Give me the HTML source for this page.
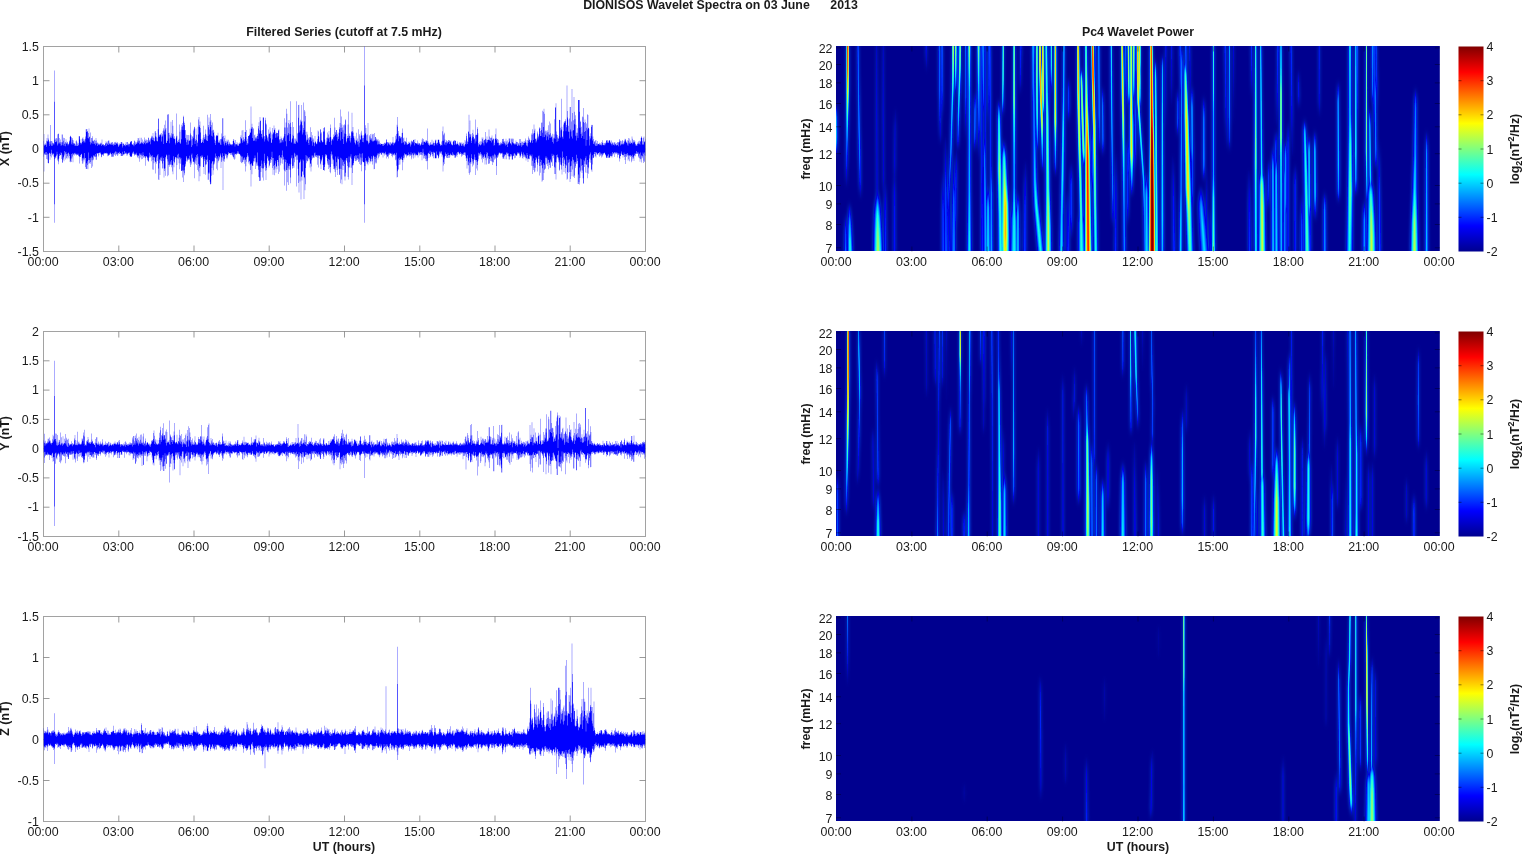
<!DOCTYPE html>
<html lang="en"><head><meta charset="utf-8"><title>DIONISOS Wavelet Spectra on 03 June 2013</title>
<style>html,body{margin:0;padding:0;background:#fff}body{width:1525px;height:854px;overflow:hidden}svg{display:block}</style></head>
<body>
<svg width="1525" height="854" viewBox="0 0 1525 854" font-family='"Liberation Sans", sans-serif' fill="#1a1a1a">
<defs>
<linearGradient id="jet" x1="0" y1="0" x2="0" y2="1"><stop offset="0" stop-color="#800000"/><stop offset="0.125" stop-color="#ff0000"/><stop offset="0.375" stop-color="#ffff00"/><stop offset="0.625" stop-color="#00ffff"/><stop offset="0.875" stop-color="#0000ff"/><stop offset="1" stop-color="#00008f"/></linearGradient>
<filter id="glow" x="-5%" y="-5%" width="110%" height="110%"><feGaussianBlur stdDeviation="1.6 3.5"/><feColorMatrix type="matrix" values="0 0 0 0 0  0 0 0 0 0.12  0 0 0 0 1  0 0 0 0.85 0"/></filter>
<filter id="b" x="-5%" y="-5%" width="110%" height="110%"><feGaussianBlur stdDeviation="0.55 1.2"/></filter>
<clipPath id="cl0"><rect x="43.5" y="46.5" width="602.0" height="205.0"/></clipPath>
<clipPath id="cr0"><rect x="836.0" y="46.0" width="603.8" height="205.0"/></clipPath>
<clipPath id="cl1"><rect x="43.5" y="331.5" width="602.0" height="205.0"/></clipPath>
<clipPath id="cr1"><rect x="836.0" y="331.0" width="603.8" height="205.0"/></clipPath>
<clipPath id="cl2"><rect x="43.5" y="616.5" width="602.0" height="205.0"/></clipPath>
<clipPath id="cr2"><rect x="836.0" y="616.0" width="603.8" height="205.0"/></clipPath>
</defs>
<rect width="1525" height="854" fill="#fff"/>
<text x="720.5" y="9.3" text-anchor="middle" font-size="12.35" font-weight="bold" xml:space="preserve">DIONISOS Wavelet Spectra on 03 June&#160;&#160;&#160;&#160;&#160;&#160;2013</text>
<text x="344.0" y="36.3" text-anchor="middle" font-size="12.35" font-weight="bold">Filtered Series (cutoff at 7.5 mHz)</text>
<text x="1138.0" y="36.3" text-anchor="middle" font-size="12.35" font-weight="bold">Pc4 Wavelet Power</text>
<rect x="43.5" y="46.5" width="602.0" height="205.0" fill="none" stroke="#a2a2a2" stroke-width="1"/>
<text x="43.1" y="265.7" text-anchor="middle" font-size="12.4">00:00</text>
<text x="118.3" y="265.7" text-anchor="middle" font-size="12.4">03:00</text>
<text x="193.6" y="265.7" text-anchor="middle" font-size="12.4">06:00</text>
<text x="268.9" y="265.7" text-anchor="middle" font-size="12.4">09:00</text>
<text x="344.1" y="265.7" text-anchor="middle" font-size="12.4">12:00</text>
<text x="419.4" y="265.7" text-anchor="middle" font-size="12.4">15:00</text>
<text x="494.6" y="265.7" text-anchor="middle" font-size="12.4">18:00</text>
<text x="569.9" y="265.7" text-anchor="middle" font-size="12.4">21:00</text>
<text x="645.1" y="265.7" text-anchor="middle" font-size="12.4">00:00</text>
<text x="38.9" y="255.7" text-anchor="end" font-size="12.4">-1.5</text>
<text x="38.9" y="221.5" text-anchor="end" font-size="12.4">-1</text>
<text x="38.9" y="187.4" text-anchor="end" font-size="12.4">-0.5</text>
<text x="38.9" y="153.2" text-anchor="end" font-size="12.4">0</text>
<text x="38.9" y="119.0" text-anchor="end" font-size="12.4">0.5</text>
<text x="38.9" y="84.9" text-anchor="end" font-size="12.4">1</text>
<text x="38.9" y="50.7" text-anchor="end" font-size="12.4">1.5</text>
<path d="M118.8 251.5v-6M118.8 46.5v6M194.0 251.5v-6M194.0 46.5v6M269.2 251.5v-6M269.2 46.5v6M344.5 251.5v-6M344.5 46.5v6M419.8 251.5v-6M419.8 46.5v6M495.0 251.5v-6M495.0 46.5v6M570.2 251.5v-6M570.2 46.5v6M43.5 217.3h6M645.5 217.3h-6M43.5 183.2h6M645.5 183.2h-6M43.5 149.0h6M645.5 149.0h-6M43.5 114.8h6M645.5 114.8h-6M43.5 80.7h6M645.5 80.7h-6" stroke="#6e6e6e" stroke-width="0.7" fill="none"/>
<g clip-path="url(#cl0)">
<path transform="translate(43.5 0) scale(0.333333 1)" d="M0 141.0h1V134h1V145.7h1V144.2h1V145.1h1V143.2h1V144.7h1V144.6h1V140.7h1V146.7h1V137.9h1V141.6h1V141.3h1V134.6h1V139.9h1V138.6h1V141.5h1V145.9h1V141.6h1V143.7h1V125.1h1V141.3h1V144.7h1V141h1V145.9h1V140.9h1V142.4h1V145.7h1V143h1V143h1V144.3h1V144.4h1V70.4h1V101.8h1V139.8h1V142.1h1V138.5h1V142.2h1V138h1V141.3h1V138.5h1V145.4h1V134.3h1V144.3h1V133.7h1V133.7h1V143h1V142.3h1V138h1V143.9h1V139.6h1V142.2h1V145.7h1V145.3h1V142.3h1V134.5h1V142.3h1V134.6h1V144.9h1V140.7h1V137.8h1V145.9h1V138.1h1V144.1h1V142.7h1V141.9h1V146.2h1V139.2h1V143.6h1V143.5h1V141.5h1V143.4h1V142h1V145.6h1V144h1V144.6h1V143.2h1V140.5h1V141.5h1V136.9h1V135.9h1V135.8h1V137h1V137.5h1V144.2h1V142.4h1V139.7h1V137.9h1V144.7h1V140.2h1V143.4h1V142.9h1V143.3h1V143.9h1V145.9h1V145.7h1V144.4h1V140.9h1V146h1V140.3h1V141.8h1V146.1h1V143.4h1V146h1V143.3h1V144.9h1V136.2h1V136.1h1V136.5h1V139.4h1V143h1V142.5h1V144.5h1V142.8h1V143.4h1V139h1V141.9h1V138.3h1V137.3h1V141h1V139.3h1V142.5h1V141.2h1V139.5h1V142.5h1V138.7h1V136.6h1V129.2h1V129.2h1V131.9h1V128.9h1V130.9h1V131.8h1V138.1h1V132.9h1V138.6h1V128.4h1V136.8h1V136.8h1V141.8h1V144.4h1V132.6h1V142.3h1V143.3h1V138h1V138h1V140.7h1V136.2h1V143.9h1V141.1h1V141.4h1V140.1h1V139.7h1V144h1V143h1V140.8h1V145.2h1V137.9h1V140.6h1V143.6h1V143.4h1V145.9h1V142.4h1V142.7h1V145.1h1V144h1V143.3h1V145.3h1V144h1V144.7h1V143.8h1V142.7h1V143.8h1V142.8h1V146.1h1V139.6h1V144.6h1V145h1V143.9h1V144.1h1V145.3h1V145.8h1V145.1h1V145h1V146.5h1V143.8h1V143.3h1V141.3h1V142.8h1V146.1h1V142.3h1V144.5h1V143.6h1V141h1V145h1V140.6h1V140.6h1V144.3h1V142.8h1V143.7h1V144.7h1V143.7h1V142.6h1V142.8h1V144.7h1V142.2h1V144.9h1V142.1h1V144.1h1V143.4h1V145.7h1V144.7h1V144.8h1V141.9h1V143h1V142.2h1V144.9h1V141.7h1V143.1h1V143.8h1V143.5h1V143.4h1V141.9h1V144.8h1V145.7h1V146.9h1V143.2h1V145.6h1V144.5h1V143.6h1V144.2h1V144h1V142h1V143.7h1V142h1V141.9h1V147.6h1V143.4h1V146.1h1V143.7h1V143.4h1V143.8h1V145.1h1V145.4h1V145.3h1V144.1h1V146.3h1V142.3h1V145.1h1V145.3h1V142h1V142.1h1V145.2h1V144.6h1V144.6h1V143.5h1V146.6h1V144.2h1V144.1h1V143.1h1V142h1V141.4h1V141.4h1V141.2h1V141h1V144.2h1V144.8h1V144.5h1V144.3h1V145.3h1V142.9h1V146.2h1V141.3h1V140.6h1V144.2h1V145.1h1V141.8h1V143.6h1V142.2h1V144.1h1V143.6h1V142.3h1V140.4h1V138h1V142.8h1V138.3h1V141h1V140.5h1V144.3h1V137.8h1V144h1V142.8h1V143.6h1V142.1h1V137.7h1V142.9h1V142.8h1V139.6h1V143.9h1V144.2h1V141.4h1V142.2h1V137.5h1V143h1V140h1V140.9h1V144.2h1V139.1h1V142.9h1V140.3h1V143.5h1V140h1V142.3h1V143h1V137.9h1V137.6h1V141.5h1V141.8h1V139.8h1V140.4h1V138.3h1V144.3h1V139.3h1V135.8h1V137.5h1V137.5h1V139.9h1V136.2h1V132.9h1V140.6h1V137.4h1V137.9h1V141.6h1V140.9h1V131.4h1V131h1V136.5h1V133.1h1V140.8h1V136.7h1V137.7h1V141.3h1V141.3h1V129.2h1V118.2h1V118.9h1V136.4h1V135h1V136.8h1V134.3h1V133.8h1V134.9h1V135.6h1V133.1h1V141.4h1V137.1h1V135.8h1V134.2h1V131.1h1V144.1h1V128.3h1V129.8h1V124.8h1V131.5h1V134.4h1V120.5h1V129.5h1V128.1h1V142.9h1V142.7h1V140.5h1V141h1V114.8h1V114.2h1V114.2h1V132.9h1V138.4h1V143.2h1V132.7h1V135.1h1V136.6h1V137.8h1V121.7h1V138h1V133.3h1V136.4h1V134.3h1V119.9h1V125.8h1V133.8h1V137.7h1V138.9h1V136.2h1V138.8h1V139.3h1V144.5h1V142.7h1V138.2h1V113.5h1V136.5h1V135.8h1V140.9h1V143h1V141.9h1V140.1h1V142h1V138.8h1V124.5h1V142.4h1V131.7h1V144.1h1V142.8h1V129.8h1V139.2h1V124.8h1V126.9h1V122.9h1V125.7h1V130.1h1V115.8h1V116.9h1V121.5h1V123h1V125.1h1V130.3h1V130.1h1V138h1V139.6h1V142.2h1V134.7h1V145.1h1V140.2h1V135.1h1V139.5h1V135.1h1V144.4h1V141.1h1V140.5h1V140.4h1V135.2h1V133.6h1V122.5h1V140.6h1V135.3h1V147h1V138.9h1V145.2h1V136.5h1V136.5h1V138.3h1V130.5h1V128.8h1V127.2h1V126.7h1V143.9h1V140.9h1V139.2h1V128.4h1V140h1V134.8h1V146.3h1V143h1V141.5h1V126.7h1V134.5h1V119.5h1V117h1V125.2h1V127h1V121.5h1V128.1h1V132.4h1V139.1h1V142.9h1V142.9h1V142h1V139.7h1V141.8h1V137.8h1V143.1h1V125.7h1V135.1h1V139.2h1V137.2h1V139.2h1V133.8h1V129.4h1V134.3h1V139.9h1V135.6h1V141.1h1V141.1h1V114.8h1V135.9h1V124.9h1V127.3h1V117.5h1V129.6h1V134.5h1V121.7h1V126.9h1V113.9h1V120.3h1V124.9h1V135.7h1V130.8h1V136.6h1V122.5h1V130h1V129.7h1V133.1h1V131.8h1V135.4h1V139.4h1V143h1V140.7h1V145h1V136.4h1V135.3h1V135.8h1V135h1V136h1V135.5h1V132.8h1V142.3h1V142.7h1V140.3h1V141.4h1V142.9h1V139.4h1V144.4h1V139h1V145h1V133.6h1V138.8h1V139.4h1V136.7h1V118.2h1V118.2h1V135.9h1V141.6h1V143.7h1V137.9h1V145.5h1V135.4h1V141.5h1V143.1h1V140.9h1V142.7h1V145.2h1V139.6h1V140.7h1V142.1h1V144h1V139.7h1V144.4h1V145.7h1V143.7h1V141.7h1V143.3h1V144.9h1V144.1h1V144.2h1V144.9h1V143.9h1V145.5h1V144.1h1V144.4h1V141h1V139h1V140.9h1V139.7h1V143.3h1V142.5h1V146.6h1V139.9h1V144.3h1V144.4h1V144.3h1V144.2h1V142h1V143.4h1V145.6h1V145.6h1V144.5h1V145.9h1V142.9h1V142.5h1V144.1h1V144.1h1V136.9h1V143.1h1V135.3h1V138.8h1V138.3h1V130.5h1V140.5h1V142.8h1V130h1V137.2h1V140.3h1V141.7h1V141.2h1V138.9h1V132.1h1V132h1V120.2h1V137h1V129.9h1V140.8h1V145.1h1V138.8h1V143.2h1V143.4h1V136.1h1V136.1h1V136h1V134.7h1V134.8h1V128.7h1V132.6h1V132.7h1V106.6h1V129h1V127.4h1V123.7h1V127.1h1V138h1V128.6h1V128.6h1V140.8h1V140.8h1V140.6h1V135.3h1V134.4h1V138.6h1V137.3h1V141.2h1V137.2h1V138.6h1V136.1h1V136.1h1V133.7h1V138.9h1V125.9h1V128.5h1V122.2h1V130.3h1V133.5h1V117h1V120.8h1V120.7h1V130.8h1V133.9h1V133.8h1V137h1V130h1V138.5h1V117.4h1V117.5h1V117.5h1V136.5h1V141.5h1V135.9h1V139.3h1V117.8h1V120.3h1V123.6h1V124.5h1V135h1V136.3h1V138.3h1V140.4h1V136.7h1V141.4h1V129.4h1V134.2h1V132.8h1V134h1V127.3h1V131.5h1V138.2h1V132.7h1V142.9h1V142.5h1V134.5h1V139.5h1V127.9h1V134.2h1V131.9h1V133h1V125.5h1V129.9h1V129.6h1V128h1V134.1h1V137.8h1V131.7h1V133.3h1V133h1V137.5h1V133h1V133h1V136.3h1V129.8h1V130.8h1V129.6h1V140.3h1V138.9h1V143.2h1V138.9h1V142.4h1V136.6h1V142.5h1V138.4h1V138.2h1V140.1h1V140.6h1V142.2h1V138.5h1V137.6h1V136.2h1V118.3h1V127.5h1V134h1V127.4h1V141.2h1V122.5h1V146.3h1V108.7h1V113.7h1V127.5h1V135.5h1V134.8h1V133h1V123.1h1V119.9h1V124.3h1V140.9h1V133.9h1V101.2h1V122.7h1V127h1V141.8h1V142.8h1V139.2h1V138.2h1V122.1h1V134.7h1V136h1V127.1h1V143.7h1V138.4h1V143.4h1V142.6h1V138.4h1V144.1h1V139.6h1V101.2h1V140.9h1V141.9h1V142.7h1V133.6h1V132.7h1V117.8h1V105h1V104.8h1V132.5h1V125.4h1V130.4h1V124.6h1V119.7h1V121.3h1V104.9h1V122.3h1V120.7h1V125.2h1V134.4h1V132.5h1V127.9h1V102.5h1V129.9h1V121.4h1V109.9h1V111.4h1V115.9h1V135.2h1V131.7h1V141.5h1V139.7h1V131.8h1V140h1V134.4h1V138.7h1V142.9h1V137.8h1V145h1V137.1h1V139.7h1V137.6h1V127.2h1V137.2h1V137.3h1V132h1V141.3h1V138.3h1V145.8h1V135.3h1V139.8h1V142.3h1V138.6h1V142.5h1V143.2h1V146.2h1V135.9h1V141.9h1V141.2h1V142.7h1V144.3h1V143.6h1V143.7h1V141.6h1V139h1V130.5h1V135.9h1V131.5h1V136.7h1V141.8h1V141.7h1V142.7h1V129.4h1V129.2h1V133.6h1V132.2h1V140.6h1V140.4h1V142.5h1V141.8h1V142.1h1V131.5h1V127.9h1V131.5h1V127.5h1V127.3h1V139.5h1V145.1h1V144.6h1V142.5h1V145.1h1V137.7h1V141.2h1V132.5h1V137.4h1V138.3h1V134.5h1V138.5h1V131.1h1V137.8h1V142.1h1V136.7h1V124.4h1V128h1V137.2h1V144.8h1V140.7h1V139.3h1V138.8h1V139.5h1V140.6h1V137.3h1V134.4h1V137.3h1V117.7h1V136h1V127.5h1V132h1V134.9h1V133.5h1V130.1h1V130.1h1V137.1h1V134.3h1V140.8h1V132.2h1V139.1h1V136.5h1V132.9h1V127.3h1V129.3h1V123h1V140.5h1V109.4h1V127.9h1V132.1h1V116.6h1V124.6h1V127.4h1V139h1V130.3h1V125.3h1V144.1h1V136.8h1V133.4h1V124.2h1V125.2h1V120.3h1V119.3h1V133.9h1V142.5h1V141.2h1V138.8h1V138.1h1V136h1V124.5h1V111.4h1V138h1V135.8h1V133.4h1V136h1V140.8h1V135.8h1V142.4h1V137.9h1V132.3h1V131.2h1V112.8h1V132.4h1V130.9h1V127h1V136.2h1V132.4h1V138h1V139.4h1V142.5h1V136.2h1V143.3h1V144.4h1V140.3h1V140.6h1V132.7h1V140.8h1V138.6h1V142.1h1V144.4h1V141.3h1V129.3h1V146.7h1V134.2h1V142.8h1V135.7h1V139h1V140h1V132.6h1V134.8h1V130.7h1V136h1V141.9h1V138.2h1V135h1V137.9h1V142.3h1V135.5h1V43.1h1V85.5h1V134.2h1V125.3h1V133.2h1V127.9h1V135.3h1V140.3h1V141.3h1V134.6h1V140.7h1V122.9h1V144.3h1V142.8h1V141.5h1V142.9h1V135.2h1V136.6h1V133.9h1V139.7h1V138.2h1V140.6h1V138.6h1V133.7h1V134.4h1V141.6h1V140.7h1V141.5h1V134.1h1V140.7h1V133h1V140.2h1V140.8h1V136.9h1V136.9h1V139.4h1V141.3h1V138.6h1V139.8h1V144.4h1V140.5h1V138.9h1V140.7h1V144.3h1V142.3h1V144.3h1V140.6h1V144.2h1V145h1V143.2h1V143.5h1V143.9h1V143.9h1V144h1V145.8h1V144h1V143.7h1V144.2h1V145.9h1V143.6h1V142.7h1V145.1h1V142.7h1V143.5h1V143.8h1V142.5h1V139.5h1V139.5h1V142.2h1V142.3h1V145.5h1V142.1h1V143.2h1V142.6h1V144.2h1V144.4h1V142.5h1V145.2h1V142.3h1V145.6h1V142.6h1V144.1h1V143.3h1V144.5h1V142.8h1V142.3h1V136.9h1V145.2h1V142.7h1V142.5h1V142.8h1V143.8h1V142.8h1V141.8h1V135.7h1V140.3h1V138.7h1V134h1V124.8h1V126.8h1V116.9h1V133.6h1V141.2h1V131.1h1V136.4h1V135.8h1V135.9h1V138.6h1V138.2h1V136.5h1V136.8h1V137.2h1V143.3h1V133.1h1V132.7h1V128.6h1V143.1h1V138.2h1V142h1V137.5h1V144.7h1V141h1V144.2h1V141h1V141.7h1V142.1h1V142.8h1V137.7h1V144.7h1V143.5h1V144.7h1V144.1h1V144.1h1V141.8h1V143.5h1V141.7h1V143.1h1V143.1h1V144.6h1V146.4h1V141.6h1V144.5h1V140.6h1V141.3h1V141.5h1V141.7h1V143.2h1V139.7h1V140.1h1V139.9h1V145.4h1V142.1h1V139.1h1V143.2h1V142.9h1V142.9h1V143.7h1V143.3h1V143.4h1V140.6h1V143.6h1V145h1V142.8h1V144.6h1V143.8h1V143h1V143.6h1V145.5h1V145.5h1V144.3h1V144.7h1V143.6h1V142.2h1V139.5h1V138.2h1V144.9h1V141.6h1V144.8h1V139h1V141.7h1V141.9h1V141.7h1V140.7h1V142.3h1V143.1h1V140.3h1V141.8h1V140.3h1V141.1h1V128.5h1V143.3h1V141.3h1V144.9h1V142.7h1V144.1h1V145.9h1V145.1h1V142.9h1V144.8h1V142h1V144.7h1V144h1V145h1V139.8h1V143.9h1V144.9h1V143.2h1V141.5h1V143.1h1V145.7h1V145.4h1V142.9h1V142.8h1V139.8h1V140.8h1V139.8h1V143.6h1V143.5h1V145.3h1V143h1V142.5h1V139.8h1V139.8h1V139.8h1V139.8h1V142.2h1V143.5h1V144.1h1V145.9h1V144.7h1V144.8h1V145h1V141.6h1V145.4h1V140.7h1V131.3h1V126.5h1V135.3h1V140.8h1V134.1h1V132.7h1V144.4h1V139.6h1V142.6h1V142.3h1V145.3h1V139.9h1V141.5h1V142.8h1V141h1V143.6h1V142.3h1V142h1V140h1V140h1V143.9h1V140.4h1V140.9h1V142.6h1V141.6h1V140.6h1V143.8h1V144.8h1V144.6h1V145.1h1V145.4h1V141.7h1V141.5h1V140.8h1V140.8h1V140.2h1V144.8h1V140.2h1V140.7h1V141.1h1V144.2h1V144.8h1V143.6h1V143.7h1V141.6h1V144h1V143.3h1V144.4h1V145h1V146.2h1V142.2h1V145.4h1V142.8h1V143.4h1V142.5h1V144.5h1V145.8h1V142.4h1V145.9h1V144.2h1V143.8h1V142.4h1V145.5h1V143.3h1V146.4h1V144.7h1V146.5h1V139.9h1V143.9h1V141.4h1V144.5h1V136.1h1V133.4h1V138.6h1V143.9h1V141.3h1V142.1h1V132h1V131.2h1V114.8h1V133.8h1V137.4h1V120.5h1V136.7h1V134.5h1V134h1V142.9h1V140.7h1V138.3h1V133h1V136.4h1V129.8h1V136.9h1V134.5h1V139.5h1V139h1V137.9h1V143.6h1V119.6h1V135.3h1V141.5h1V134.8h1V134.8h1V135.1h1V127.2h1V129.1h1V133.3h1V146.4h1V142.9h1V144.7h1V141.7h1V144h1V144.9h1V141.2h1V145.4h1V144.8h1V141.4h1V144.2h1V137.4h1V142.4h1V139h1V137.6h1V140.4h1V143.2h1V145.4h1V140.3h1V140h1V139.3h1V132h1V138.7h1V142.3h1V139.4h1V143.3h1V136.6h1V142.2h1V139.9h1V140h1V139.8h1V139.6h1V129.6h1V136.6h1V139.9h1V140.8h1V137.7h1V141h1V137.9h1V142.5h1V137.6h1V135.6h1V139.7h1V140.5h1V138.4h1V138.6h1V139.3h1V145.8h1V142.8h1V145.1h1V138.7h1V138.7h1V134.3h1V128.5h1V138.2h1V140.3h1V138.9h1V138.9h1V142.8h1V142.7h1V142.7h1V139.8h1V145.5h1V143.2h1V145.1h1V145.6h1V142.3h1V143.8h1V144.7h1V143.5h1V143.3h1V141.6h1V144.1h1V138.9h1V138.9h1V138.8h1V141.8h1V144.3h1V143.1h1V141.5h1V141.2h1V143.7h1V145.6h1V138.7h1V141.4h1V145h1V143.8h1V147.1h1V140.4h1V144h1V142.4h1V142.4h1V138.6h1V138.6h1V141.4h1V138.5h1V142.9h1V143.4h1V144.1h1V145.2h1V138.4h1V139.3h1V138.4h1V142.1h1V142.9h1V138.8h1V143.8h1V143.1h1V144.6h1V143.6h1V144.2h1V144.4h1V143.3h1V140.5h1V142h1V144.5h1V141.9h1V146h1V142.2h1V145.7h1V143.2h1V144.5h1V142.8h1V145.5h1V139h1V145.4h1V139.1h1V143h1V143.1h1V146.8h1V141.5h1V145.1h1V142.1h1V145.5h1V141.2h1V142.9h1V145h1V142.5h1V142.7h1V140.9h1V143h1V142h1V138.4h1V140.3h1V142.8h1V145.5h1V145.4h1V146.6h1V140h1V143h1V136.6h1V140.8h1V138.1h1V139.3h1V140h1V141.9h1V142.3h1V142.9h1V140.2h1V133.5h1V140.4h1V135.1h1V142.9h1V129.3h1V133.6h1V140.1h1V133.5h1V124.6h1V133h1V130.4h1V128.8h1V138.8h1V138.7h1V142.4h1V139.5h1V141.2h1V137.8h1V133.4h1V131.4h1V139.4h1V137.3h1V135.8h1V134.3h1V128.7h1V127.3h1V128h1V135.9h1V131h1V136h1V122.7h1V130.1h1V122.4h1V110.7h1V132.8h1V137.2h1V127.1h1V111.8h1V108.8h1V113.7h1V136.9h1V131.5h1V130.4h1V134.6h1V135.5h1V140.3h1V130.7h1V132.8h1V130.2h1V136.6h1V132h1V139.7h1V125.2h1V134.3h1V134.8h1V121.6h1V138.1h1V133.3h1V123.5h1V137.7h1V135.4h1V136.9h1V136.6h1V133.7h1V141.9h1V139.2h1V143.4h1V137.7h1V134.3h1V137.7h1V119.2h1V139.1h1V107.5h1V107.5h1V103.3h1V131.4h1V134.6h1V142.1h1V135.1h1V137.4h1V141.1h1V138.2h1V138.7h1V136.2h1V119.7h1V119.9h1V119.9h1V137.4h1V127.7h1V130.6h1V129.6h1V98.8h1V126.7h1V137.2h1V136.5h1V138.7h1V124.4h1V131.3h1V122.3h1V123h1V120.9h1V122.3h1V121.1h1V119.3h1V131.3h1V125h1V127.3h1V85.4h1V110.9h1V117.4h1V119.4h1V125.7h1V131.6h1V132.1h1V138.6h1V118.4h1V107.1h1V107.1h1V129.6h1V131.5h1V121.4h1V136.6h1V88.9h1V112.9h1V138.6h1V130.8h1V120.3h1V129.9h1V96.9h1V111.8h1V124.3h1V119h1V135.7h1V115.2h1V124.8h1V140.4h1V132.8h1V135.8h1V128.2h1V132.8h1V138.1h1V100h1V100h1V100h1V100h1V111.8h1V127.8h1V122.1h1V120.7h1V133.9h1V126.7h1V138.1h1V132.5h1V136h1V116.5h1V117.2h1V108h1V122.1h1V138.9h1V132h1V123h1V119.5h1V122h1V131.1h1V145.7h1V123.4h1V127.8h1V139.9h1V114.2h1V129.4h1V115.1h1V128h1V127.8h1V128.7h1V136.3h1V145.4h1V139.4h1V133.2h1V138.3h1V136.2h1V126.9h1V125.3h1V124.8h1V124.9h1V140.6h1V136.5h1V144h1V138.9h1V143.6h1V142.1h1V141.1h1V144.8h1V140.4h1V146h1V139.9h1V143.3h1V146.1h1V143.4h1V145.4h1V141h1V144.1h1V144.2h1V144h1V143.6h1V142.7h1V144.5h1V145.3h1V143.3h1V145.1h1V144.1h1V142.1h1V145.6h1V145h1V140.3h1V142.8h1V142.8h1V144.9h1V145.2h1V143.6h1V142.9h1V145.2h1V145.2h1V142.6h1V143.7h1V143h1V140.2h1V140.8h1V140.3h1V140.3h1V142.5h1V142.8h1V141.4h1V143h1V140.3h1V140.3h1V140.4h1V140.4h1V142.7h1V142.3h1V143.7h1V144.2h1V140.4h1V145.6h1V142.6h1V143.4h1V142.3h1V144.8h1V144.8h1V143.3h1V145.5h1V142.3h1V142.2h1V144.3h1V143.7h1V145.2h1V145.4h1V143.1h1V145.2h1V145.1h1V142h1V142.5h1V141.9h1V146.3h1V142.7h1V141.7h1V138.9h1V140.2h1V141.1h1V145.5h1V144.4h1V143.7h1V141.3h1V144.8h1V140h1V143.9h1V141h1V144.5h1V143.2h1V143.8h1V141.8h1V140.6h1V138.7h1V139h1V140.3h1V141.4h1V142.8h1V141.8h1V142.9h1V144.4h1V140.3h1V145.7h1V138.1h1V140.8h1V143.5h1V138.5h1V142.4h1V143.7h1V140.6h1V143.7h1V142.1h1V143.1h1V143.1h1V136.6h1V144.3h1V138.8h1V142.8h1V141.8h1V140.1h1V143.3h1V140.2h1V141.9h1V141.2h1V145.4h1V143.7h1V144.1h1V145.6h1V145.2h1V146h1V142.5h1V143.9h1V144.3h1V142.8h1V141.2h1V144.1h1V140.8h1V143.4h1V144.7h1V140.9h1V141.8h1V137.9h1V137.2h1V136.2h1V138.1h1V144.7h1V141.2h1V144.1h1V144.7h1V137.8h1V136.4h1V142.2h1V141.6h1V141.2h1V138.8h1V156h-1V155.2h-1V152.5h-1V162.1h-1V160.8h-1V163h-1V153.7h-1V152.6h-1V156.6h-1V158.2h-1V156h-1V162.5h-1V155.2h-1V158.8h-1V159.2h-1V152.6h-1V161.7h-1V158.3h-1V154.3h-1V153.3h-1V156.3h-1V157.4h-1V152.1h-1V153.9h-1V152.8h-1V154h-1V150.9h-1V153.8h-1V153.6h-1V154h-1V156.2h-1V153.3h-1V155.9h-1V155.1h-1V160.9h-1V156.6h-1V158.2h-1V158.9h-1V157.3h-1V154.7h-1V160.7h-1V162.3h-1V155.9h-1V155.5h-1V157.1h-1V155.1h-1V156h-1V161.3h-1V154.9h-1V156h-1V159.2h-1V154.8h-1V160.5h-1V153h-1V155.6h-1V154.4h-1V153.7h-1V157h-1V156.3h-1V164h-1V154h-1V160h-1V156.9h-1V154.1h-1V152.5h-1V155h-1V155.6h-1V157.6h-1V155.1h-1V154.8h-1V154.8h-1V151.4h-1V153.8h-1V153.4h-1V155.9h-1V156.3h-1V159h-1V157.9h-1V161.6h-1V153.6h-1V153.5h-1V155.1h-1V154.9h-1V157.6h-1V153.3h-1V152.6h-1V154.1h-1V152.4h-1V152.7h-1V152.6h-1V154.3h-1V152.8h-1V157h-1V152h-1V152.8h-1V153.1h-1V154.3h-1V154.3h-1V155.8h-1V152.1h-1V157.5h-1V156h-1V156.4h-1V153.6h-1V156h-1V155.8h-1V157.6h-1V157.6h-1V157.7h-1V157.7h-1V157.7h-1V154.3h-1V154.8h-1V157.7h-1V156.1h-1V157.7h-1V157.8h-1V157.8h-1V156.3h-1V155h-1V154.6h-1V154.1h-1V152.6h-1V153.1h-1V153.1h-1V154.5h-1V153.2h-1V154.3h-1V156.5h-1V155.2h-1V152.9h-1V154.1h-1V157.5h-1V155.6h-1V155.6h-1V153.6h-1V152.3h-1V156.7h-1V152.3h-1V155.5h-1V153h-1V153.2h-1V153.2h-1V154.4h-1V154.4h-1V154.5h-1V153h-1V152.3h-1V157.4h-1V151.9h-1V155.7h-1V156.8h-1V152.1h-1V154h-1V154h-1V157.4h-1V158.1h-1V158.3h-1V155.2h-1V164.4h-1V171.7h-1V170.2h-1V169.3h-1V159.8h-1V152.4h-1V162.8h-1V154.1h-1V155.3h-1V158.6h-1V162.3h-1V168.3h-1V173.7h-1V167.1h-1V178.3h-1V159.9h-1V173.1h-1V164.5h-1V164.8h-1V156.2h-1V158.1h-1V172.4h-1V164.1h-1V167h-1V161.3h-1V159.8h-1V183.2h-1V183.8h-1V178.2h-1V170.5h-1V165h-1V173h-1V165.7h-1V159.2h-1V170.3h-1V171.5h-1V158.5h-1V178.1h-1V167.4h-1V184.4h-1V181.9h-1V174.4h-1V184.1h-1V184h-1V160.9h-1V158.2h-1V163.8h-1V154.8h-1V163.7h-1V161.7h-1V167.9h-1V166.3h-1V162.1h-1V175.6h-1V178h-1V163.5h-1V176.7h-1V160.2h-1V159.4h-1V157h-1V169.5h-1V176.3h-1V161.3h-1V165.8h-1V172.1h-1V166.2h-1V179.1h-1V182h-1V172h-1V159.3h-1V161.9h-1V162.9h-1V172.8h-1V159.8h-1V178.8h-1V172.1h-1V179.8h-1V165.4h-1V156.1h-1V165.2h-1V167.9h-1V173.5h-1V164h-1V160.3h-1V158.4h-1V172.1h-1V166.1h-1V157.1h-1V162.9h-1V151.4h-1V158.1h-1V174.5h-1V165.4h-1V169.5h-1V164.6h-1V157.5h-1V164.7h-1V162.2h-1V170.8h-1V169.8h-1V160.2h-1V158.3h-1V162.2h-1V157.1h-1V157.3h-1V154.5h-1V158.6h-1V154.9h-1V162.4h-1V179.5h-1V173.9h-1V162.3h-1V167.8h-1V166.7h-1V173.9h-1V155.2h-1V158.2h-1V154.4h-1V155.8h-1V155.9h-1V166.1h-1V153.8h-1V162h-1V162.8h-1V161.3h-1V159.4h-1V167.7h-1V167.7h-1V164.9h-1V162.4h-1V162.8h-1V160h-1V169.3h-1V159.5h-1V165.9h-1V163.4h-1V157.6h-1V164.3h-1V158.3h-1V156.2h-1V168.4h-1V157.7h-1V169h-1V164.8h-1V169.9h-1V173.1h-1V180h-1V162.9h-1V164.5h-1V168.3h-1V180.5h-1V181.7h-1V164.9h-1V159.9h-1V165.9h-1V162h-1V172.7h-1V159.3h-1V175.5h-1V165.9h-1V155.6h-1V159h-1V156.2h-1V163.1h-1V171.4h-1V164.7h-1V162h-1V159.2h-1V158.1h-1V157.1h-1V159.9h-1V167.7h-1V171.5h-1V172.3h-1V163.1h-1V167.7h-1V170.1h-1V158.6h-1V165.9h-1V160.7h-1V174.1h-1V154.6h-1V165.8h-1V155.9h-1V157.2h-1V156.1h-1V155.1h-1V154.3h-1V159.2h-1V155.7h-1V159.1h-1V158.2h-1V159.1h-1V162h-1V159.3h-1V155.1h-1V153.1h-1V158h-1V158.8h-1V160.4h-1V157.6h-1V155.5h-1V157.5h-1V154.4h-1V156.5h-1V154.7h-1V156.7h-1V152.4h-1V158.8h-1V155.5h-1V158h-1V154.1h-1V151.7h-1V153.5h-1V155.8h-1V155.5h-1V157h-1V158.1h-1V155.6h-1V153.8h-1V152.5h-1V152.8h-1V153.5h-1V154h-1V152.3h-1V153.5h-1V155.4h-1V155.9h-1V155.3h-1V155.5h-1V157.7h-1V154.8h-1V153.8h-1V153.2h-1V158.2h-1V153.5h-1V156.1h-1V155.4h-1V156.3h-1V159.5h-1V159.6h-1V159.6h-1V156.3h-1V154.6h-1V154.6h-1V154.1h-1V156.2h-1V157h-1V159.5h-1V156.2h-1V159.4h-1V156.5h-1V153.3h-1V156.1h-1V153.8h-1V153.5h-1V152.2h-1V152.8h-1V159.3h-1V154.7h-1V154.8h-1V154.6h-1V159.2h-1V155.5h-1V156.5h-1V154.1h-1V158.8h-1V157.4h-1V159.1h-1V157.2h-1V152.7h-1V154h-1V153.1h-1V153.7h-1V152.8h-1V153.4h-1V154.4h-1V153h-1V152.6h-1V153.6h-1V152.8h-1V155.4h-1V154.2h-1V157h-1V155.3h-1V157.9h-1V157.4h-1V166.1h-1V175h-1V156.5h-1V154.7h-1V158.5h-1V158.6h-1V159.8h-1V153.7h-1V154.9h-1V156.6h-1V162.5h-1V162h-1V164.9h-1V155.6h-1V161.5h-1V158.3h-1V161.2h-1V156.2h-1V157.3h-1V161h-1V156.3h-1V163.2h-1V159h-1V163.9h-1V163.8h-1V155.9h-1V157.7h-1V153h-1V158.5h-1V152h-1V164.4h-1V154.2h-1V160.2h-1V157.3h-1V158h-1V164.4h-1V155.8h-1V154.2h-1V157.8h-1V157h-1V159.1h-1V155.6h-1V162.5h-1V157.8h-1V154.8h-1V159.2h-1V153.8h-1V156.2h-1V152h-1V154.4h-1V153.6h-1V155.6h-1V153.4h-1V155.8h-1V152.7h-1V159.3h-1V161.1h-1V164.9h-1V170.4h-1V162h-1V168.6h-1V160.1h-1V160.3h-1V160.2h-1V175h-1V157.3h-1V154.6h-1V159.9h-1V159h-1V165.3h-1V163.6h-1V160.7h-1V166.6h-1V159h-1V162.3h-1V158.1h-1V154.3h-1V164h-1V161.9h-1V172.2h-1V163.1h-1V174.8h-1V157.7h-1V172.9h-1V165.2h-1V161.4h-1V165.3h-1V155.3h-1V158.4h-1V168.6h-1V157.8h-1V161h-1V158.6h-1V152.5h-1V155.9h-1V155.1h-1V153h-1V152h-1V155.1h-1V152.7h-1V155.1h-1V154h-1V155.4h-1V153.8h-1V155.6h-1V153.2h-1V156.7h-1V153.9h-1V153.9h-1V152h-1V153.3h-1V154.8h-1V153.4h-1V154h-1V151.7h-1V152.8h-1V152h-1V155.1h-1V152.3h-1V157h-1V153.5h-1V155.4h-1V155.8h-1V157.6h-1V157.8h-1V154.7h-1V157.8h-1V155h-1V155.5h-1V153.8h-1V155.2h-1V155.2h-1V156.1h-1V152.2h-1V155h-1V154.9h-1V155.4h-1V154.4h-1V153.6h-1V154.8h-1V156.5h-1V158h-1V154.9h-1V154.9h-1V158.1h-1V155h-1V152.7h-1V158.1h-1V156h-1V158.1h-1V157.5h-1V154.3h-1V153.9h-1V152.6h-1V156.1h-1V156.2h-1V159.3h-1V164.1h-1V157.6h-1V165.5h-1V162.3h-1V171.6h-1V155.2h-1V154.6h-1V156.7h-1V151.5h-1V153.7h-1V151.2h-1V152.6h-1V153.8h-1V152.6h-1V154.6h-1V151.4h-1V156.7h-1V158.2h-1V158.2h-1V156.1h-1V155.3h-1V154.7h-1V154.6h-1V151.5h-1V158.2h-1V158.2h-1V158.2h-1V158.2h-1V158.2h-1V152.9h-1V152.3h-1V152.8h-1V158.2h-1V151.8h-1V155.8h-1V154.1h-1V156.6h-1V152.1h-1V153.4h-1V151.7h-1V155h-1V157h-1V155.7h-1V150.8h-1V154h-1V154h-1V157.9h-1V152.7h-1V153.2h-1V153.8h-1V160.8h-1V169.5h-1V158.5h-1V155.4h-1V161.3h-1V160.9h-1V158.9h-1V154.8h-1V155.7h-1V155.7h-1V158.2h-1V154h-1V152.6h-1V158.5h-1V148.8h-1V155.2h-1V152.8h-1V160.2h-1V152.1h-1V155.1h-1V154.3h-1V154.9h-1V152.1h-1V152.5h-1V155.5h-1V152.8h-1V154.3h-1V152.7h-1V151.8h-1V157.4h-1V155.1h-1V155.1h-1V155.9h-1V154.3h-1V154.9h-1V154.9h-1V155.4h-1V153.5h-1V157.6h-1V153.6h-1V154.5h-1V152.5h-1V158.6h-1V155.2h-1V155.3h-1V154.3h-1V153h-1V157.6h-1V154.8h-1V159.2h-1V152.3h-1V154.4h-1V155.7h-1V155.4h-1V154.1h-1V156.5h-1V155h-1V155h-1V152.6h-1V156.2h-1V154.9h-1V155.5h-1V155.9h-1V154.4h-1V157.6h-1V154.2h-1V155.2h-1V154.2h-1V154.3h-1V153.3h-1V157.6h-1V159.6h-1V157.9h-1V155.4h-1V162.3h-1V160.1h-1V170.2h-1V160.1h-1V159.3h-1V156.7h-1V158.5h-1V159.7h-1V158.7h-1V164.4h-1V159.9h-1V157.5h-1V165h-1V158.6h-1V169.5h-1V169.5h-1V171.2h-1V177h-1V177.4h-1V165.7h-1V152.7h-1V159.6h-1V160.2h-1V155.1h-1V154.2h-1V153.1h-1V155.6h-1V153.7h-1V154.2h-1V154.9h-1V155.7h-1V157.3h-1V154.6h-1V152.8h-1V156h-1V153.9h-1V153.7h-1V154h-1V153h-1V152.8h-1V153.7h-1V155.1h-1V152.8h-1V158.5h-1V154.6h-1V156.1h-1V156.6h-1V157h-1V153.9h-1V158.5h-1V155.2h-1V154.6h-1V151.7h-1V154.6h-1V153.1h-1V155.4h-1V153.5h-1V153.5h-1V153.4h-1V152.6h-1V157.5h-1V152.7h-1V153h-1V152.2h-1V154.2h-1V155.1h-1V154.5h-1V153.2h-1V152.9h-1V152.2h-1V153.9h-1V156.4h-1V153h-1V153.8h-1V157.7h-1V159.4h-1V153.4h-1V155.3h-1V155.5h-1V162.7h-1V157.8h-1V163.8h-1V162.4h-1V156.7h-1V159h-1V156.7h-1V169.1h-1V169.2h-1V155.4h-1V155.9h-1V157.4h-1V164.4h-1V161.2h-1V159h-1V161.4h-1V156.3h-1V158.8h-1V161.5h-1V161.3h-1V163.5h-1V157.8h-1V158.2h-1V159.7h-1V156.5h-1V162.1h-1V165.2h-1V163.6h-1V161.4h-1V163.8h-1V160.5h-1V161.9h-1V161.1h-1V170.2h-1V157.9h-1V166.1h-1V204.3h-1V222.8h-1V162.4h-1V162.2h-1V162h-1V162h-1V153.2h-1V161.2h-1V157.8h-1V164.4h-1V171.2h-1V153.7h-1V164.9h-1V157.6h-1V159.5h-1V164.1h-1V153.6h-1V161.6h-1V158.8h-1V161.9h-1V154.9h-1V158.1h-1V159.8h-1V159.6h-1V155.5h-1V160.5h-1V161.3h-1V161.1h-1V155.3h-1V159h-1V157.7h-1V156h-1V160.8h-1V163.1h-1V165.3h-1V164.7h-1V172.9h-1V165.4h-1V185h-1V167.7h-1V158.8h-1V154.3h-1V157.7h-1V156.4h-1V167.7h-1V162.2h-1V167.3h-1V156.5h-1V167.5h-1V179.4h-1V177.1h-1V166h-1V162.4h-1V157.9h-1V158.1h-1V160.7h-1V159.7h-1V176.4h-1V172.7h-1V180.5h-1V176.6h-1V163.9h-1V160.5h-1V166.1h-1V162.1h-1V169.9h-1V165.5h-1V159.8h-1V184.2h-1V158.4h-1V179.5h-1V168.9h-1V183.2h-1V157.7h-1V168.8h-1V174.7h-1V174.7h-1V168.7h-1V159.3h-1V159.3h-1V156.4h-1V174.9h-1V158.6h-1V169.9h-1V162.3h-1V165.9h-1V167.8h-1V156.6h-1V176.9h-1V172h-1V168.6h-1V169.6h-1V166.2h-1V168.9h-1V159.6h-1V160.2h-1V154.5h-1V158.4h-1V163.9h-1V151.4h-1V155.5h-1V154.1h-1V173.2h-1V167h-1V172.1h-1V159.8h-1V167.5h-1V164.7h-1V168.9h-1V159h-1V165.1h-1V161.3h-1V163.5h-1V157.9h-1V155.1h-1V155.4h-1V154.1h-1V156.6h-1V154.4h-1V164.5h-1V170.8h-1V166.9h-1V170.2h-1V170h-1V170h-1V165.1h-1V155.3h-1V157.2h-1V158.8h-1V160.2h-1V161.6h-1V168.9h-1V163.5h-1V164.6h-1V159.1h-1V155.4h-1V155.8h-1V156h-1V155.2h-1V167.6h-1V158.1h-1V164.7h-1V155.5h-1V155.6h-1V155.1h-1V157.2h-1V156.9h-1V155.4h-1V156.4h-1V152.5h-1V157.8h-1V153.2h-1V155.6h-1V157.8h-1V157.2h-1V157.8h-1V158.4h-1V155.5h-1V155.6h-1V166.6h-1V160.3h-1V171.4h-1V164.1h-1V163.3h-1V167.4h-1V159.2h-1V157h-1V160.4h-1V157.9h-1V158.7h-1V157.3h-1V160.9h-1V161.4h-1V155.9h-1V163.2h-1V160.4h-1V155.1h-1V168h-1V184.2h-1V190.2h-1V177.1h-1V178.2h-1V198.9h-1V174.8h-1V160.8h-1V159.6h-1V171.9h-1V170.9h-1V180.5h-1V176.8h-1V176.4h-1V199.5h-1V159.5h-1V161.4h-1V181.4h-1V162.6h-1V162.6h-1V192.5h-1V183h-1V175.6h-1V168.7h-1V159.7h-1V155.6h-1V154.8h-1V186.6h-1V155.5h-1V159.7h-1V156.2h-1V157.1h-1V153.8h-1V162.3h-1V152.7h-1V167.7h-1V158.2h-1V165.8h-1V168h-1V168.7h-1V165.9h-1V155.2h-1V157.7h-1V158.5h-1V164.2h-1V183.2h-1V177.6h-1V169.7h-1V163.8h-1V165.9h-1V169.6h-1V165.8h-1V184.9h-1V167.7h-1V163.2h-1V182.2h-1V170h-1V190.8h-1V170h-1V160.1h-1V171.6h-1V161.9h-1V159h-1V185.5h-1V170.8h-1V169.6h-1V156.7h-1V159.5h-1V159.8h-1V150.5h-1V163.7h-1V155.1h-1V157.6h-1V158.6h-1V163.2h-1V157h-1V165.2h-1V158.1h-1V155h-1V171.8h-1V155.7h-1V174h-1V165.8h-1V162h-1V160h-1V160h-1V169.3h-1V166.6h-1V166.6h-1V172.8h-1V163.6h-1V160.8h-1V168.4h-1V175.2h-1V165.1h-1V170h-1V158.1h-1V166h-1V174.8h-1V157.9h-1V167.9h-1V151.7h-1V156.9h-1V159.9h-1V162.6h-1V159h-1V163.1h-1V160.5h-1V165.9h-1V164.7h-1V167.4h-1V160.7h-1V160.5h-1V157.3h-1V156.1h-1V158.5h-1V163.6h-1V168.1h-1V170.2h-1V180.1h-1V170.8h-1V165.3h-1V166.8h-1V153.7h-1V163h-1V161.3h-1V168.5h-1V180.5h-1V168.1h-1V177.5h-1V168.4h-1V163.7h-1V168h-1V160.4h-1V172h-1V166h-1V180.4h-1V181h-1V181.1h-1V177.4h-1V166.5h-1V177.1h-1V169.8h-1V165.6h-1V152.6h-1V165.7h-1V162.3h-1V165.8h-1V163.6h-1V161.8h-1V157.7h-1V169h-1V155.6h-1V161.4h-1V158.2h-1V158.2h-1V162.5h-1V160.9h-1V166.1h-1V165.5h-1V165.8h-1V174.2h-1V164.2h-1V162.9h-1V186.6h-1V163.9h-1V170.1h-1V165.3h-1V160.8h-1V161.5h-1V163.8h-1V156.7h-1V162.2h-1V155.2h-1V153h-1V156.6h-1V158.6h-1V157h-1V161.8h-1V166.3h-1V159.6h-1V171.6h-1V160.1h-1V163.8h-1V157.3h-1V158h-1V160.3h-1V159.5h-1V162h-1V156.6h-1V161.9h-1V163.3h-1V162.7h-1V156.7h-1V155.8h-1V161.7h-1V155.5h-1V154.5h-1V154.2h-1V154.1h-1V153.4h-1V153.9h-1V151.6h-1V152.9h-1V151.3h-1V153.9h-1V153.3h-1V154.3h-1V154.8h-1V153.4h-1V154h-1V154.3h-1V158.8h-1V154.6h-1V159.7h-1V152.4h-1V158.5h-1V156.9h-1V156.7h-1V154.8h-1V155.7h-1V152.2h-1V154.9h-1V153.3h-1V153.2h-1V153.1h-1V155.1h-1V153.4h-1V153h-1V153.6h-1V153.1h-1V154h-1V151.9h-1V155.5h-1V157.4h-1V155h-1V159.3h-1V157.7h-1V154.3h-1V154.3h-1V154.3h-1V155.7h-1V153.2h-1V161.7h-1V158.8h-1V159.6h-1V156h-1V161.3h-1V190h-1V153.3h-1V157.5h-1V160.5h-1V161.9h-1V157.2h-1V168.1h-1V153.5h-1V155.3h-1V156.2h-1V158.6h-1V157h-1V160.2h-1V156h-1V161h-1V162.5h-1V157.6h-1V170.3h-1V159.1h-1V168.8h-1V155.9h-1V158.2h-1V157.7h-1V153.6h-1V157.4h-1V164.2h-1V162.4h-1V160.9h-1V164.4h-1V170.3h-1V174.8h-1V161.3h-1V161.5h-1V168h-1V163.4h-1V175.7h-1V183.8h-1V184.3h-1V184.3h-1V181.8h-1V160.1h-1V173.4h-1V172.2h-1V179.7h-1V173.4h-1V179.8h-1V161.8h-1V155.4h-1V159.3h-1V164.4h-1V159.9h-1V164.1h-1V174.8h-1V165.2h-1V159h-1V160.8h-1V156.9h-1V174.1h-1V166.9h-1V166.9h-1V158.7h-1V156.7h-1V156.7h-1V155.1h-1V158.1h-1V157.5h-1V156.1h-1V166.4h-1V156.5h-1V176.2h-1V165.8h-1V167.7h-1V181.2h-1V171.5h-1V163.9h-1V156.6h-1V170h-1V154h-1V158.1h-1V155h-1V164.9h-1V161.3h-1V163.7h-1V157.2h-1V159.4h-1V162.4h-1V178.3h-1V164.5h-1V161.6h-1V161.9h-1V161.7h-1V158.4h-1V157.8h-1V153.4h-1V163.4h-1V154.7h-1V165.1h-1V161.6h-1V167h-1V163.2h-1V159.2h-1V155.8h-1V160.1h-1V158.5h-1V159.8h-1V158.3h-1V159.5h-1V160.8h-1V161.9h-1V156h-1V157.6h-1V161.1h-1V163.8h-1V165.8h-1V166.9h-1V175.2h-1V173.2h-1V169.9h-1V171.2h-1V182.1h-1V164.8h-1V177.6h-1V170.3h-1V170.9h-1V171h-1V170.7h-1V157.9h-1V163.7h-1V159.3h-1V157.2h-1V169.3h-1V157.4h-1V163.2h-1V153.7h-1V159.2h-1V157.9h-1V154.8h-1V158.4h-1V165.1h-1V157.8h-1V179.8h-1V157.2h-1V157h-1V157.4h-1V159.2h-1V161.9h-1V163.2h-1V167.3h-1V156.2h-1V161.3h-1V174.3h-1V165.2h-1V171.4h-1V164.8h-1V160.1h-1V167.2h-1V164.7h-1V164.7h-1V161.4h-1V163.7h-1V165h-1V166.7h-1V154.7h-1V165h-1V175.2h-1V161.5h-1V176.3h-1V159.2h-1V155.5h-1V154.5h-1V155.5h-1V158.6h-1V175.8h-1V157h-1V168.2h-1V171.1h-1V168.8h-1V177.4h-1V158h-1V161h-1V168.2h-1V163.4h-1V168.4h-1V156.4h-1V157.8h-1V161.2h-1V161h-1V157.5h-1V159.7h-1V175h-1V159.6h-1V163.2h-1V180.1h-1V168.5h-1V179.5h-1V154h-1V160.9h-1V155.1h-1V156h-1V157.4h-1V163.8h-1V162.2h-1V173.6h-1V161.9h-1V161h-1V157.7h-1V157h-1V163.2h-1V156.9h-1V169.8h-1V160h-1V169.6h-1V155.2h-1V157.3h-1V161.2h-1V155.9h-1V155.5h-1V154.5h-1V157.1h-1V158.1h-1V152.7h-1V156.5h-1V157.6h-1V161.1h-1V162.1h-1V160.6h-1V160.3h-1V157.7h-1V157.2h-1V155.9h-1V156.8h-1V156.2h-1V165.8h-1V158h-1V156.3h-1V156.1h-1V157.5h-1V156.7h-1V155.1h-1V157.7h-1V152.2h-1V158.9h-1V155.9h-1V154.7h-1V155.4h-1V159.3h-1V153.2h-1V157.6h-1V154.7h-1V154.5h-1V161.8h-1V153.3h-1V158.4h-1V156h-1V155.2h-1V157.7h-1V157.2h-1V155.2h-1V155.8h-1V152.8h-1V154.4h-1V154.8h-1V154.5h-1V154.6h-1V153.2h-1V154.7h-1V155.8h-1V153.9h-1V151.5h-1V153.4h-1V151.9h-1V154.1h-1V152.9h-1V155.4h-1V157.1h-1V156.7h-1V156.6h-1V156.6h-1V156.6h-1V156.6h-1V155h-1V152.4h-1V152.8h-1V152.8h-1V153.8h-1V153h-1V154.2h-1V154.4h-1V156h-1V154.2h-1V153.2h-1V152.2h-1V153.3h-1V153.4h-1V154h-1V151.1h-1V154.1h-1V155.2h-1V154.5h-1V154.1h-1V155.2h-1V151.7h-1V155.9h-1V156.1h-1V153.7h-1V156h-1V156h-1V153h-1V153.3h-1V154.1h-1V151.7h-1V154.1h-1V152.4h-1V153.4h-1V152.9h-1V155.2h-1V153.7h-1V156.1h-1V152.2h-1V154.2h-1V154.4h-1V151.6h-1V156.1h-1V151.6h-1V154.7h-1V152.6h-1V154.4h-1V153.1h-1V154.3h-1V156.7h-1V156.5h-1V152.9h-1V156.9h-1V156.3h-1V154.3h-1V157h-1V153.9h-1V153.3h-1V152.6h-1V154.5h-1V154.9h-1V153.5h-1V155.3h-1V155.8h-1V155.6h-1V154.2h-1V156.2h-1V153.2h-1V153.4h-1V152.8h-1V153.7h-1V153.1h-1V153.6h-1V153.2h-1V153.2h-1V154.1h-1V152.7h-1V153.1h-1V154.3h-1V155.9h-1V155.2h-1V154.6h-1V154.4h-1V154.4h-1V156.8h-1V157.2h-1V154.5h-1V153.7h-1V152.6h-1V152.8h-1V152.8h-1V152.7h-1V155.2h-1V152.9h-1V156.6h-1V153.1h-1V154h-1V153.2h-1V153.1h-1V156.4h-1V159.8h-1V159.8h-1V156.7h-1V154.1h-1V157.3h-1V156.8h-1V155.5h-1V156h-1V155.3h-1V159.5h-1V160.2h-1V157.6h-1V166.5h-1V160.3h-1V168h-1V156.6h-1V157.8h-1V162h-1V163.8h-1V158.3h-1V160h-1V163.1h-1V164h-1V159.9h-1V152.4h-1V169.3h-1V161.2h-1V165h-1V169h-1V163.2h-1V168.9h-1V168.7h-1V157.9h-1V167h-1V158h-1V153h-1V159.5h-1V161.6h-1V159.6h-1V157.7h-1V163.4h-1V158.3h-1V163.8h-1V160.8h-1V154.2h-1V153.8h-1V154.7h-1V157h-1V154.9h-1V156.8h-1V156.4h-1V163.5h-1V156.4h-1V155.9h-1V154.8h-1V153.6h-1V154.4h-1V155.1h-1V154.7h-1V155.5h-1V154.2h-1V153.5h-1V154.7h-1V154h-1V152.8h-1V155.4h-1V153.3h-1V153.7h-1V153.7h-1V154.9h-1V162.3h-1V153.3h-1V156.6h-1V158.6h-1V154.1h-1V162h-1V158.4h-1V162.2h-1V160.8h-1V162h-1V155.9h-1V154.3h-1V158.6h-1V152.6h-1V153.2h-1V157.4h-1V153.4h-1V156h-1V159.2h-1V154h-1V158h-1V151.7h-1V159.5h-1V152.4h-1V154.2h-1V155.4h-1V151h-1V161.3h-1V156.8h-1V158.5h-1V159.9h-1V162.7h-1V162.4h-1V154.8h-1V159.1h-1V152.9h-1V152.2h-1V154.9h-1V154.9h-1V155.7h-1V156.1h-1V153.8h-1V158.6h-1V164.3h-1V161.4h-1V159.2h-1V154.3h-1V160.4h-1V151.8h-1V156.1h-1V154.7h-1V157.8h-1V156.4h-1V157.7h-1V159h-1V204.3h-1V222.8h-1V156.9h-1V153.8h-1V153.6h-1V155.7h-1V153.9h-1V154.9h-1V153h-1V157.5h-1V149.8h-1V152.8h-1V154h-1V156.2h-1V159.7h-1V152.7h-1V152.9h-1V154h-1V163.3h-1V163.3h-1V163h-1V153.4h-1V159.5h-1V154.7h-1V159.1h-1V152.1h-1V155.1h-1V152.3h-1V154.6h-1V155h-1V154.3h-1V153.2h-1V171.6h-1V156.7h-1z" fill="#0000ff"/>
</g>
<text x="9.2" y="148.5" text-anchor="middle" font-size="12.35" font-weight="bold" transform="rotate(-90 9.2 148.5)">X (nT)</text>
<rect x="836.0" y="46.0" width="603.8" height="205.0" fill="#00008f"/>
<g clip-path="url(#cr0)">
<use href="#sg0" filter="url(#glow)"/>
<g id="sg0" filter="url(#b)">
<path d="M836.6 104.5l-.1 1-.5 5.2-.3 6.2-.2 21.8 .4 10.4 .6 6.2 .1 1 0-1 .7-6.2 .3-10.4-.1-21.8-.3-6.2-.5-5.2zM846.2 45.1l-.4 118.3 .1 11.1 .3 11.2 .1 1 0-1 1.3-27.3 1.4-53.7 .3-18.2-.1-41.4zM849.3 202.9l0 1-1 8.3-.7 11.3-.4 16.6 0 13.4 6 0-.6-16.5-.9-14.5-1.1-10.3-1.3-8.3zM845.7 215.1l-.1 1-1 14.6-.5 22.8 3.1 0-.4-22.8-1-14.6zM857.4 45.1l.2 36.4 .8 69.8 .8 29.3 1 16.2 .1 1 .1-1 .6-16.2-.2-21.2-1.6-78.9-.4-35.4zM877.5 191.8l-.2 1-1.4 5.1-.6 3.1-.9 6.2-.3 4.1-.6 14.4-.6 27.8 10.3 0-1.1-23.7-1.5-22.6-1.2-8.3-1.6-6.1zM876.5 45.1l-.2 71.8 .2 85 1.1 0-.5-156.8zM882.8 45.1l-.1 73.8 .4 60.7 .4 14.2 .1 1 .1-1 .4-15.2-.5-62.7-.2-70.8zM885.1 182.8l0 1-.9 21.5-.2 48.2 2.7 0-.6-48.2-.9-21.5zM894.5 169.5l0 1-.8 22.3-.3 60.7 2.1 0-.3-60.7-.7-22.3zM925.6 45.1l.5 27.5 0 1 0-1 .5-27.5zM938.5 45.1l.3 48.5 .9 38.5 .5 10.1 .1 1 .1-1 .2-5.1 .1-6.1-.7-85.9zM941.3 45.1l0 52.2 .5 22.5 0 1 .1-1 .9-27.6 0-47.1zM951.9 45.1l-.3 43.3-1.9 65.4-2.9 63.4-.7 36.3 2.1 0 .4-38.3 3.6-65.4 .9-33.2 1-32.3 .3-19.1 0-20.1zM954.5 45.1l.2 35.1 .3 8.2 .6 6.2 .1 1 .1-1 .6-6.2 .3-8.2 .2-35.1zM959.1 45.1l-.4 21.2-1.5 53.6 0 20.3 .7 9.1 .1 1 0-1 .8-9.1 .7-19.3 1.7-53.6 .2-22.2zM953.9 178.6l0 1-1 10.3-.4 8.2-.6 55.4 4 0-.6-55.4-.4-8.2-.9-10.3zM968 45.1l.1 47.3-.2 52.3-.3 46.4-.8 62.4 5.1 0-.8-62.4-.3-46.4-.2-52.3 .2-47.3zM977.5 45.1l0 28.3 .4 26.3 .5 27.3 .7 11.1 .1 1 .1-1 .5-7.1 .2-6-.1-79.9zM982.1 45.1l.4 43.1 .3 14.3 .6 10.3 .1 1 .1-1 .5-7.2 .1-6.1-.3-54.4zM984.3 138.1l-.1 1-.7 9.1-.2 8.1 .1 97.2 4.2 0-.9-60.7-.9-35.4-.4-9.2-.9-9.1zM988.1 187.7l-.2 1-1.1 7.2-.8 10.3-.7 47.3 5.5 0-.6-47.3-.9-10.3-1.1-7.2zM981.2 45.1l-.3 208.4 1.8 0-.3-208.4zM984.5 45.1l.1 208.4 1.9 0-.9-208.4zM989.5 45.1l.3 117.8 .2 29.2-.4 61.4 3.6 0-.5-60.4-1.2-30.2-.8-117.8zM998.7 100.7l-.1 1-.7 5.1-.6 9.1-.3 37.4 0 20.3 .6 44.5 .1 35.4 6 0-3-134.6-.4-7.1-.6-5-.8-5.1zM1002.3 45.1l-.5 56.4 .3 8.2 .5 5.1 .2 1 .1-1 .5-5.1 .4-9.2 .4-55.4zM1003.8 141.2l-.2 1-1 5-.7 5.1-.4 6.1-.3 46.5-.5 31.4-.1 17.2 9.4 0-.1-18.2-.7-32.4-1.4-21.3-1.3-25.3-1-7-1.5-7.1zM1013 45.1l-.3 58.4 0 82.5-.4 20.2-.4 47.3 4.5 0-.4-47.3-.5-20.2 .1-82.5-.3-58.4zM1014.1 197.9l-.2 1-1.4 6.2-1.8 11.3-.2 5.1-.7 32 8.7 0-.7-32-.2-5.1-1.8-11.3-1.4-6.2zM1017.9 192.8l-.1 1-.8 7.2-.7 11.3-.3 41.2 3.9 0-.4-41.2-.7-11.3-.8-7.2zM1031.9 45.1l.8 94.6 0 44.3 .9 22.2 3.9 47.3 6.6 0-2.1-21.1-3.1-28.2-1.7-23.2-1.3-45.3-.9-45.3-.6-45.3zM1035.7 45.1l-.1 33.3 .2 39.5 .6 22.3 .2 4 .7 6.1 .1 1 .1-1 .8-7.1 .2-10.1-.4-88zM1038.8 45.1l.1 21.2 .8 37.4 1.7 55.7 .3 5 .7 6.1 .1 1 .1-1 .7-6.1 .2-5 0-33.4-1.9-58.7-.5-22.2zM1041.6 45.1l.4 56.4 .3 8.2 .8 6.2 .3 0 .7-6.2 .3-8.2-.6-56.4zM1044.9 45.1l.4 88.6-.1 69.5-.5 50.3 7.2 0-.4-26.2-1.2-38.2-1.1-70.5-.8-29.2-.7-44.3zM1050.4 45.1l.1 32 .2 6.2 .5 6.2 .1 1 .1-1 .5-6.2 .2-6.2 .1-32zM1054.2 45.1l-.3 81.9 .6 36.4 .2 5.1 .5 6 .2 1 .1-1 .6-6 .2-5.1 .5-36.4-.3-81.9zM1062.9 45.1l-.4 47.3-3.5 161.1 4.9 0-.2-36.3 .6-38.2 .5-48.3 .2-85.6zM1076.8 45.1l0 47.3 .8 49.3 1 38.3 .4 34.2-.1 39.3 4.5 0-.2-37.3-3.1-120.8-.6-50.3zM1080.9 70.3l-.6 4.1-.1 7.1 .7 34.4 .9 32.3 .6 10.2 1.3 8.1 .4 0 1-7.1 .2-4.1 0-5-2.5-69.8-.5-6.1-.8-4.1zM1080.7 204.4l-.1 1-1.3 6.2-1.2 9.2-.2 6.1 0 26.6 7.5 0-.8-26.6-.4-5.1-.3-3.1-1.2-6.1-1.9-7.2zM1084.6 45.1l0 60.4 .2 36.2-.6 111.8 8.1 0-2.1-99.7-1.9-55.4-1-53.3zM1091.1 45.1l.3 32.2 1.1 51.3 1 124.9 4.6 0-1.1-51.4-.9-75.5-.5-23.1-.9-27.2-.7-31.2zM1098.1 45.1l.2 71.8 .4 23.3 .6 9.1 .1 1 0-1 .5-7.1 .1-6.1-.4-91zM1102.7 86.6l-.1 1-.6 9.2-.2 12.3 .2 31.8 .2 6.2 .6 7.2 .1 1 .1-1 .6-8.2 .2-9.3-.3-33.8-.2-7.2-.6-8.2zM1110.4 45.1l.2 50.3 .9 82.5 .7 35.2 .7 11 .1 1 .1-1 .7-10 0-22.2-.8-52.3-.9-94.5zM1120.9 45.1l.3 45.3 1 64.4 .4 37.3 .3 61.4 3 0-.7-59.4-.1-37.3-.4-38.2-1.3-73.5zM1127.4 45.1l.2 30.8 .2 14.4 .3 8.3 .7 7.2 .3 0 .6-6.2 .2-6.2-.4-48.3zM1129.8 45.1l-.6 107.2 1.1 29.3 .4 6.1 .9 7.1 .1 1 .2-1 .9-7.1 .5-7.1 .5-22.2-.9-68.8-.2-44.5zM1132.7 45.1l.1 43.2 .3 7.2 .6 5.2 .2 0 .5-5.2 .3-7.2 .1-43.2zM1136.4 45.1l.1 31.4 .2 6.3 .5 5.3 .2 0 .5-5.3 .3-6.3 .1-31.4zM1139.2 45.1l0 22.9 .3 7.3 .5 5.2 .1 0 .5-5.2 .4-7.3 0-22.9zM1136.5 45.1l.1 32.2 .4 24.1 5.4 78.6 1 37.2 .4 36.3 2.7 0-.7-38.3-.9-35.2-5.2-77.5-.6-25.2-.4-32.2zM1138.3 45.1l.1 31.8 .3 17.5 .3 8.2 .8 8.2 .1 0 .8-8.2 .2-6.2-.4-51.3zM1146.4 175.1l-.1 1-1.1 7.1-.8 10.2-.5 60.1 5.6 0-1-60.1-.8-10.2-1.1-7.1zM1149.6 45.1l-.2 94.6-1.3 113.8 8.3 0-3.5-208.4zM1155.2 60.2l-.5 8.1-.1 7 .3 178.2 3.8 0-2.1-177.2-.4-8-.8-8.1zM1162.3 55.2l-.5 6-.3 8.1-.7 184.2 3.2 0-.8-184.2-.2-8.1-.6-6zM1181.8 47.6l-.5 6-.2 7.1-1.1 128.2-.7 28.3-.5 36.3 3.5 0-.1-64.6 .4-127.2-.2-8.1-.5-6zM1185 60.2l-1.1 8.1-.2 5 .2 44.3 .8 72.5 1 24.1 .9 39.3 7.1 0-4.7-135.9-1.6-39.2-.6-9.1-1.5-9.1zM1192 86.6l-.1 1-.6 7.1-.4 9.2 0 45.1 .4 12.3 .8 8.2 .1 1 .1-1 .8-8.2 .3-11.3-.4-46.1-.4-9.2-.5-7.1zM1203.8 96.7l0 1-.7 9.2-.3 9.2-.2 45.1 .3 10.2 .8 8.2 .1 1 .2-1 .8-8.2 .3-10.2-.2-45.1-.3-9.2-.7-9.2zM1200.9 187.7l-.2 1-1.7 8.3-.7 5.1-.2 4.1 .7 20.6 1.4 26.7 8.6 0-2-23.6-2.5-23.7-1.6-10.3-1.7-7.2zM1212.6 45.1l-.3 129.9-1 78.5 4.3 0-1-78.5-.2-129.9zM1228.6 45.1l-.1 73.8 .2 21.3 .6 9.1 .1 1 .1-1 .5-9.1 .3-21.3-.1-73.8zM1254.8 45.1l-.6 119.8-.1 88.6 3.7 0-.6-69.5-.6-138.9zM1261.4 166.5l-1 4-.9 5.1-.6 7-.7 70.9 8.1 0-.9-47.6-.7-22.2-.9-8.1-2.1-9.1zM1260 45.1l.3 132.5 .3 7.1 1 7 .3 0 1.1-7 .1-5.1-.4-19.2-1.1-115.3zM1272.9 147.2l-.1 1-.8 8.1-.7 12.2-.4 85 4.5 0-.9-85-.7-12.2-.8-8.1zM1276.2 154.8l-.2 1-.8 7.2-.7 10.1-.4 80.4 4.6 0-.9-80.4-.6-10.1-.9-7.2zM1280.2 45.1l-.6 93.6 .2 75.5-.2 39.3 3.2 0-.5-96.7 .1-18.1-.2-43.3-.4-50.3zM1284.8 159.9l-.1 1-.8 8.1-.4 10.2-.4 74.3 3.3 0-.3-74.3-.5-10.2-.7-8.1zM1288.1 120.9l-.1 1-.7 22.3-.3 109.3 2.1 0-.2-109.3-.8-22.3zM1285.5 141.2l-.1 1-.9 6.1-.4 7.2-.2 44.1 .1 6.1 .4 6.1 1 8.2 .1 1 .1-1 1-8.2 .4-6.1 .1-6.1-.2-44.1-.4-7.2-.9-6.1zM1295.1 165.5l-.1 1-.8 17.2-.1 69.8 2.1 0-.2-69.8-.8-17.2zM1304.4 120.9l-.8 5.1-.5 7.1 .7 63.7 .2 56.7 6.5 0-1-36.4-1.5-47.6-1.4-33.4-.5-7.1-1.5-8.1zM1309 136.1l-.8 7.2-.4 7.1 0 50.2 .4 10.2 1 10.3 .1 1 0-1 .8-6.2 .4-5.1 .2-9.2-.5-51.2-.5-8.2-.6-5.1zM1314.8 131.1l0 1-.7 6-.6 9.1 0 46.6 .1 6 .5 10.2 .9 9.1 .1 1 .1-1 .9-9.1 .5-10.2 .1-6-.6-47.6-.5-8.1-.7-6zM1318.7 45.1l0 55.3 .4 15.4 0 1 .1-1 .4-15.4 0-55.3zM1324.7 192.8l-.1 1-.9 7.2-.4 7.2-.3 45.3 3.4 0-.3-45.3-.4-7.2-.9-7.2zM1338.1 81.5l-.1 1-.5 7.1-.3 10.1-.1 72.8 .2 18.2 .3 5.1 .6 5 .2 1 .1-1 .6-5 .3-5.1 .2-23.2-.6-68.8-.3-9.1-.5-7.1zM1348.5 45.1l-.5 94.6-1.8 113.8 6.6 0 .4-62.4-.7-48.4-.7-28.2-.3-69.4zM1355 45.1l-.4 131.5 .4 11.1 .8 8.1 0 1 0-1 .9-8.1 .3-11.1-.4-131.5zM1365.8 45.1l-.3 108.9 .6 37.3 .8 12.1 0 1 .1-1 .6-7.1 .2-7-.4-38.4-.3-105.8zM1369.7 108.3l-.1 1-.5 5.1-.4 8.1 .4 54 .2 7.1 1.1 8.1 .2 0 1-8.1 .2-6.1-1.1-56-.3-7.1-.6-5.1zM1370.5 176.6l-.2 1-1.1 4.1-.9 5.1-.7 6.2-1.1 60.5 9.9 0-.3-16.4-.6-16.4-1.5-26.7-.7-6.1-1.1-5.2-1.4-5.1zM1371.5 45.1l.2 44.2 .2 7.2 .5 7.2 .1 1 .1-1 .5-7.2 .2-7.2-.3-44.2zM1375.1 73.9l-.1 1-.5 9.2-.1 8.1 .2 58 .4 10.1 1 9.2 0 1 .1-1 .6-9.2 .2-12.2-.7-55.9-.3-8.1-.8-9.2zM1364.4 200.4l-.1 1-1 8.2-.5 8.1-.4 35.8 4 0-.4-35.8-.5-8.1-1-8.2zM1415.5 89.1l-.1 1-.9 8-.4 7.1-.9 49.4-1.2 36.4-1.3 31.2-.7 31.3 9 0-1.5-62.5-.6-85.8-.4-7.1-.9-8zM1426.6 132.1l-.1 1-.6 8.1-.3 10.1-.6 102.2 3.3 0-.6-102.2-.4-10.1-.6-8.1zM988.3 45.1l-.1 49.6 .7 30.3 0 1 0-1 .8-30.3 .2-49.6zM945.4 137l0 1-1 50.7-.2 64.8 3.7 0-.9-64.8-1.5-50.7zM1165.5 45.1l-.5 50.8 0 32.6 0 1 .1-1 .7-32.6 .7-50.8zM983.2 151.1l0 1-.9 43.6-.5 57.8 1.9 0 0-57.8-.5-43.6zM1128.2 139l0 1-1 10.2-.2 14.4 .1 6.1 .8 9.2 .1 1 0-1 1-9.2 .1-7.2 0-13.3-.8-10.2zM1086.3 76.8l0 1-.9 23.3-.4 39.5 0 10.2 .6 18.2 0 1 .1-1 .8-18.2 .2-10.2 .2-39.5-.5-23.3zM959.6 45.1l.5 27.6 .9 20.5 .1 1 0-1 .3-19.5-.3-28.6zM1149 165.4l0 1-1.3 37.5-.9 49.6 2.7 0 0-49.6-.5-37.5zM957.7 45.1l.4 56.9 .9 40.7 0 1 0-1 .4-40.7-.2-56.9zM1184.9 45.1l.5 43.8 1.1 28.6 0 1 .1-1 .5-27.5-.4-44.9zM1154 104.2l-.1 1-.6 23.3 .1 38.6 .2 10.1 .9 17.3 .1 1 .1-1 .6-17.3 .1-10.1-.4-38.6-1-23.3zM1037.7 207.3l0 1-.3 17.5 0 27.7 1.9 0-.7-27.7-.8-17.5zM1134.7 45.1l.6 40.6 .8 27.5 0 1 .1-1 .2-27.5-.3-40.6zM1133.8 102.2l0 1-1.1 19.3-.5 30.5 .1 11.2 .6 13.2 .1 1 0-1 1-13.2 .3-11.2 .2-30.5-.6-19.3zM1025.3 160l0 1-1.3 39.6-.8 52.9 3.2 0-.2-52.9-.9-39.6zM1020.3 45.1l-.5 30 .1 20.7 0 1 0-1 1-21.8 .7-28.9zM1127.4 152.9l0 1-.8 19.5 0 27.7 .3 9.2 .8 13.3 .1 1 .1-1 .7-13.3 .1-9.2-.3-27.7-1-19.5zM1179.3 45.1l.7 36.8 1.2 28.7 0 1 .1-1 .2-28.7-.6-36.8zM1071.1 163.7l-.1 1-1 18.3-.1 30.6 .2 9.1 1.1 14.3 0 1 .1-1 1-14.3 .2-9.1-.2-30.6-1.1-18.3zM975.2 91.5l-.1 1-.7 9.1-.3 6.1-.3 22.5 .2 11.2 .6 9.1 .1 1 .1-1 .8-9.1 .3-11.2 .1-22.5-.2-6.1-.5-9.1zM1192.8 122.1l0 1-1.1 24.5-.5 36.6 .1 11.2 .7 17.4 .1 1 .1-1 1-17.4 .2-11.2 .2-36.6-.7-24.5zM976.9 45.1l.7 67.9 .6 25.4 .8 22.3 0 1 0-1 .3-21.3 0-25.3-.8-69zM953.9 153.7l-.1 1-1.5 41.8-1.2 57 3.1 0 .3-57-.6-41.8zM956.3 149l0 1-1.2 24.4-.6 37.5 .1 10.1 .5 17.3 .1 1 .1-1 .9-17.3 .3-10.1 .4-37.5-.5-24.4zM1067.1 188.6l-.1 1-.4 24.3-.3 39.6 2.1 0-.6-39.6-.7-24.3zM1189.3 45.1l.6 34.7 .6 23.6 .1 1 0-1 0-22.5-.4-35.8zM1190.7 139.5l0 1-1.6 49.4-1 63.6 3.6 0 0-63.6-.9-49.4zM1018.1 197.5l0 1-.7 23.4-.1 31.6 2.6 0-.7-31.6-1-23.4zM1171.3 45.1l0 37.8 .3 23.6 0 1 0-1 .4-24.6 .2-36.8zM1092.2 122.1l-.1 1-.9 18.3-.1 27.4 .3 10.2 1 13.2 .1 1 0-1 1-13.2 .1-10.2-.2-27.4-1.1-18.3zM1033.1 45.1l-.4 38.8 .5 23.6 0 1 .1-1 1.1-24.6 .5-37.8zM1177.9 89l0 1-.8 11.4-.2 16.6 0 8.3 .6 9.3 .1 1 0-1 .8-9.3 .2-8.3-.1-17.7-.5-10.3zM1068.1 196.2l0 1-.5 23.5 0 32.8 2 0-.6-32.8-.8-23.5zM1049.9 45.1l-.2 43.9 .3 26.5 0 1 0-1 .7-27.5 .5-42.9zM1172.9 153.9l0 1-.4 42.7 .2 55.9 2.7 0-1.1-55.9-1.4-42.7zM1094.9 45.1l.3 35.9 .7 25.7 0 1 0-1 .4-25.7-.2-35.9zM1031.8 45.1l.2 43 .6 26.7 0 1 .1-1 .5-26.7-.1-43zM1135.8 86.9l-.1 1-.8 20.5-.4 34.7 .1 9.2 .6 16.3 .1 1 0-1 .8-16.3 .2-9.2 .1-34.7-.6-20.5zM1068.5 78.1l-.1 1-.6 11.4-.1 14.6 .2 7.3 .6 8.3 .1 1 .1-1 .6-8.3 .2-7.3-.1-14.6-.8-11.4zM1087.6 86.1l0 1-.4 15.3 .4 22.3 .3 8.2 .7 11.2 .1 1 0-1 .4-11.2-.1-8.2-.4-22.3-.9-15.3zM1116.2 151.8l0 1-1.1 42.7-.8 58 2.3 0 0-58-.4-42.7zM1089 80l0 1-.3 9.3 0 11.4 .2 7.3 .5 8.3 0 1 .1-1 .3-8.3 0-7.3-.2-11.4-.5-9.3zM949.4 190.6l0 1-.6 25.4-.1 36.5 2.3 0-.7-36.5-.9-25.4zM965 45.1l-.1 57.9 .8 37.6 0 1 0-1 .8-37.6 .1-57.9zM1124.7 45.1l.8 40.6 1.1 26.4 0 1 0-1 .1-25.4-.7-41.6zM942.9 173.7l-.1 1-1 33.8-.2 45 3.3 0-.7-45-1.3-33.8zM1269 158.5l0 1-1.1 13.3-.6 18.5-.1 8.2 .4 10.3 .1 1 .1-1 1-11.3 .3-8.2 .3-18.5-.4-12.3zM1375.2 45.1l.7 36.7 1.3 28.6 0 1 0-1 .2-28.6-.6-36.7zM1249 170.6l-.1 1-.6 34.4 0 47.5 2.7 0-.8-47.5-1.2-34.4zM1250.7 45.1l.4 30 .6 21.7 .1 1 0-1 .3-21.7-.1-30zM1356.5 45.1l-.2 55.9 .4 41.8 .1 1 0-1 .9-41.8 .2-55.9zM1378.9 138.3l0 1-.6 48.5 .1 65.7 2.8 0-1-65.7-1.3-48.5zM1301.9 193.9l-.1 1-1.2 24.7-.5 33.9 3.1 0-.3-33.9-1-24.7zM1298.4 70.2l-.1 1-.3 9.4 .2 11.5 .2 7.3 .5 8.3 .1 1 0-1 .3-7.3 0-7.3-.3-12.5-.6-9.4zM1277.3 45.1l-.6 46.9 0 33.7 .1 1 0-1 1.1-33.7 .7-46.9zM1354.8 45.1l0 36.5 .7 28.4 0 1 .1-1 .6-28.4 .1-36.5zM1310 165.3l-.1 1-1.1 37.5-.5 49.7 3.1 0-.4-49.7-1-37.5zM1276.2 130.8l0 1-1.3 10.3-.5 12.3-.1 9.3 .5 8.2 .2 1 .2-1 1.1-9.2 .5-12.4 .1-9.2-.6-9.3zM1373.2 45.1l.2 56.9 .8 37.7 .1 1 0-1 .6-36.6-.2-58zM1290.4 45.1l.7 64.5 1.1 45.4 .1 1 0-1 .2-45.4-.6-64.5zM1224.4 45.1l.8 58.6 1.1 43.5 0 1 .1-1 .1-42.5-.7-59.6zM1207.1 165.4l0 1-1.1 36.5-1 50.6 1.8 0 .4-51.7-.1-35.4zM1233.1 45.1l0 83.2 0 1 0-1 .7-83.2zM879.6 199.7l0 1 .3 52.8 1.4 0-.9-33.5-.7-19.3zM1209.6 209.6l0 1-.4 17.4 0 25.5 2.4 0-.8-25.5-1.1-17.4zM895.2 107.3l0 1-.6 21.2-.3 35.5 .2 24.3 .1 1 0-1 .7-24.3 .2-35.5-.3-21.2z" fill="#0000c8"/>
<path d="M836.6 106.6l-.1 1-.4 3.1-.3 6.2-.1 20.8 .1 7.2 .6 7.3 .2 1 .1-1 .6-7.3 .2-7.2-.2-20.8-.3-6.2-.3-3.1zM846.3 45.1l-.3 85.9 0 32.4 .3 14.2 .1 1 0-1 .8-14.2 .5-15.2 1.3-48.5 .2-16.2-.1-38.4zM849.4 207.1l-.1 1-.6 5.1-.7 11.4-.4 16.5 0 12.4 5.2 0-1.4-30-1-10.3-.9-5.1zM845.7 220.3l-.1 1-.7 10.4-.4 21.8 2.4 0-.4-21.8-.7-10.4zM857.5 45.1l.2 35.4 .9 67.7 .9 32.4 .6 10.1 .1 1 .1-1 .4-10.1-.2-24.3-1.5-75.8-.4-35.4zM877.5 194.9l-.4 1-.6 2-1 5.2-.5 4.1-.6 6.2-.5 16.4-.6 23.7 9.4 0-1-22.6-1.2-19.6-1.1-9.3-.8-4.1-.6-2zM876.7 45.1l-.1 71.8 .3 85 .3 0-.3-156.8zM883 45.1l-.1 71.8 .7 67.8 0 1 0-1 .2-7.1-.5-62.7-.1-69.8zM885.1 193l0 1-.5 13.3-.1 46.2 1.8 0-.6-46.2-.5-13.3zM894.5 182.7l-.1 1-.3 11.1-.2 58.7 1.2 0-.2-58.7-.3-11.1zM925.7 45.1l.4 20.1 0 1 .1-1 .3-20.1zM938.7 45.1l.2 47.5 1.3 44.5 .1 1 0-1 .1-16.2-.5-75.8zM941.4 45.1l0 48.1 .4 18.4 .1 1 .1-1 .6-21.5 .1-45zM952 45.1l-.3 43.3-1.8 65.4-2.8 63.4-.7 36.3 1.4 0 .4-38.3 3.8-64.4 .9-34.2 1.1-32.3 .3-19.1 0-20.1zM954.6 45.1l.2 34 .4 8.3 .4 4.1 .1 1 .1-1 .4-4.1 .4-8.3 .2-34zM959.2 45.1l-.4 21.2-1.4 51.6 0 21.2 .5 7.1 .1 1 0-1 .7-9.1 1.4-39.4 1-31.4 .2-21.2zM953.9 182.8l0 1-.7 6.1-.3 8.2-.6 55.4 3.2 0-.5-55.4-.4-8.2-.6-6.1zM968.1 45.1l.2 47.3-.1 51.3-.3 47.4-.7 62.4 4.3 0-.7-62.4-.3-47.4-.1-51.3 .2-47.3zM977.6 45.1l.1 26.3 .3 25.3 .6 30.3 .5 7.1 .1 1 .1-1 .4-6.1 .1-5 0-77.9zM982.3 45.1l.3 36.9 .4 19.5 .5 8.2 0 1 .1-1 .4-6.1 0-6.2-.2-52.3zM984.4 141.2l-.1 1-.5 6-.2 8.1 .2 97.2 3.5 0-.9-60.7-.8-34.4-.5-10.2-.7-6zM988.1 190.8l-.2 1-.9 6.2-.7 8.2-.6 47.3 4.7 0-.6-47.3-.6-8.2-.9-6.2zM981.3 45.1l0 208.4 1 0-.1-208.4zM984.7 45.1l.3 208.4 1.1 0-.7-208.4zM989.7 45.1l.3 117.8 .3 29.2-.4 61.4 3 0-.4-60.4-1.3-30.2-.6-117.8zM998.8 102.7l-.1 1-.6 4.1-.6 9.1-.3 40.5 0 16.2 .7 44.5 .2 35.4 5.3 0-1.3-58.7-.3-23.3-1.3-52.6-.5-7.1-.5-5-.6-3.1zM1002.4 45.1l-.4 55.4 .2 7.2 .5 5.1 .1 1 .1-1 .4-5.1 .3-8.2 .5-54.4zM1003.8 143.2l-.1 1-.7 3-.8 5.1-.4 7.1-.3 45.5-.5 32.4-.1 16.2 8.7 0 0-18.2-.7-32.4-1.4-21.3-1.3-25.3-1.1-7-1.1-5.1zM1013.1 45.1l-.3 58.4 .2 82.5-.5 21.2-.4 46.3 4 0-.4-46.3-.4-21.2 .2-82.5-.3-58.4zM1014.1 201l-.1 1-.9 3.1-.6 3-1 6.2-.3 3.1-.8 36.1 7.5 0-.8-36.1-.3-3.1-1-6.2-.6-3-.9-3.1zM1017.9 195.9l0 1-.6 5.1-.7 11.4-.3 40.1 3.3 0-.3-40.1-.7-11.4-.6-5.1zM1032.1 45.1l.9 94.6 .1 44.3 .8 22.2 4 47.3 5.8 0-2-21.1-3.1-28.2-1.8-23.2-1.2-44.3-.8-46.3-.6-45.3zM1035.9 45.1l-.2 33.3 .2 37.5 .6 22.2 .3 6.1 .4 3 .2 1 .2-1 .4-3 .2-4 .2-13.2-.4-81.9zM1038.9 45.1l0 21.2 .8 36.4 1.9 55.7 .3 6 .4 3.1 .2 1 .1-1 .4-3.1 .3-6 .1-33.4-1.9-57.7-.4-22.2zM1041.7 45.1l.4 56.4 .4 8.2 .6 5.1 .1 1 .1-1 .8-6.1 .2-7.2-.5-56.4zM1045 45.1l.5 69.4 0 25.2 0 55.4-.5 58.4 6.6 0-.4-26.2-1.2-38.2-1-70.5-.8-29.2-.7-44.3zM1050.5 45.1l.1 31 .3 7.2 .4 4.2 0 1 .1-1 .4-4.2 .2-7.2 .1-31zM1054.3 45.1l-.3 80.9 .6 36.4 .3 6.1 .4 4 .1 1 0-1 .4-4 .3-6.1 .6-36.4-.3-80.9zM1063.1 45.1l-.4 47.3-3.3 161.1 4.1 0-.1-36.3 .7-38.2 .5-48.3 .2-85.6zM1076.9 45.1l0 47.3 .9 49.3 .9 38.3 .6 34.2-.1 39.3 4 0-.2-37.3-3-120.8-.6-50.3zM1081.1 70.3l-.6 4.1-.2 5.1 .8 38.4 1 35.4 .6 6.1 .9 5 .3 1 .3-1 .5-3 .4-4.1 0-8-2.4-68.8-.6-6.1-.8-4.1zM1080.8 207.5l-.3 1-.5 2-.7 4.1-.8 7.2-.1 31.7 6.5 0-1-30.7-.9-6.1-1.1-5.1-.9-3.1zM1084.8 45.1l-.1 61.4 .2 34.2-.5 112.8 7.7 0-2-98.7-1.9-53.4-1-56.3zM1091.2 45.1l.3 32.2 1.1 51.3 1.2 124.9 4 0-1-50.3-.9-76.6-.5-23.1-.8-27.2-.7-31.2zM1098.2 45.1l.2 70.8 .5 23.2 .4 7.1 .1 1 0-1 .4-6 .1-9.2-.4-85.9zM1102.7 89.7l-.1 1-.5 8.2-.1 9.2 .2 31.8 .3 7.2 .3 4.1 .1 1 .1-1 .5-6.2 .1-8.2-.2-32.8-.3-8.2-.4-5.1zM1110.5 45.1l.2 46.2 .5 51.3 .8 52.4 .5 18.1 .4 7 .1 1 .1-1 .4-7 .1-21.2-.7-52.3-.9-94.5zM1121 45.1l.3 46.3 1.5 100.7 .4 61.4 2.4 0-.6-59.4-.1-37.3-.3-38.2-1.3-73.5zM1127.5 45.1l.3 39.1 .4 13.3 .6 6.2 .2 1 .1-1 .6-5.1 .1-6.2-.4-47.3zM1129.9 45.1l-.5 107.2 1.1 28.3 .5 7.1 .6 4 .1 1 .2-1 .6-4 .6-9.1 .5-21.3-.8-67.7-.2-44.5zM1132.8 45.1l.1 42.2 .2 6.2 .6 5.1 .1 1 .1-1 .5-5.1 .2-6.2 .1-42.2zM1136.5 45.1l.1 30.4 .3 7.3 .3 3.2 .1 1 .1-1 .3-3.2 .4-7.3 .1-30.4zM1139.3 45.1l0 21.8 .4 8.4 .3 3.1 .1 1 0-1 .4-3.1 .4-8.4 0-21.8zM1136.5 45.1l.2 32.2 .4 24.1 5.5 78.6 1.1 37.2 .4 36.3 2.1 0-.6-37.3-.8-35.2-5.2-77.5-.5-25.2-.4-33.2zM1138.3 45.1l.2 31.8 .3 14.4 .3 10.3 .7 7.2 .1 1 .1-1 .6-6.2 .2-7.2-.4-50.3zM1146.4 178.1l-.2 1-.9 7.2-.6 8.1-.4 59.1 4.8 0-.9-59.1-.6-8.1-1-7.2zM1149.7 45.1l-.2 94.6-1.2 113.8 7.9 0-3.4-208.4zM1155.3 61.2l-.1 1-.4 6.1-.1 8 .4 177.2 3.4 0-2-176.2-.3-8-.7-7.1zM1162.4 56.2l-.1 1-.5 6-.1 7.1-.7 183.2 2.7 0-.6-183.2-.2-7.1-.5-6zM1181.8 49.6l-.1 1-.3 3-.2 7.1-1 128.2-.7 29.3-.4 35.3 3 0-.1-64.6 .4-127.2-.1-7-.3-4.1zM1185.2 61.2l-.2 1-.8 6.1-.3 6 .2 44.3 .9 71.5 1 24.1 1 39.3 6.3 0-4.6-139.9-1.7-39.3-.6-6-1.1-6.1zM1192 89.6l-.2 1-.4 5.2-.3 9.2 .1 43 .2 10.2 .7 8.2 .1 1 .1-1 .7-7.2 .2-9.2-.3-45-.4-9.2-.4-5.2zM1203.8 100.8l-.1 1-.4 6.1-.3 9.2-.2 44.1 .2 8.1 .7 7.2 .1 1 .2-1 .7-7.2 .2-8.1-.2-44.1-.3-9.2-.4-6.1zM1200.9 191.9l-.3 1-.7 3-.8 5.2-.4 6.1 .8 20.6 1.4 25.7 7.2 0-1.9-23.6-2.3-22.7-1.3-8.2-1.4-6.1zM1212.7 45.1l-.2 129.9-.4 23.1-.6 55.4 3.9 0-.6-55.4-.4-23.1-.1-129.9zM1228.7 45.1l0 72.8 .2 21.2 .5 7.1 0 1 0-1 .5-7.1 .2-21.2-.1-72.8zM1254.9 45.1l-.6 119.8 .1 88.6 3.1 0-.5-68.5 .1-22.1-.6-117.8zM1261.6 167.5l-.1 1-.7 2-.9 5.1-.7 8.1-.6 69.8 7.4 0-.9-47.6-.7-21.2-.4-5.1-.6-4-1.1-5.1-.7-2zM1260.1 45.1l.4 132.5 .2 6.1 .8 6 .3 1 .2-1 .8-5 .2-5.1-.4-18.2-1.1-116.3zM1272.9 151.3l-.2 1-.7 8.1-.4 9.1-.3 84 3.7 0-.8-84-.4-10.1-.7-7.1zM1276.2 157.9l-.2 1-.8 7.1-.4 8.2-.3 79.3 3.9 0-.8-79.3-.4-8.2-.8-7.1zM1280.3 45.1l-.6 93.6 .3 75.5-.1 39.3 2.7 0-.4-96.7 .1-21.1-.6-90.6zM1284.8 163l0 1-.6 5-.5 10.2-.2 74.3 2.6 0-.3-74.3-.4-10.2-.6-5zM1288.1 128l-.1 1-.5 16.2-.1 108.3 1.3 0-.1-108.3-.5-16.2zM1285.5 144.3l-.2 1-.7 5.1-.3 6.1-.1 42 .3 9.3 .3 4 .6 4.1 .1 1 .2-1 .5-4.1 .4-4 .2-9.3-.1-42-.3-6.1-.7-5.1zM1295.1 171.5l-.1 1-.5 12.2-.1 68.8 1.4 0-.1-68.8-.5-12.2zM1304.5 122l-.1 1-.8 5-.3 6.1 .8 61.7 .3 57.7 5.7 0-.9-36.4-1.5-47.6-1.3-32.4-.4-7.1-.6-4-.8-3zM1309 137.2l0 1-.6 5.1-.4 7.1 0 49.2 .2 8.2 .5 7.1 .5 3.1 .1 1 .1-1 .4-3.1 .5-6.1 .2-8.2-.4-50.2-.4-7.1-.7-5.1zM1314.8 134.1l-.1 1-.6 5.1-.4 8 0 45.6 .6 14.1 .8 8.1 0 1 0-1 .6-5 .3-4.1 .4-8.1 0-5-.5-46.6-.4-8.1-.5-4zM1318.8 45.1l.1 54.3 .2 10.3 0 1 .1-1 .2-10.3 .1-54.3zM1324.7 195.9l-.1 1-.6 5.1-.4 7.2-.3 44.3 2.8 0-.3-44.3-.3-7.2-.6-5.1zM1338.1 83.5l0 1-.4 5.1-.3 10.1-.1 67.8 .2 22.2 .3 6.1 .5 3 .1 1 0-1 .5-3 .4-6.1 .1-23.2-.5-66.8-.4-10.1-.4-5.1zM1348.7 45.1l-.3 87.6-1.8 120.8 5.8 0 .5-62.4-.7-48.4-.7-28.2-.2-69.4zM1355.1 45.1l-.3 128.4 .1 10.2 .4 5 .5 4.1 0 1 .1-1 .5-4.1 .3-5 .2-10.2-.4-128.4zM1365.8 45.1l-.2 108.9 .6 36.3 .4 8 .3 3.1 0 1 .1-1 .4-5.1 .2-7-.3-38.4-.3-105.8zM1369.7 110.3l-.1 1-.5 6.1-.2 6.2 .4 52.9 .2 7.1 .8 6.1 .2 1 .1-1 .8-6.1 .2-6.1-1-55-.4-8.1-.4-3.1zM1370.5 178.6l-.1 1-.9 3.1-1 5.2-.5 6.1-1 59.5 9 0-.3-16.4-.6-16.4-1.4-25.7-.7-6.1-1.4-6.2-1-3.1zM1371.7 45.1l.2 44.2 .2 7.2 .3 4.1 .1 1 .1-1 .3-4.1 .2-8.2-.2-43.2zM1375.1 77l0 1-.4 6.1-.2 8.1 .4 56.9 .3 9.2 .6 7.1 .2 1 .1-1 .4-5.1 .2-8.1-.6-53.9-.2-11.2-.8-9.1zM1364.4 204.5l-.1 1-.6 4.1-.6 9.2-.3 34.7 3.2 0-.3-34.7-.6-9.2-.5-4.1zM1415.5 93.1l-.2 1-.5 4-.4 7.1-.8 49.4-1.2 36.4-1.3 31.2-.7 31.3 8.2 0-1.5-63.6-.5-83.7-.3-7.1-.6-5zM1426.6 135.1l-.1 1-.4 5.1-.3 10.1-.6 102.2 2.8 0-.5-102.2-.4-10.1-.4-5.1zM988.5 45.1l-.1 45.5 .5 23.3 0 1 .1-1 .6-23.3 .2-45.5zM945.5 152.2l0 1-.7 36.5-.1 63.8 2.7 0-.8-63.8-1.1-36.5zM1165.7 45.1l-.4 60 0 1 0-1 1-60zM983.1 171.4l0 1-.5 24.3-.5 56.8 1.3 0 0-56.8-.3-24.3zM1128.2 143.1l-.1 1-.6 7.1-.2 12.3 .1 7.2 .5 5.1 .1 1 .1-1 .6-5.1 .2-7.2 0-12.3-.6-7.1zM1086.3 84.9l-.1 1-.6 17.2-.4 37.5 .1 8.1 .3 12.2 .1 1 .1-1 .5-12.2 .2-8.1 .2-37.5-.4-17.2zM959.8 45.1l.5 26.6 .6 12.2 0 1 .1-1 .1-12.2-.2-26.6zM1148.8 183.7l0 1-.7 20.2-.9 48.6 1.8 0 .2-48.6-.3-20.2zM957.9 45.1l.4 54.9 .5 22.4 .1 1 0-1 .3-22.4-.2-54.9zM1185.1 45.1l.5 41.8 .8 21.4 0 1 .1-1 .3-21.4-.3-41.8zM1154 112.3l0 1-.5 16.2 .2 36.6 .1 8.1 .7 12.2 0 1 .1-1 .5-12.2 0-8.1-.3-36.6-.7-16.2zM1038 223.8l-.1 1 0 28.7 .9 0-.8-28.7zM1134.9 45.1l.6 37.6 .4 14.2 .1 1 0-1 .1-14.2-.2-37.6zM1133.8 107.2l-.1 1-.8 15.3-.4 28.5 0 11.2 .4 8.1 .2 1 .1-1 .6-8.1 .3-11.2 .2-28.5-.5-15.3zM1025.2 176.3l-.1 1-.8 24.4-.6 51.8 2.2 0-.1-51.8-.5-24.4zM1020.5 45.1l-.5 27.9 0 12.4 .1 1 .1-1 .5-13.4 .7-26.9zM1127.4 160.1l0 1-.5 13.3 .1 24.6 .1 8.2 .6 9.2 .1 1 0-1 .5-9.2 .1-8.2-.2-24.6-.7-13.3zM1179.5 45.1l.7 35.8 .8 19.5 .1 1 0-1 .2-19.5-.6-35.8zM1071.1 169.8l0 1-.8 13.3 0 27.4 .1 9.2 .7 9.2 .1 1 .1-1 .7-9.2 .1-9.2-.2-27.4-.8-13.3zM975.2 94.5l-.1 1-.5 6.1-.3 6.1-.3 20.4 .1 10.2 .5 8.2 .1 1 .2-1 .6-8.2 .2-10.2 .1-20.4-.2-6.1-.4-6.1zM1192.8 129.3l-.1 1-.8 18.3-.4 35.6 .1 10.2 .5 11.2 0 1 .1-1 .7-11.2 .2-10.2 .2-35.6-.5-18.3zM977 45.1l.7 64.9 1.1 37.5 0 1 .1-1 .2-37.5-.7-64.9zM953.7 169l0 1-1.1 27.5-1.1 56 2.3 0 .3-56-.4-27.5zM956.2 158.1l0 1-.8 16.3-.5 35.5 0 8.1 .4 11.2 0 1 0-1 .7-11.2 .2-8.1 .4-35.5-.3-16.3zM1067.2 209.9l-.1 1-.3 42.6 1.1 0-.7-42.6zM1189.4 45.1l.9 42.9 0 1 .1-1-.3-42.9zM1190.6 155.6l0 1-1.2 34.3-.9 62.6 2.8 0 0-62.6-.6-34.3zM1018.3 210.7l-.1 1-.3 11.2-.2 30.6 1.7 0-.5-29.6-.6-12.2zM1171.5 45.1l.1 44 0 1 .1-1 .4-44zM1092.2 127.2l0 1-.6 8.1-.2 6.1 0 25.4 .3 10.2 .6 8.1 .1 1 .1-1 .7-8.1 .1-10.2-.2-25.4-.2-6.1-.6-8.1zM1033.3 45.1l-.4 35.8 .4 18.4 0 1 .1-1 .8-18.4 .5-35.8zM1177.9 93.1l-.1 1-.5 8.3-.2 15.6 0 8.3 .4 5.1 .1 1 .1-1 .5-5.1 .2-8.3 0-15.6-.4-8.3zM1068.2 207.4l0 1-.3 14.4 0 30.7 1.3 0-.4-30.7-.5-14.4zM1050.1 45.1l0 50 0 1 .1-1 .7-50zM1173.1 173.2l0 1-.2 24.4 .3 54.9 1.8 0-1-53.9-.8-25.4zM1095.1 45.1l.3 33.8 .4 16.5 0 1 .1-1 .2-16.5-.1-33.8zM1032 45.1l.1 39.9 .5 21.6 0 1 0-1 .4-21.6 0-39.9zM1135.7 93.1l0 1-.6 15.3-.3 31.6 0 10.3 .4 10.2 .1 1 .1-1 .5-10.2 .2-10.3 .1-31.6-.4-15.3zM1068.5 82.2l-.1 1-.4 7.3-.1 13.6 .1 6.2 .5 6.3 .1 1 .1-1 .5-6.3 0-6.2-.1-13.6-.4-7.3zM1087.7 91.2l-.1 1-.2 10.2 .3 21.3 .3 7.1 .5 8.2 .1 1 0-1 .3-8.2-.1-7.1-.4-21.3-.6-10.2zM1116 173.2l0 1-.6 22.3-.7 57 1.5 0 .1-57-.2-22.3zM1089.1 84.1l-.1 1-.2 6.3 .1 10.3 .4 11.5 .1 1 0-1 .2-11.5-.1-10.3-.4-6.3zM949.5 205.8l0 1-.3 12.2-.1 34.5 1.5 0-.6-34.5-.4-12.2zM965.2 45.1l-.1 54.8 .6 28.5 0 1 0-1 .6-28.5 .1-54.8zM1124.8 45.1l.7 37.5 .9 21.3 0 1 .1-1 .1-20.3-.7-38.5zM942.9 186l0 1-.7 22.5-.2 44 2.5 0-.6-44-.9-22.5zM1268.9 163.6l-.1 1-.7 9.3-.5 17.4-.1 7.2 .3 7.2 0 1 .1-1 .6-7.2 .3-7.2 .4-17.4-.3-9.3zM1375.4 45.1l.7 35.7 .8 18.4 .1 1 0-1 .2-18.4-.6-35.7zM1249.1 187.8l-.1 1-.3 19.2 0 45.5 1.9 0-.8-45.5-.6-19.2zM1250.9 45.1l.4 27.9 .3 12.4 .1 1 0-1 .2-12.4-.1-27.9zM1356.7 45.1l-.2 55.9 .3 27.5 0 1 .1-1 .6-27.5 .3-55.9zM1379 155.5l0 1-.4 32.3 .2 64.7 2 0-.8-64.7-.9-32.3zM1301.8 202.1l0 1-.8 17.5-.5 32.9 2.3 0-.2-32.9-.7-17.5zM1298.4 74.4l0 1-.1 11.5 .1 9.4 .4 6.2 .1 1 .1-1 .1-6.2-.1-9.4-.5-11.5zM1277.4 45.1l-.5 44.9 .1 19.4 0 1 .1-1 .6-19.4 .8-44.9zM1355 45.1l0 35.4 .5 19.3 0 1 .1-1 .4-19.3 .1-35.4zM1309.9 181.5l0 1-.7 22.3-.4 48.7 2.1 0-.3-48.7-.6-22.3zM1276.1 134.9l-.1 1-.8 7.2-.6 13.4 0 6.2 .4 6.1 .1 1 .1-1 .8-6.1 .3-6.2 .3-13.4-.4-7.2zM1373.3 45.1l.3 54.9 .6 28.5 0 1 .1-1 .4-28.5-.1-54.9zM1290.6 45.1l.7 62.5 .7 25.2 0 1 0-1 .2-25.2-.5-62.5zM1224.6 45.1l.8 56.6 .7 26.3 0 1 .1-1 0-25.3-.6-57.6zM1206.8 186.7l0 1-.5 17.2-1 48.6 1.2 0 .4-49.6-.1-16.2zM1233.2 45.1l0 55.8 0 1 0-1 .5-55.8zM880 221l0 1 .3 31.5 .6 0-.9-31.5zM1209.8 220.8l0 1-.2 8.2 .1 23.5 1.5 0-.8-22.5-.5-9.2zM895.1 121.4l-.1 1-.4 39.6 .1 13.1 0 1 0-1 .3-13.1 .1-39.6z" fill="#0008ff"/>
<path d="M836.6 108.7l-.1 1-.5 8.3-.1 19.7 .1 6.2 .5 6.2 .1 1 .1-1 .4-6.2 .2-6.2-.1-19.7-.5-8.3zM846.4 45.1l-.2 75.8 .2 46.6 .1 1 .1-1 1.1-28.4 1.2-44.5 .1-49.5zM849.5 211.2l-.1 1-.7 7.2-.4 9.3-.3 12.4 0 12.4 4.4 0-1.3-27.9-.5-6.2-1-7.2zM845.7 226.5l-.1 1-.4 7.3-.3 18.7 1.5 0-.3-18.7-.3-7.3zM857.7 45.1l.2 33.3 .6 52.6 .6 26.3 .9 26.4 .1 1 .1-1 .1-6.1-.1-23.3-1.4-73.8-.4-35.4zM877.5 196.9l-.2 1-1.3 6.2-1.1 10.3-.6 16.5-.4 22.6 8.3 0-.9-21.6-1.2-18.5-1-9.3-1.3-6.2zM885.2 209.4l-.1 1 0 43.1 .6 0-.5-43.1zM926 45.1l.1 7.4 0 1 0-1 .1-7.4zM938.9 45.1l.2 45.5 .9 32.4 0 1 .1-1-.4-77.9zM941.6 45.1l.1 45 .2 13.4 0 1 .1-1 .4-14.4 .1-44zM952.1 45.1l-.2 43.3-1.8 65.4-2.3 59.4 0 1 0-1 3.9-61.4 1-35.2 1.1-32.3 .4-19.1 0-20.1zM947.5 226.3l-.1 1-.4 26.2 .3 0 .2-26.2zM954.7 45.1l.2 32 .3 7.2 .4 5.1 .1 1 .1-1 .4-5.1 .2-7.2 .3-32zM959.3 45.1l-.3 21.2-1.3 49.6 0 20.2 .2 6.1 .1 1 .1-1 .9-19.2 1.3-36.5 .6-21.2 .3-20.2zM953.9 187.9l-.1 1-.4 5.1-.2 6.2-.4 53.3 2.3 0-.5-53.3-.2-6.2-.4-5.1zM968.2 45.1l.3 47.3 0 51.3-.2 47.4-.7 62.4 3.5 0-.7-62.4-.2-47.4 0-51.3 .3-47.3zM977.8 45.1l.2 38.4 .6 33.4 .5 13.1 .1 1 .1-1 .3-16.2 .1-68.7zM982.4 45.1l.3 34.9 .5 20.5 .3 5.1 0 1 .1-1 .2-5.1 .1-17.5-.3-37.9zM984.4 145.2l0 1-.4 5.1-.1 6.1 .4 96.1 2.5 0-.9-64.8-.7-32.4-.3-6-.4-4.1zM988.1 193.9l-.2 1-.9 7.2-.3 5.1-.5 46.3 3.8 0-.6-46.3-.3-5.1-.8-7.2zM981.5 45.1l.2 172.1 .1 1 0-1 .2-172.1zM984.9 45.1l.5 154 0 1 .1-1-.3-154zM989.9 45.1l.7 147-.3 61.4 2.2 0-.4-60.4-1.2-30.2-.5-117.8zM998.8 104.8l-.1 1-.6 6-.3 6.1-.4 50.6 .9 49.6 .2 35.4 4.4 0-1.1-58.7-.3-23.3-1.2-51.6-.4-7.1-1-7zM1002.5 45.1l-.4 54.4 .2 6.1 .4 5.1 .1 1 .1-1 .4-6.1 .2-8.2 .5-51.3zM1003.9 145.2l-.1 1-1.3 7.1-.3 6.1-.4 46.5-.4 30.4 0 17.2 7.8 0 0-18.2-.6-32.4-1.4-21.3-1.3-24.2-.7-5.1-1.3-6.1zM1013.2 45.1l-.2 58.4 .3 82.5-.5 21.2-.3 46.3 3.3 0-.3-46.3-.5-21.2 .3-82.5-.3-58.4zM1014.1 204.1l-.1 1-1.5 7.2-.7 6.2-.7 35 6.1 0-.7-35-.7-6.2-1.6-7.2zM1017.9 200l-.1 1-.7 7.2-.2 6.2-.3 39.1 2.6 0-.2-39.1-.3-6.2-.6-7.2zM1032.3 45.1l1.1 94.6 .1 45.3 .8 21.2 4.2 47.3 4.7 0-2.1-22.2-3-27.1-1.7-23.2-1.1-43.3-.9-47.3-.5-45.3zM1036 45.1l-.1 33.3 .2 36.5 .6 21.2 .6 9.1 .1 1 .1-1 .5-7.1 .2-18.2-.4-74.8zM1039 45.1l0 21.2 .8 36.4 2 54.6 .6 8.1 .1 1 .1-1 .4-8.1 .3-33.3-1.9-56.7-.4-22.2zM1041.8 45.1l.4 55.4 .3 7.2 .5 5.1 .2 1 .2-1 .6-6.2 .2-6.1-.5-55.4zM1045.2 45.1l.6 69.4 0 36.3 0 42.3-.5 60.4 5.9 0-.3-26.2-1.2-38.2-.9-70.5-.8-29.2-.7-44.3zM1050.6 45.1l.1 27.9 .2 7.2 .4 5.2 0 1 .1-1 .3-5.2 .2-7.2 .1-27.9zM1054.4 45.1l-.2 79.9 .5 31.3 .3 9.1 .3 4.1 .1 1 0-1 .3-4.1 .3-9.1 .6-31.3-.3-79.9zM1063.3 45.1l-.4 46.3-3.1 162.1 3.3 0-.1-36.3 .8-38.2 .5-47.3 .4-86.6zM1077 45.1l0 47.3 1 49.3 1 38.3 .5 34.2 0 39.3 3.3 0-.1-38.3-2.5-102.7-.5-24.1-.4-43.3zM1081.2 70.4l-.1 1-.5 4-.2 5.1 .8 38.4 1.2 34.4 .4 5.1 1 5 .1 1 .1-1 .8-6.1 .1-8-2.3-67.8-.4-5.1-.9-5zM1080.9 210.6l-.4 1-1.2 7.1-.4 4.1 0 30.7 5.5 0-.9-29.7-.6-5.1-1.7-7.1zM1084.9 45.1l.2 94.6-.4 113.8 7.1 0-1.9-98.7-1.9-54.4-1-55.3zM1091.3 45.1l.3 32.2 1.2 51.3 1.3 124.9 3.4 0-.9-50.3-.8-76.6-.5-23.1-.8-27.2-.7-31.2zM1098.4 45.1l.2 69.8 .7 27.3 .1 1 0-1 .2-5.1 .1-19.2-.3-72.8zM1102.7 92.7l-.1 1-.4 7.2 0 7.2 .2 30.8 .4 9.2 .1 1 .1-1 .4-6.1 0-7.2-.2-29.8-.5-11.3zM1110.6 45.1l.2 46.2 .6 48.3 .8 52.3 .8 23.2 0 1 0-1 .3-24.2-.7-51.3-.7-94.5zM1121.1 45.1l.4 46.3 1.6 100.7 .5 61.4 1.6 0-.5-59.4 0-37.3-.3-38.2-1.2-73.5zM1127.6 45.1l.3 37 .4 14.4 .6 6.2 .1 1 0-1 .5-5.2 .2-5.1-.4-47.3zM1130 45.1l-.1 42.4-.2 19.3-.1 45.5 1.1 26.3 .9 10.1 .1 1 .2-1 .5-5 .4-6.1 .6-22.3-.8-65.7-.2-44.5zM1132.9 45.1l.1 40.1 .2 6.2 .4 5.2 .2 1 .1-1 .4-5.2 .2-6.2 .1-40.1zM1136.6 45.1l0 27.2 .2 6.3 .4 5.3 .1 1 .1-1 .4-5.3 .2-6.3 .1-27.2zM1139.4 45.1l0 20.8 .6 10.4 .1 1 .1-1 .6-10.4 0-20.8zM1136.6 45.1l.2 32.2 .4 24.1 5.6 78.6 1.2 37.2 .4 36.3 1.5 0-.6-38.3-.8-34.2-5-77.5-.5-25.2-.4-33.2zM1138.4 45.1l.3 38 .4 15.4 .6 8.2 .2 1 .1-1 .5-5.1 .2-7.2-.4-49.3zM1146.4 181.2l-.2 1-.8 7.1-.3 5.1-.3 59.1 3.8 0-.8-59.1-.3-5.1-.9-7.1zM1149.8 45.1l-.2 94.6-1.1 113.8 7.5 0-1.6-110.8-.7-30.2-1-67.4zM1155.4 63.3l-.2 1-.3 5-.1 7 .6 177.2 2.8 0-1.9-176.2-.2-7-.5-6zM1162.4 58.2l-.1 1-.4 6-.1 7.1-.5 141.9 .1 39.3 2 0 0-39.3-.5-141.9 0-7.1-.4-6zM1181.8 51.6l-.1 1-.4 10.1-.9 127.2-.6 28.3-.4 35.3 2.4 0 0-64.6 .5-126.2-.3-10.1zM1185.2 63.3l-.2 1-.7 5-.2 6 .2 44.3 1 70.5 1 24.1 1.2 39.3 5.3 0-1.7-60.4-2.6-77.5-1.7-41.3-.5-5-.8-5zM1192 92.7l-.2 1-.5 12.3 .1 42 .2 8.2 .5 7.1 .1 1 .1-1 .5-7.1 .2-7.2-.3-43-.6-12.3zM1203.8 103.9l0 1-.5 9.2-.1 9.2-.1 39.9 .2 5.1 .4 5.1 .1 1 .2-1 .4-5.1 .2-5.1-.1-39.9-.1-9.2-.5-9.2zM1200.9 194.9l-.1 1-1.1 6.2-.3 6.2 .8 20.5 1.5 24.7 5.6 0-1.8-22.6-2.2-22.6-.9-6.2-1.3-6.2zM1212.8 45.1l0 129.9-.5 23.1-.5 55.4 3.4 0-.6-55.4-.4-23.1-.1-129.9zM1228.9 45.1l0 70.8 .2 21.2 .2 5.1 .1 1 .1-1 .2-5.1 .2-21.2 0-70.8zM1255 45.1l-.5 119.8 .2 88.6 2.5 0-.4-68.5 .1-22.1-.5-117.8zM1261.6 169.5l-.2 1-1.2 6.1-.5 4-.2 4.1-.5 68.8 6.6 0-.8-47.6-.7-21.2-.7-7.1-1.7-7.1zM1260.2 45.1l.5 131.5 .2 7.1 .8 5 .1 1 .1-1 .6-4 .2-5.1-.3-18.2-1.1-116.3zM1272.9 154.3l-.1 1-.7 8.1-.2 6.1-.2 84 2.8 0-.6-84-.2-6.1-.7-8.1zM1276.2 159.9l0 1-.7 6.1-.4 7.2-.2 79.3 3 0-.6-79.3-.4-7.2-.7-6.1zM1280.4 45.1l-.6 93.6 .5 75.5-.1 39.3 2.1 0-.3-96.7 .1-21.1-.5-90.6zM1284.8 167l-.1 1-.5 6.1-.2 6.1-.1 73.3 1.8 0-.2-73.3-.1-6.1-.5-6.1zM1288.1 136.1l-.1 1-.2 10.1 .1 106.3 .3 0 .1-106.3-.2-10.1zM1285.5 146.3l-.1 1-.6 5.1-.2 5.2 0 40.9 .1 7.2 .8 7.2 0 1 0-1 .8-7.2 .1-7.2 0-40.9-.2-5.2-.5-5.1zM1295.1 178.6l-.1 1-.1 8.1 .1 65.8 .3 0 0-65.8-.1-8.1zM1304.6 124l-.2 1-.6 5-.1 4.1 .8 63.7 .3 55.7 4.9 0-.9-36.4-1.6-52.7-1.3-31.3-.4-4.1-.8-4zM1309 139.2l0 1-.6 6.1-.2 5.2 0 45 .2 10.2 .7 8.2 .2 1 .2-1 .7-8.2 .1-7.1-.4-48.1-.2-5.2-.6-6.1zM1314.8 136.1l0 1-.5 5.1-.3 6 0 44.6 .3 9.1 .8 10.1 0 1 0-1 .8-10.1 .3-8.1-.5-45.6-.3-6-.5-5.1zM1319 45.1l.1 48.1 0 1 .1-1 .1-48.1zM1324.7 199l-.1 1-.5 5.1-.2 5.2-.2 43.2 2 0-.2-43.2-.2-5.2-.4-5.1zM1338.1 86.5l0 1-.6 13.2 0 65.8 .2 23.2 .2 4.1 .4 3 .1 1 0-1 .4-3 .2-4.1 .2-23.2-.5-65.8-.5-13.2zM1348.9 45.1l-.1 73.5-1.7 134.9 4.8 0 .7-62.4-.7-48.4-.7-28.2-.2-69.4zM1355.3 45.1l-.4 111.2 .2 23.3 .6 10.1 .1 1 .1-1 .7-10.1 .1-23.3-.3-111.2zM1365.9 45.1l-.2 107.9 .6 36.3 .5 9 .1 1 .2-1 .4-10-.3-37.4-.2-105.8zM1369.7 112.4l-.1 1-.4 5.1-.1 5.1 .4 51.9 .2 7.1 .6 5.1 .2 1 .2-1 .6-5.1 .1-6.1-1-52.9-.6-10.2zM1370.6 181.7l-.4 1-1.3 6.2-.5 6.1-.9 58.5 8 0-.3-16.4-.5-15.4-1.4-24.6-.8-8.2-1.5-6.2zM1371.8 45.1l.2 42.1 .4 10.3 .1 1 .1-1 .3-10.3-.2-42.1zM1375.2 81l-.2 1-.2 11.2 .3 55.9 .2 7.2 .6 6.1 0 1 0-1 .4-6.1 .1-8.2-.5-54.9-.6-11.2zM1364.4 207.5l0 1-.6 5.1-.3 5.2-.2 34.7 2.3 0-.3-34.7-.3-5.2-.5-5.1zM1415.5 96.1l-.1 1-.6 8.1-.8 49.4-1.1 36.4-1.4 31.2-.7 31.3 7.3 0-1.5-63.6-.4-83.7-.2-5-.4-4.1zM1426.6 138.1l0 1-.4 6.1-.2 7.1-.5 101.2 2.2 0-.4-101.2-.2-7.1-.4-6.1zM988.7 45.1l0 43.5 .2 14.2 .1 1 0-1 .4-14.2 .2-43.5zM945.6 170.5l0 1-.4 20.2 0 61.8 1.7 0-.7-61.8-.6-20.2zM1165.9 45.1l-.1 17.3 0 1 0-1 .3-17.3zM983 203.8l-.1 1-.4 48.7 .5 0 0-48.7zM1128.2 147.2l-.2 1-.2 5.1-.1 9.2 0 6.2 .2 3 .1 1 .1-1 .3-3 .1-6.2 0-9.2-.2-5.1zM1086.2 93l0 1-.4 15.2-.3 33.4 .2 9.2 .1 1 0-1 .3-9.2 .3-33.4-.2-15.2zM960 45.1l.7 26.6 0 1 .1-1-.2-26.6zM1148.5 214l0 1-.6 38.5 .5 0 .1-38.5zM958.2 45.1l.5 54.9 .1 1 0-1 0-54.9zM1185.3 45.1l.5 38.7 .5 14.3 0 1 .1-1 .2-14.3-.3-38.7zM1154.1 121.4l0 1-.2 13.2 .2 32.5 .3 8.1 .1 1 .1-1 .1-8.1-.2-32.5-.4-13.2zM1135.2 45.1l.4 25.4 .1 1 0-1-.1-25.4zM1133.7 112.3l0 1-.6 11.2-.3 25.5 0 9.1 .3 7.1 0 1 0-1 .5-7.1 .2-9.1 .3-25.5-.4-11.2zM1025.1 194.6l0 1-.3 9.1-.5 48.8 1 0 0-48.8-.2-9.1zM1020.7 45.1l-.4 30 0 1 .1-1 .8-30zM1127.5 168.3l-.1 1-.1 10.3 .1 22.5 .3 6.1 0 1 .1-1 .1-6.1-.1-22.5-.3-10.3zM1179.7 45.1l.7 33.8 .4 10.2 .1 1 0-1 .1-10.2-.5-33.8zM1071.1 178l-.1 1-.2 5.1-.1 7.1 .1 23.4 .3 7.1 .1 1 .1-1 .3-7.1 0-23.4-.1-7.1-.3-5.1zM975.1 98.6l0 1-.6 10.2-.2 19.3 0 8.2 .4 6.1 0 1 .1-1 .5-6.1 .2-8.2 .1-19.3-.4-10.2zM1192.7 137.4l-.1 1-.4 11.2-.3 33.6 0 8.2 .3 6.1 0 1 0-1 .4-6.1 .2-8.2 .2-33.6-.2-11.2zM977.2 45.1l.7 61.9 .7 25.3 .1 1 0-1 .1-24.3-.6-62.9zM953.5 187.3l-.1 1-.4 12.3-.9 52.9 1.2 0 .3-52.9-.1-12.3zM956.1 168.3l0 1-.4 10.1-.4 33.5 .1 6.1 0 1 .1-1 .2-6.1 .5-33.5-.1-10.1zM1189.6 45.1l.3 15.3 0 1 .1-1-.1-15.3zM1190.5 173.8l-.1 1-.5 18.1-.8 60.6 1.6 0 .1-60.6-.3-18.1zM1018.5 238.2l0 1-.1 14.3 .4 0-.3-14.3zM1171.7 45.1l0 13.3 0 1 .1-1 .1-13.3zM1092.2 133.3l0 1-.4 7.1 0 9.1 .1 21.4 .4 8.1 .1 1 .1-1 .4-8.1-.1-21.4-.1-9.1-.4-7.1zM1033.5 45.1l-.3 33.7 .2 11.3 .1 1 0-1 .5-12.3 .5-32.7zM1177.9 96.2l-.1 1-.3 6.3-.2 13.4 0 7.3 .3 4.1 0 1 .1-1 .3-4.1 .1-7.3 .1-13.4-.3-6.3zM1068.4 225.9l-.1 1 0 26.6 .5 0-.4-26.6zM1050.4 45.1l.1 8.1 0 1 0-1 .1-8.1zM1173.4 195.6l0 1 .3 56.9 .7 0-1-56.9zM1095.2 45.1l.5 37.9 .1 1 0-1 0-37.9zM1032.1 45.1l.1 37.9 .3 14.3 .1 1 0-1 .3-14.3 0-37.9zM1135.7 100.2l-.1 1-.3 10.2-.2 28.6 .2 14.3 0 1 .1-1 .4-14.3 .2-28.6-.2-10.2zM1068.6 86.4l-.1 1-.2 4.2 0 11.4 .2 9.4 .1 1 .1-1 .2-9.4 0-11.4-.2-4.2zM1087.8 96.3l0 1-.1 11.2 .4 18.3 .3 6.1 .1 1 0-1 .1-6.1-.3-18.3-.5-11.2zM1115.7 214.9l0 1-.5 37.6 .5 0 0-37.6zM1089.1 89.3l0 1 .2 17.7 0 1 .1-1-.2-17.7zM949.8 242.4l-.1 1 0 10.1 .3 0-.2-10.1zM965.3 45.1l.1 51.8 .3 18.3 0 1 0-1 .4-18.3 .1-51.8zM1125 45.1l.7 35.5 .5 15.2 .1 1 0-1 .1-14.2-.6-36.5zM943 199.3l-.1 1-.3 11.3 0 41.9 1.3 0-.4-40.9-.4-12.3zM1268.7 168.8l0 1-.4 6.1-.4 15.4 0 9.3 0 1 .1-1 .5-9.3 .4-15.4-.1-6.1zM1375.6 45.1l.7 30.6 .4 11.2 0 1 .1-1 0-10.2-.4-31.6zM1249.3 215.1l0 1 0 37.4 .7 0-.6-37.4zM1251.1 45.1l.4 25.8 0 1 .1-1 0-25.8zM1356.9 45.1l-.2 53.9 .2 13.2 0 1 .1-1 .3-13.2 .3-53.9zM1379.2 176.7l-.1 1-.1 14.2 .2 61.6 1.1 0-.7-61.6-.4-14.2zM1301.8 212.4l-.1 1-.4 10.3-.3 29.8 1.3 0-.1-29.8-.3-10.3zM1298.6 81.7l-.1 1 .2 13.6 .1 1 0-1-.2-13.6zM1277.6 45.1l-.4 46.9 .1 1 0-1 .9-46.9zM1355.2 45.1l.1 33.4 .2 10.2 0 1 .1-1 .2-10.2 .1-33.4zM1309.9 201.8l0 1-.5 50.7 .9 0-.3-50.7zM1276 139l-.1 1-.5 5.2-.3 10.3-.1 6.1 .1 3.1 .1 1 .1-1 .3-3.1 .3-6.1 .3-10.3-.1-5.2zM1373.5 45.1l.3 51.9 .3 17.2 .1 1 0-1 .3-17.2-.1-51.9zM1290.8 45.1l.9 60.5 0 1 .1-1-.4-60.5zM1224.8 45.1l1 62.6 .1 1 0-1-.5-62.6zM1206 241.4l0 1-.2 11.1 .2 0 .1-11.1zM1233.4 45.1l0 3 .1 1 0-1 0-3zM1210.4 248.4l-.1 1 0 4.1 .2 0-.1-4.1z" fill="#004cff"/>
<path d="M836.6 110.8l-.1 1-.3 7.2-.1 17.6 .1 5.2 .3 5.2 .1 1 .1-1 .3-5.2 .1-5.2-.1-17.6-.4-7.2zM846.5 45.1l-.1 72.8 .3 36.4 .1 1 0-1 .8-18.2 1.2-43.5 .1-47.5zM849.6 216.4l-.1 1-.5 6.1-.4 12.4-.1 17.6 3.4 0-1.1-24.8-.4-6.2-.7-5.1zM845.7 240l0 1-.3 12.5 .6 0-.3-12.5zM857.9 45.1l.2 33.3 .6 49.6 .6 25.3 .5 16.2 .1 1 0-1 0-16.2-1.3-72.8-.4-35.4zM877.5 200l-.1 1-1.2 6.2-.7 8.2-.6 16.5-.5 21.6 7.2 0-.8-20.6-1-16.5-.9-9.2-1.2-6.2zM939.1 45.1l.3 42.4 .2 11.2 0 1 .1-1-.2-53.6zM941.8 45.1l.2 48.1 0 1 .1-1 .2-48.1zM952.3 45.1l-.2 41.2-1.6 65.5-.9 25.2 .1 1 0-1 1.6-24.2 1.1-36.2 1.2-29.2 .4-21.2 .1-21.1zM954.8 45.1l.2 26.8 .2 8.3 .4 6.1 .1 1 .1-1 .4-6.1 .2-8.3 .2-26.8zM959.4 45.1l-.2 20.2-1.3 49.6 .1 21.2 .1 1 0-1 .9-18.2 1.6-44.5 .4-28.3zM953.9 195.1l-.1 1-.5 57.4 1.2 0-.5-57.4zM968.4 45.1l.3 47.3 .1 51.3-.1 47.4-.7 62.4 2.7 0-.6-62.4-.2-47.4 .1-51.3 .3-47.3zM977.9 45.1l.2 33.3 1 43.5 .1 1 0-1 .3-76.8zM982.6 45.1l.3 32.8 .5 20.5 .1 1 0-1 .1-20.5-.2-32.8zM984.5 151.3l-.1 1-.1 7.1 .5 94.1 1.5 0-.7-61.7-.7-33.4-.3-6.1zM988.1 198l-.2 1-.5 4.1-.3 5.2-.4 45.2 2.8 0-.5-45.2-.3-5.2-.4-4.1zM990.9 175l0 1-.2 77.5 1.4 0-.3-59.4-.9-18.1zM998.9 107.8l-.2 1-.5 5.1-.2 5-.3 50.6 1 48.6 .3 35.4 3.4 0-1-58.7-.2-24.3-1.3-51.6-.3-5-.6-5.1zM1002.6 45.1l-.3 52.3 .1 6.2 .3 5.1 .1 1 0-1 .4-7.2 .3-15.4 .4-41zM1003.9 148.3l-.2 1-.8 5-.4 7.1-.8 74.9 .1 17.2 7 0 0-18.2-.5-31.4-1.5-22.3-1.3-23.2-.6-5.1-.8-4zM1013.4 45.1l-.2 58.4 .4 83.5-.5 20.2-.3 46.3 2.7 0-.3-46.3-.5-20.2 .4-83.5-.2-58.4zM1014.1 208.2l-.1 1-1.1 5.1-.5 5.2-.6 34 4.7 0-.6-34-.5-5.2-1.1-5.1zM1017.9 204.1l-.1 1-.6 9.3-.2 39.1 1.8 0-.2-39.1-.5-9.3zM1032.6 45.1l1.2 94.6 .2 46.3 .8 20.2 4.2 47.3 3.6 0-2-22.2-2.9-27.1-1.8-24.2-1.1-42.3-.7-47.3-.5-45.3zM1036.1 45.1l-.1 33.3 .3 35.4 .5 19.3 .5 9.1 .1 1 .1-1 .3-8.1 .2-17.2-.3-71.8zM1039.1 45.1l.1 21.2 .7 35.4 2 52.6 .5 8.1 .1 1 0-1 .3-8.1 .3-30.3-1.8-56.7-.5-22.2zM1041.9 45.1l.4 54.4 .3 7.1 .5 5.2 .1 1 .1-1 .6-5.2 .2-6.1-.5-55.4zM1045.4 45.1l.6 70.4 .1 54.4 0 23.2-.4 60.4 5.2 0-.3-26.2-1.2-38.2-.8-70.5-.9-29.2-.6-44.3zM1050.8 45.1l0 23.8 .4 13.4 .1 1 .1-1 .4-13.4 .1-23.8zM1054.5 45.1l-.2 78.9 .6 29.3 .4 12.1 .1 1 0-1 .5-12.1 .5-29.3-.2-78.9zM1063.5 45.1l-.3 46.3-.9 40.3-2.1 121.8 2.5 0-.1-35.2 .8-39.3 .6-47.3 .5-86.6zM1077.1 45.1l.1 46.3 .9 50.3 1.1 38.3 .6 32.2 0 41.3 2.7 0-.1-38.3-2.3-101.7-.5-25.1-.4-43.3zM1081.2 71.4l0 1-.5 4-.1 4.1 .8 36.4 1.1 35.4 .5 5 .7 4.1 .1 1 .2-1 .6-5.1 .1-7-2.3-67.8-.4-5.1-.7-4zM1080.9 213.6l-.3 1-.7 4.1-.4 5.1 0 29.7 4.3 0-.9-29.7-.6-5.1-1-4.1zM1085.1 45.1l.2 93.6-.3 114.8 6.5 0-1.8-98.7-1.9-54.4-.5-23.1-.5-32.2zM1091.4 45.1l.3 32.2 1.2 51.3 1.6 124.9 2.6 0-.8-50.3-.7-76.6-1.9-81.5zM1098.5 45.1l.3 68.7 .5 20.3 0 1 0-1 .1-20.3-.2-68.7zM1102.7 96.8l-.1 1-.2 10.3 .2 28.7 .2 7.2 .1 1 .1-1 .2-6.1-.1-22.6-.4-17.5zM1110.8 45.1l.2 45.2 .5 42.3 .9 55.3 .4 13.1 .1 1 0-1 .1-12.1-.6-48.3-.6-95.5zM1121.2 45.1l.4 46.3 1.8 100.7 .6 61.4 .8 0-.4-59.4 .1-37.3-.2-38.2-1.2-73.5zM1127.7 45.1l.3 34.9 .4 14.4 .5 6.2 .1 1 .1-1 .3-4.1 .1-6.2-.3-45.2zM1130.2 45.1l-.4 106.2 1.2 26.3 .6 7.1 .1 1 .2-1 .7-10.2 .6-20.2-.8-64.7-.1-44.5zM1133 45.1l.2 39.1 .2 7.2 .3 4.1 .1 1 0-1 .4-4.1 .2-7.2 .1-39.1zM1136.7 45.1l0 24.1 .5 12.6 .1 1 .1-1 .5-12.6 0-24.1zM1139.5 45.1l0 19.7 .5 9.4 .1 1 .1-1 .5-9.4 0-19.7zM1136.7 45.1l.2 32.2 .4 24.1 5.7 78.6 1.3 37.2 .5 36.3 .7 0-.5-39.3-.7-33.2-4.9-77.5-.5-25.2-.4-33.2zM1138.5 45.1l.3 35.9 .4 16.5 .5 7.1 .2 1 .1-1 .4-5.1 .1-7.2-.3-47.2zM1146.4 185.3l-.1 1-.5 4-.2 5.1-.3 58.1 2.8 0-.8-58.1-.2-5.1-.5-4zM1149.9 45.1l-.1 93.6-1.1 114.8 7.1 0-1.6-110.8-.6-30.2-1-67.4zM1155.4 64.3l-.1 1-.3 5-.1 7 .7 176.2 2.4 0-1.8-175.1-.2-7.1-.5-6zM1162.4 60.2l-.1 1-.3 8.1-.2 47.3-.2 99.7 .1 37.2 1.3 0 .2-37.2-.2-99.7-.2-47.3-.3-8.1zM1181.8 53.7l0 1-.3 9-.8 126.2-.6 28.3-.4 35.3 1.8 0 0-64.6 .6-126.2-.2-8zM1185.3 65.3l-.3 1-.5 4-.2 5 .2 40.3 1 71.5 1.2 27.1 1.3 39.3 4.3 0-1.5-61.4-2.4-75.5-1.8-41.3-.5-5-.6-4zM1192 95.8l-.1 1-.3 6.1-.1 8.2 .2 38.9 .4 9.2 .1 1 .1-1 .3-5.1 .1-6.1-.3-41-.4-10.2zM1203.8 107.9l0 1-.3 10.3-.1 38.9 .1 7.1 .3 5.2 0 1 .1-1 .3-5.2 .1-7.1-.1-38.9-.3-10.3zM1201 200.1l-.2 1-.5 4.1 0 5.1 .8 18.5 1.5 24.7 3.8 0-2.4-29.8-1.6-16.5-1.1-6.1zM1212.9 45.1l.1 130.9-.5 22.1-.5 55.4 2.9 0-.5-55.4-.5-22.1 .1-130.9zM1229 45.1l.1 68.7 .3 20.3 0 1 0-1 .3-20.3 .1-68.7zM1255.1 45.1l-.4 118.8 .3 89.6 1.9 0-.6-208.4zM1261.6 171.5l-.1 1-1.1 5.1-.5 7.1-.5 68.8 5.7 0-.7-47.6-.6-20.2-.7-7.1-.5-3-.9-3.1zM1260.3 45.1l.6 131.5 .2 6 .5 4.1 .2 1 .1-1 .5-4.1 .1-4-.3-17.2-1-116.3zM1272.9 158.4l-.1 1-.4 5-.2 6.1 0 83 1.8 0-.4-83-.2-6.1-.5-5zM1276.2 164l-.1 1-.5 5.1-.2 5.1 0 78.3 2.1 0-.6-78.3-.1-5.1-.5-5.1zM1280.5 45.1l-.4 48.3-.1 45.3 .5 76.5 .1 38.3 1.3 0-.1-96.7 .2-20.1-.6-91.6zM1284.8 171.1l-.1 1-.3 9.2-.1 72.2 .9 0 0-72.2-.4-9.2zM1285.5 149.4l-.1 1-.3 4.1-.1 7.2 0 38.9 .4 7.2 .1 1 .1-1 .4-7.2 .1-38.9-.1-7.2-.4-4.1zM1304.6 126l-.1 1-.4 4.1-.1 4 .9 62.7 .3 55.7 4 0-.8-36.4-1.5-51.6-1.3-31.4-.3-4.1-.6-3zM1309 141.2l0 1-.5 6.2-.1 8.2 .1 45 .2 5.1 .5 5.2 .1 1 .1-1 .5-6.2 .1-7.2-.3-47-.2-5.2-.5-4.1zM1314.8 139.2l0 1-.6 9.1 .1 42.4 .1 7.1 .7 8.1 0 1 0-1 .6-8.1 .1-6-.3-43.5-.6-9.1zM1324.7 203.1l-.1 1-.3 7.2-.1 42.2 1.1 0-.2-42.2-.3-7.2zM1338.1 89.6l0 1-.4 11.1 .1 62.7 .2 23.3 .3 6.1 .1 1 0-1 .4-6.1 .1-22.3-.4-63.7-.4-11.1zM1349.2 45.1l0 71.5-1.5 136.9 3.6 0 .9-62.4-.6-48.4-.8-28.2 0-69.4zM1355.4 45.1l-.3 109.2 .2 24.3 .5 8.1 0 1 .1-1 .4-8.1 .2-24.3-.3-109.2zM1366 45.1l-.2 107.9 .7 35.3 .4 8 0 1 .1-1 .3-9.1-.4-142.1zM1369.7 114.4l0 1-.3 4.1-.1 5.1 .4 49.8 .2 7.2 .4 4 .2 1 .2-1 .4-4 0-5.1-.8-51.9-.5-9.2zM1370.6 183.8l-.1 1-1.1 5.1-.5 5.1-.9 58.5 7 0-.3-16.4-.5-14.4-1.3-23.6-.7-8.2-.6-3-.9-3.1zM1372 45.1l.2 41.1 .2 8.2 .1 1 .1-1 .2-8.2-.2-41.1zM1375.2 84.1l0 1-.2 9.1 .4 51.9 .4 11.2 0 1 .1-1 .2-8.2-.4-52.8-.5-11.2zM1364.4 212.6l-.1 1-.4 7.2-.1 32.7 1.2 0-.1-32.7-.4-7.2zM1415.5 101.2l0 1-.3 6-.7 47.4-1.1 35.4-1.5 31.2-.6 31.3 6.4 0-.6-31.3-1-32.3-.3-81.7-.3-6zM1426.6 142.2l0 1-.4 10.1-.3 100.2 1.5 0-.4-100.2-.3-10.1zM988.9 45.1l.1 43.5 0 1 0-1 .3-43.5zM945.9 231.2l0 1 0 21.3 .3 0-.2-21.3zM1185.6 45.1l.6 40.8 0 1 0-1-.1-40.8zM1133.6 120.5l0 1-.4 36.6 0 1 0-1 .5-36.6zM1020.9 45.1l0 2 0 1 0-1 .1-2zM1180 45.1l.4 16.3 0 1 0-1-.2-16.3zM975.1 103.7l-.1 1-.3 7.1-.1 16.3 .2 10.2 0 1 0-1 .4-10.2 .1-16.3-.1-7.1zM977.4 45.1l1.1 71 0 1 0-1-.5-71zM1189.9 246.4l0 1-.1 6.1 .2 0 0-6.1zM1092.3 143.4l0 1 0 16.3 0 1 .1-1-.1-16.3zM1033.7 45.1l-.1 34.7 0 1 0-1 .6-34.7zM1177.8 101.4l0 1-.2 20.7 .1 1 0-1 .2-20.7zM1095.5 45.1l0 5.1 .1 1 0-1 0-5.1zM1032.3 45.1l.2 42 .1 1 0-1 .1-42zM1135.6 109.4l0 1-.2 30.6 0 1 .1-1 .2-30.6zM965.5 45.1l.2 53.8 0 1 .1-1 .2-53.8zM1125.1 45.1l1 41.6 0 1 0-1-.5-41.6zM1375.9 45.1l.2 10.2 .1 1 0-1-.1-10.2zM1357.1 45.1l-.1 37.6 .1 1 0-1 .3-37.6zM1301.7 246.3l-.1 1 0 6.2 .1 0 0-6.2zM1355.4 45.1l.1 19.2 0 1 .1-1 .1-19.2zM1373.7 45.1l.4 53.9 0 1 .1-1 0-53.9zM1225 45.1l.2 9.1 0 1 0-1 0-9.1z" fill="#0090ff"/>
<path d="M836.6 114.9l-.1 1-.2 19.7 .2 7.3 .1 1 .1-1 .1-7.3-.2-19.7zM846.6 45.1l0 69.8 .4 26.3 0 1 0-1 1.2-30.4 .5-19.2 .1-46.5zM849.8 223.6l-.2 1-.6 15.5 0 13.4 2.4 0-.5-13.4-1-15.5zM877.5 204.1l-.1 1-.9 6.2-.5 6.2-.6 14.4-.4 21.6 6.1 0-.9-20.6-.8-13.4-.8-8.2-.9-6.2zM952.4 45.1l-.1 40.2-1.5 68.5 .1 1 0-1 1.3-37.2 1.3-32.3 .4-19.1 0-20.1zM955 45.1l.1 22.7 .6 15.5 0 1 0-1 .6-15.5 .1-22.7zM959.6 45.1l-.3 20.2-1.1 46.5 0 13.2 .1 1 .1-1 2.1-55.7 .4-24.2zM968.5 45.1l.5 48.3 .2 50.3-.1 47.4-.6 62.4 1.7 0-.6-62.4-.1-47.4 .2-50.3 .5-48.3zM978 45.1l.2 29.3 .8 32.4 0 1 0-1 .4-61.7zM982.8 45.1l.5 36.9 0 1 0-1-.1-36.9zM985 186.7l-.1 1 .5 65.8 .3 0-.7-65.8zM988.1 202.1l-.1 1-.3 6.2-.5 44.2 1.7 0-.4-44.2-.4-6.2zM991.4 217.3l0 1-.2 35.2 .3 0-.1-35.2zM998.9 110.8l-.1 1-.5 8.1-.3 50.6 1.1 47.6 .4 35.4 2.4 0-.8-58.7-.2-23.3-1.3-52.6-.6-7.1zM1002.8 45.1l-.3 44.1 0 11.3 .2 5.1 .1 1 0-1 .3-6.1 .4-18.5 .3-35.9zM1004 151.3l-.3 1-.6 5.1-.2 7-.8 70.9 .2 18.2 6 0 .1-17.2-.4-31.4-1.7-24.3-1.1-21.2-.4-4.1-.6-3zM1013.5 45.1l-.2 59.4 .7 62.4 0 20.1-.5 19.2-.3 47.3 1.9 0-.3-47.3-.5-19.2 0-20.1 .7-62.4-.2-59.4zM1014.1 212.3l0 1-.7 3.1-.3 4.1-.5 33 3.1 0-.5-33-.4-4.1-.6-3.1zM1017.9 209.3l-.1 1-.2 6.1-.1 37.1 .9 0-.1-37.1-.3-6.1zM1032.9 45.1l.7 43.3 0 1 0-1-.3-43.3zM1034.5 147.8l-.1 1 0 32.2 .6 21.1 .5 7.1 4.1 44.3 2.4 0-1.9-22.2-2.9-27.1-1.5-19.2-.4-7-.8-29.2zM1036.3 45.1l-.1 33.3 .3 34.4 .3 13.2 .5 11.1 .1 1 0-1 .4-21.2-.2-70.8zM1039.2 45.1l.1 21.2 .8 35.4 2.3 54.6 0 1 0-1 .5-33.3-1.7-55.7-.5-22.2zM1042 45.1l.4 53.3 .2 6.2 .5 5.1 .1 1 .2-1 .4-5.1 .1-5.1-.4-54.4zM1045.6 45.1l.7 70.4 .2 70.5-.4 67.5 4.4 0-.3-27.2-.5-20.1-.7-17.1-.7-70.5-.8-29.2-.6-44.3zM1050.9 45.1l0 21.7 .4 12.4 0 1 .1-1 .3-12.4 .1-21.7zM1054.6 45.1l-.2 77.9 .9 34.3 .1 1 0-1 .9-34.3-.1-77.9zM1063.7 45.1l-.2 45.3-.9 42.3-1.9 120.8 1.5 0-.1-35.2 1-39.3 .6-47.3 .5-86.6zM1077.2 45.1l.1 46.3 1 50.3 1.2 38.3 .6 32.2 .1 41.3 1.9 0 0-38.3-2.2-101.7-.4-25.1-.4-43.3zM1081.3 73.4l-.2 1-.3 3 0 4.1 .8 36.4 1.1 33.4 .3 4 .6 4.1 .2 1 .2-1 .5-5.1 0-6.1-2.2-65.7-.3-5.1-.5-3zM1081 216.7l-.2 1-.5 3.1-.3 4.1 .2 28.6 2.9 0-.7-28.6-.4-4.1-.7-3.1zM1085.3 45.1l.2 93.6-.3 114.8 6 0-1.6-98.7-2-54.4-.5-23.1-.4-32.2zM1091.5 45.1l.4 33.2 1.2 50.3 1.8 124.9 1.9 0-.8-49.3-.5-77.6-1.9-81.5zM1098.7 45.1l.4 72.8 0 1 .1-1-.2-72.8zM1102.7 103l-.1 1 .2 19.5 0 1 0-1-.1-19.5zM1110.9 45.1l.3 49.3 1.2 70.4 0 1 0-1-.8-119.7zM1121.3 45.1l.4 47.3 2.3 115.8 0 1 .1-1 .2-52.4-.2-37.2-1.1-73.5zM1127.8 45.1l.3 33.9 .4 13.4 .4 6.2 .1 1 0-1 .3-4.2 .1-7.2-.3-42.1zM1130.3 45.1l-.1 43.5-.2 18.2 0 44.5 .2 6 1.4 22.3 .1 1 .2-1 .8-14.2 .3-12.1-.8-63.7 0-44.5zM1133.1 45.1l.1 29.8 .2 12.4 .3 5.2 .1 1 .1-1 .2-5.2 .2-12.4 .1-29.8zM1136.8 45.1l0 20.9 .4 12.6 .1 1 .1-1 .4-12.6 0-20.9zM1139.6 45.1l0 18.7 .4 7.3 .1 1 .1-1 .3-7.3 .1-18.7zM1136.8 45.1l.2 33.2 .5 24.2 5.6 74.5 1.3 32.2 .1 1 0-1-.6-31.2-3.6-55.4-1.1-20.1-.5-25.2-.3-32.2zM1138.6 45.1l.3 34.9 .4 15.4 .5 7.2 .1 1 .1-1 .3-5.1 .1-9.3-.3-43.1zM1146.4 189.3l0 1-.3 6.2-.2 57 1.6 0-.6-57-.4-6.2zM1150 45.1l-.1 93.6-1 114.8 6.7 0-1.5-110.8-.7-30.2-.9-67.4zM1155.4 66.3l0 1-.3 5 0 6.1 .8 175.1 1.8 0-1.6-175.1-.2-6.1-.4-5zM1162.4 63.2l-.1 1-.2 6.1-.2 51.3 0 94.7 .2 37.2 .5 0 .3-37.2-.1-94.7-.2-51.3-.2-6.1zM1181.8 57.7l0 1-.6 101.9 .1 1 0-1 .6-101.9zM1181.1 192.9l-.1 1-.6 23.3-.4 36.3 1.1 0 .2-36.3-.2-23.3zM1185.3 67.3l-.2 1-.4 4-.1 4 .1 40.3 1.2 71.5 1.2 26.1 1.4 39.3 3.3 0-1.4-61.4-2.2-74.5-1.8-41.3-.3-4-.6-4zM1192 100.9l-.1 1-.1 7.2 .3 44 .1 1 .1-1-.1-43-.2-8.2zM1203.8 116.1l0 1 0 43 0 1 .1-1 0-43zM1201.3 207.3l-.1 1 .8 20.5 1.6 24.7 1.8 0-1.7-23.6-2.3-21.6zM1213 45.1l0 44.3 .3 29.2 0 56.4-.5 23.1-.3 41.3-.2 14.1 2.4 0-.3-14.1-.3-41.3-.5-23.1 0-56.4 .3-29.2 0-44.3zM1229.2 45.1l.2 72.8 0 1 0-1 .2-72.8zM1255.3 45.1l-.4 118.8 .4 89.6 1.3 0-.2-68.5 .1-24.1-.4-115.8zM1261.7 174.6l-.4 1-.8 5-.3 5.1-.4 67.8 4.9 0-.6-47.6-.6-17.2-.4-7.1-.4-3-.7-3zM1260.5 45.1l.6 130.5 .1 5 .4 4.1 .2 1 .1-1 .3-3.1 .1-3-.4-17.2-.9-116.3zM1272.9 164.5l-.1 1-.1 7 .1 81 .7 0-.3-81-.2-7zM1276.2 169.1l-.1 1-.3 7.1 .2 76.3 .9 0-.3-76.3-.3-7.1zM1280.7 45.1l-.4 48.3-.1 45.3 .3 20.1 .5 94.7 .5 0 .1-96.7 .2-20.1-.1-43.3-.4-48.3zM1285.5 154.5l0 1 0 23.6 0 1 0-1 0-23.6zM1304.7 129l-.1 1-.2 6.1 .9 63.8 .4 53.6 3.1 0-.8-36.4-1.4-49.6-1.2-31.4-.5-6.1zM1309 144.3l0 1-.4 7.2 .2 45 .1 7.2 .3 4.1 .1 1 0-1 .4-4.1 0-6.2-.2-46-.4-7.2zM1314.8 143.2l0 1-.3 7.1 .2 39.4 .3 10.1 .1 1 .1-1 .3-9.1-.3-40.4-.3-7.1zM1338.1 94.6l0 1-.2 7.1 .1 60.7 .3 24.3 .1 1 0-1 .3-23.3-.4-61.7-.1-7.1zM1349.4 45.1l.2 70.4-.9 76.6-.4 61.4 2.4 0 1.1-62.4-.6-48.4-.8-28.2 .1-69.4zM1355.6 45.1l-.3 107.2 .4 29.3 .1 1 .1-1 .4-29.3-.2-107.2zM1366 45.1l-.1 106.9 1 40.3 0 1 .1-1 .1-7.1-.3-140.1zM1369.7 118.5l-.1 1-.1 6.1 .4 49.9 .2 5 .3 3.1 .1 1 .1-1 .2-3.1 .1-4-.8-50.9-.3-6.1zM1370.7 186.9l-.2 1-.8 4.1-.3 5.1-.4 20.5-.4 35.9 5.8 0-.2-17.4-.8-20.6-1.3-20.5-.5-4.1-.7-3zM1372.1 45.1l.4 42.1 0 1 0-1-.1-42.1zM1415.2 152.6l0 1-1.3 37.4-1.5 30.2-.6 32.3 5.4 0-.6-32.3-1-30.2-.3-37.4zM1426.6 148.3l0 1-.3 104.2 .7 0-.3-104.2zM977.6 45.1l.2 9.1 0 1 0-1 0-9.1z" fill="#00d4ff"/>
<path d="M846.7 45.1l.1 64.7 .3 20.2 0 1 .1-1 .8-20.2 .6-19.2 .1-45.5zM849.9 234.9l-.1 1-.3 7.3 .1 10.3 1.2 0-.3-10.3-.5-7.3zM877.5 209.3l0 1-.6 4.1-.4 7.2-.5 11.3-.4 20.6 4.9 0-1.2-25.7-1-12.4-.7-5.1zM952.5 45.1l0 39.2-.4 25.2 0 1 0-1 1.3-28.2 .3-16.1 .1-20.1zM955.1 45.1l.1 18.5 .4 14.5 .1 1 .1-1 .4-14.5 .1-18.5zM959.7 45.1l-.2 20.2-1 48.5 0 1 .1-1 1.8-45.5 .4-23.2zM968.7 45.1l.1 22.1 .5 23.2 .1 1 0-1 .5-23.2 .1-22.1zM969.4 218.3l-.1 1-.2 34.2 .6 0-.3-34.2zM978.2 45.1l.1 23.2 .5 22.3 0 1 .1-1 .3-45.5zM988.1 246.3l-.1 1 0 6.2 .2 0-.1-6.2zM999 114.9l-.2 1-.2 7.1-.2 48.5 1.2 46.6 .5 35.4 1.3 0-.5-37.4-.3-44.6-1.3-50.6-.2-5zM1002.9 45.1l-.2 33.8 0 21.6 .1 1 0-1 .6-22.6 .2-32.8zM1004 154.3l-.1 1-.5 6.1-.3 23.3-.5 50.6 .2 18.2 5 0 .2-17.2-.4-31.4-1.7-24.3-1.1-20.2-.6-5.1zM1013.7 45.1l-.2 58.4 .6 45.3 0 1 .1-1 .6-45.3-.2-58.4zM1014.1 199.1l0 1-.3 8.1-.2 45.3 1.1 0-.2-45.3-.3-8.1zM1014.1 220.5l0 1-.5 32 1.1 0-.5-32zM1035.2 187l0 1 .6 18.2 4.5 47.3 1.1 0-1.8-21.1-2.8-27.2-1.5-17.2zM1036.4 45.1l.1 51.6 .3 19.2 .4 12.1 .1 1 0-1 .3-14.2-.2-68.7zM1039.3 45.1l.1 21.2 .8 35.4 1.2 28.3 .8 16.2 .1 1 0-1 .4-15.2 .1-9.1-1.7-54.6-.5-22.2zM1042.1 45.1l.3 47.2 .3 10.2 .4 5.2 .1 1 .2-1 .3-4.1 .1-5.2-.4-53.3zM1045.8 45.1l.7 68.4 .4 73.5-.4 66.5 3.6 0-.3-27.2-.5-20.1-.6-17.1-.7-70.5-.8-29.2-.5-44.3zM1051 45.1l.1 19.6 .2 9.3 0 1 .1-1 .2-9.3 0-19.6zM1054.7 45.1l-.1 76.8 .7 27.4 .1 1 0-1 .8-27.4-.1-76.8zM1063.4 109.5l0 1-.5 22.2-.8 62.4 0 1 .1-1 .6-24.2 .6-41.3 .1-19.1zM1061.5 246.5l-.1 1-.1 6 .3 0-.1-6zM1077.3 45.1l.1 47.3 1.1 48.3 1.2 39.3 .7 32.2 .2 41.3 1.1 0 .1-38.3-2.1-101.7-.7-68.4zM1081.3 74.4l-.1 1-.2 3-.1 4.1 .8 33.4 1.1 34.4 .3 4 .4 3 .3 1 .2-1 .3-4-.1-6.1-2.1-64.7-.2-4.1-.5-3zM1081.1 220.8l-.2 1-.2 5.1 .2 26.6 1.5 0-.6-26.6-.4-5.1zM1085.5 45.1l.1 92.6-.1 115.8 5.5 0-1.6-98.7-2-54.4-.6-23.1-.3-32.2zM1091.6 45.1l.3 32.2 1.3 50.3 2.1 125.9 1 0-.6-47.3-.4-79.6-1.8-81.5zM1111.1 45.1l.3 44.2 .3 22.2 0 1 0-1-.2-66.4zM1121.4 45.1l.5 48.3 .9 44.3 1 36.2 0 1 0-1 .2-20.1 0-36.2-1.1-72.5zM1127.9 45.1l.3 32.9 .4 13.4 .3 5.1 .1 1 0-1 .2-4.1 .1-10.3-.3-37zM1130.5 45.1l-.1 43.5-.2 18.2 0 43.5 .2 7 1.3 16.2 0 1 .1-1 .8-12.1 .2-9.1-.8-62.7 0-44.5zM1133.2 45.1l.1 26.7 .4 17.6 .1 1 0-1 .4-17.6 .1-26.7zM1136.9 45.1l.1 19.9 .3 10.5 0 1 .1-1 .2-10.5 .1-19.9zM1139.7 45.1l.1 17.7 .2 6.2 .1 1 0-1 .3-6.2 .1-17.7zM1136.9 45.1l.2 33.2 .5 24.2 5.8 73.5 0 1 0-1-3.3-53.4-1-19.1-.5-25.2-.3-33.2zM1138.7 45.1l.3 33.9 .4 15.4 .4 6.1 .1 1 0-1 .3-5.1 .1-12.3-.3-38zM1146.7 244.4l-.1 1 0 8.1 .2 0-.1-8.1zM1150.1 45.1l0 92.6-.9 115.8 6.2 0-1.4-109.8-.7-31.2-.9-67.4zM1155.5 69.3l-.1 1-.1 9.1 1 174.1 1 0-.8-115.8-.6-60.4-.3-7zM1162.4 74.3l-.1 1-.1 46.3 .1 106.7 .1 1 0-1 .2-106.7-.2-46.3zM1180.8 217.2l0 1-.3 35.3 .2 0 .2-35.3zM1185.3 69.3l-.1 1-.3 6 0 40.3 1.3 71.5 1.4 26.1 1.5 39.3 2.1 0-1.1-61.4-2.1-72.5-1.9-42.3-.6-7zM1213.2 45.1l0 44.3 .2 18.1 .1 1 0-1 .3-18.1 0-44.3zM1213.5 186l-.1 1-.3 11.1-.3 41.3-.3 14.1 1.9 0-.3-14.1-.2-41.3-.4-11.1zM1255.4 45.1l-.3 118.8 .6 89.6 .5 0-.1-69.5 .2-22.1-.3-116.8zM1261.7 176.6l-.3 1-.6 4-.2 6.1-.2 18.2-.1 47.6 3.9 0-.6-51.6-.7-18.2-.3-3.1-.6-3zM1260.6 45.1l.7 130.5 .4 7 .1 1 0-1 .2-4-.3-16.2-.8-117.3zM1280.9 45.1l-.2 30.2-.3 18.1-.1 45.3 .4 18.1 .5 49.4 0 1 0-1 .1-49.4 .4-20.1-.1-43.3-.3-18.1-.2-30.2zM1304.8 134.1l0 1 1 76.9 .4 41.5 2.1 0-.7-36.4-1.3-47.6-1.4-34.4zM1309 148.4l-.1 1 .3 54.3 .1 1 0-1-.2-54.3zM1349.7 45.1l.3 43.3 0 1 0-1 .3-43.3zM1350.1 121.6l-.1 1-.9 68.5-.1 62.4 1.1 0 1.3-62.4-.6-48.4-.7-20.1zM1355.7 45.1l-.2 103.1 .3 21.3 0 1 0-1 .3-21.3-.2-103.1zM1366.1 45.1l-.1 105.8 .8 34.3 .1 1 0-1-.1-140.1zM1369.9 131.7l0 1 .5 47.8 .1 1 0-1 .1-5-.7-42.8zM1370.7 189.9l-.1 1-.5 5.2-.5 15.3-.5 42.1 4.8 0-.2-16.4-.7-19.5-1.3-20.5-.5-4.1-.4-2.1zM1414.8 185.9l0 1-1.9 34.3-.6 32.3 4.3 0-.5-32.3-1.3-34.3z" fill="#19ffe6"/>
<path d="M846.8 45.1l0 28.3 .4 47.5 0 1 .1-1 .6-13.1 .6-18.2 .1-44.5zM877.6 217.5l-.1 1-.8 13.4-.5 21.6 3.6 0-.9-20.6-1.1-14.4zM952.7 45.1l0 45.3 .1 1 0-1 .7-23.2 .2-22.1zM955.2 45.1l.2 17.5 .3 9.3 0 1 0-1 .3-9.3 .1-17.5zM959.8 45.1l-.7 49.5 0 1 .1-1 1.1-28.3 .3-21.2zM968.8 45.1l.5 32.2 .1 1 0-1 .5-32.2zM978.3 45.1l.4 30.3 0 1 .1-1 .3-30.3zM999.1 129l-.1 1-.3 42.5 1.4 42.5 .1 1 0-1 .1-42.5-1.2-42.5zM1003 45.1l-.1 43.1 0 1 .1-1 .2-12.4 .3-30.7zM1004.1 159.4l0 1-.6 24.3-.5 48.6 .3 20.2 4 0 .3-17.2-.4-31.4-3.1-44.5zM1013.8 45.1l-.1 57.4 .4 24.1 0 1 .1-1 .4-24.1-.1-57.4zM1036.6 45.1l0 35.4 .5 38.4 .1 1 0-1 .1-73.8zM1039.4 45.1l.1 21.2 .8 35.4 1.2 27.3 .6 10.1 .1 1 0-1 .4-10.1 0-8.1-2.1-75.8zM1042.2 45.1l.3 41 .2 14.4 .5 6.1 0 1 .1-1 .3-4.1 .1-5.1-.4-52.3zM1046.1 45.1l.6 46.3 .6 96.6-.3 65.5 2.6 0-.2-27.2-.5-20.1-.7-17.1-.5-70.5-.9-29.2-.3-44.3zM1051.2 45.1l.1 21.7 0 1 .1-1 .1-21.7zM1054.8 45.1l-.1 75.8 .6 21.3 .1 1 0-1 .6-21.3 0-75.8zM1077.4 45.1l.2 47.3 1.1 49.3 1.4 42.3 .7 32.2 .3 31.3 .1 1 0-1 .2-32.3-1.8-101.7-.7-68.4zM1081.4 76.4l-.2 1-.1 6.1 .8 33.4 1.1 32.4 .5 6 .2 1 .2-1 .2-3-.1-5.1-2-63.7-.4-6.1zM1085.7 45.1l.1 208.4 4.9 0-1.5-98.7-2-54.4-.6-23.1-.4-32.2zM1091.7 45.1l.4 33.2 1.3 48.3 1.3 74.5 .7 26.2 .1 1 0-1-.1-73.5-.2-26.2-.4-23.1-.8-27.2-.6-32.2zM1121.5 45.1l.5 48.3 .9 43.3 .7 18.1 0 1 .1-1 .1-38.2-1.1-71.5zM1128 45.1l.3 31.9 .6 15.4 0 1 .1-1 .1-14.4-.2-32.9zM1130.6 45.1l0 43.5-.2 18.2 0 43.5 .3 7 .9 10.2 .1 1 .1-1 .6-8.1 .1-8.1-.7-61.7 .1-44.5zM1133.3 45.1l.1 24.7 .3 14.4 .1 1 0-1 .3-14.4 .1-24.7zM1137.1 45.1l.2 25.1 0 1 0-1 .3-25.1zM1139.9 45.1l.2 20.8 0 1 0-1 .2-20.8zM1137 45.1l.2 32.2 .5 24.1 3.2 38.3 0 1 0-1-2-38.3-.7-56.3zM1138.8 45.1l.3 32.8 .7 19.6 0 1 .1-1 .3-17.5-.3-34.9zM1150.3 45.1l-.1 91.6-.8 116.8 5.7 0-1.3-109.8-.7-31.2-.9-67.4zM1155.5 72.3l0 1 .3 69.5 .9 110.7 .2 0-.6-110.7-.7-69.5zM1185.4 72.3l-.1 1-.1 5.1 0 39.2 1.3 71.5 1.5 25.1 1.8 39.3 .7 0-.9-66.4-2-70.5-1.7-38.2-.4-5.1zM1213.3 45.1l.1 48.3 .1 1 0-1 .1-48.3zM1213.5 196.1l-.1 1-.3 42.3-.3 14.1 1.3 0-.3-14.1-.3-42.3zM1255.5 45.1l-.2 117.8 .4 34.2 0 1 .1-1 .3-35.2-.3-116.8zM1261.7 178.6l-.1 1-.6 5.1-.2 16.2 0 52.6 2.9 0-.5-50.6-.7-18.2-.6-5.1zM1281 66.2l0 1-.4 25.2-.1 43.3 .5 20.1 0 1 0-1 .5-20.1-.1-43.3-.4-25.2zM1306 178.6l0 1 .8 73.9 .9 0-.6-36.4-1.1-37.5zM1350.2 139.7l0 1-.7 51.4 .2 41.3 .1 1 0-1 1.1-41.3-.6-51.4zM1366.2 45.1l-.1 104.8 .6 21.2 0 1 0-1 0-126zM1370.9 197.1l-.2 1-.6 19.5-.4 35.9 3.6 0-.2-16.4-.6-16.4-.5-9.3-1-13.3zM1414.6 202.1l0 1-1.2 19.1-.5 31.3 3.2 0-.5-31.3-.9-19.1z" fill="#5dffa2"/>
<path d="M846.9 45.1l0 27.3 .4 40.4 .1 1 0-1 .9-24.2 .2-43.5zM877.8 228.8l-.1 1-.8 23.7 2.2 0-.7-16.5-.6-7.2zM952.8 45.1l.2 31.2 0 1 .1-1 .3-12.1 .1-19.1zM955.4 45.1l.3 19.6 0 1 0-1 .3-19.6zM960 45.1l-.3 28.3 .1 1 0-1 .3-10.1 .3-18.2zM969 45.1l.3 21.1 .1 1 0-1 .3-21.1zM978.5 45.1l.2 20.2 0 1 0-1 .2-20.2zM999.3 155.4l-.1 1-.1 15.1 .5 15.2 .1 1 0-1 .2-15.2-.6-15.1zM1003.2 45.1l-.1 14.3 .1 1 0-1 .1-14.3zM1004.4 172.5l-.1 1-.5 21.3-.4 38.5 .4 20.2 3 0 .4-17.2-.3-30.4-.4-6-2.1-26.4zM1014 45.1l-.1 55.3 .2 11.1 0 1 .1-1 .2-11.1-.1-55.3zM1036.7 45.1l0 32.3 .3 19.3 0 1 0-1 .1-51.6zM1039.5 45.1l.1 21.2 .8 34.4 1.7 33.4 0 1 .1-1 .2-7.1 0-7.1-2-74.8zM1042.3 45.1l.2 35.9 .4 18.5 .3 5.1 0 1 .1-1 .2-4.1 0-10.3-.3-45.1zM1047.8 194.1l0 1-.2 12.1-.2 46.3 1.7 0-.1-27.2-.5-21.1-.6-10.1zM1054.9 45.1l-.1 74.8 .5 16.2 .1 1 0-1 .5-16.2 0-74.8zM1077.5 45.1l.3 48.3 1.2 49.3 1.3 35.3 .1 1 0-1-1.3-86.6-.4-46.3zM1081.5 78.5l-.2 1 .8 37.4 1.2 31.3 .3 5.1 .1 1 0-1 0-7.1-2.1-66.7zM1086.1 64.2l0 1-.2 48.3 .2 140 4.3 0-1.4-99.7-2-51.3-.9-37.3zM1091.8 45.1l.4 33.2 1.4 48.3 .4 29.2 .9 30.2 0 1 0-1 .2-31.2-.1-30.2-.3-20.1-.8-27.2-.6-32.2zM1121.7 45.1l.4 46.3 1.3 50.3 0 1 .1-1 .1-26.2-1-70.4zM1128.2 45.1l.2 30.8 .4 10.3 0 1 .1-1-.1-41.1zM1130.8 45.1l.1 43.5-.3 18.2 .1 42.5 .2 7 .7 7.1 .1 1 0-1 .5-6.1 .1-6-.4-45.5-.3-17.2 .1-43.5zM1133.5 45.1l.2 30.9 .1 1 0-1 .3-30.9zM1137.2 45.1l.1 14.6 0 1 0-1 .1-14.6zM1140 45.1l.1 5.2 0 1 0-1 0-5.2zM1137.1 45.1l.2 32.2 .5 22.1 .4 7.1 1.2 12.1 0 1 .1-1-.7-19.2-.7-54.3zM1138.9 45.1l.3 31.8 .6 16.4 0 1 0-1 .2-15.4-.2-32.8zM1150.4 45.1l0 87.6-.8 120.8 5.3 0-.3-37.3-.9-72.5-.7-31.2-.9-67.4zM1185.6 80.4l-.1 1 0 36.2 1.4 71.5 .3 7 1.3 17.1 1 18.2 0 1 .1-1-.3-44.3-1.9-69.5-1.7-36.2zM1213.5 245.5l-.1 1-.2 7 .5 0-.2-7zM1255.7 106.5l0 1-.2 35.2 .2 29.2 0 1 0-1 .2-29.2-.2-35.2zM1261.8 182.7l-.2 1-.4 21.2 .1 48.6 1.9 0-.4-47.6-.9-22.2zM1281 82.3l-.1 1-.2 10.1 0 42.3 .3 12.1 0 1 0-1 .3-12.1 0-42.3-.3-10.1zM1350.3 182l-.1 1 0 15.1 0 1 0-1 .2-7-.1-8.1zM1366.3 45.1l0 101.8 .2 14.1 0 1 .1-1 0-115.9zM1371.1 209.4l-.1 1-.4 12.3-.2 30.8 2.2 0-.2-19.5-.6-15.4-.6-8.2zM1414.5 214.2l0 1-.5 9-.5 29.3 2 0-.5-29.3-.4-9z" fill="#a2ff5e"/>
<path d="M847 45.1l0 27.3 .5 33.4 0 1 0-1 .7-20.3 .2-40.4zM878 248.4l0 1-.2 4.1 .5 0-.3-4.1zM953 45.1l.1 17.1 .1 1 0-1 .2-17.1zM955.6 45.1l.1 6.2 0 1 0-1 .1-6.2zM969.3 45.1l0 6 .1 1 0-1 .1-6zM1004.6 183.7l0 1-.5 17.2-.2 32.4 .5 19.2 1.8 0 .5-17.2-.2-29.4-.5-8.1-1.3-14.1zM1039.6 45.1l.1 21.2 .8 33.4 1.5 29.3 0 1 .1-1 .1-10.1-1.9-73.8zM1042.4 45.1l.2 33.8 .6 22.6 0 1 0-1 .2-21.5-.3-34.9zM1048.1 214.2l0 1-.1 38.3 .6 0 0-23.2-.4-15.1zM1055 45.1l0 71.8 .3 14.1 .1 1 0-1 .4-14.1 0-71.8zM1077.7 45.1l.2 46.3 1.2 48.3 .6 14.1 0 1 .1-1-.9-62.4-.3-46.3zM1082 97.7l-.1 1 .8 26.3 0 1 .1-1-.8-26.3zM1086.4 92.4l-.1 1-.1 23.2 .2 136.9 3.7 0-1.3-99.7-2.4-60.4zM1091.9 45.1l.4 33.2 1.5 48.3 .4 27.2 .4 13.1 .1 1 .1-1 .1-17.1-.3-39.3-1.4-65.4zM1121.8 45.1l.5 46.3 1 38.2 0 1 0-1 .1-15.1-.9-69.4zM1128.3 45.1l.4 33.9 0 1 .1-1-.2-33.9zM1131 45.1l.1 42.4-.3 18.3 .1 42.4 .1 6.1 .5 5.1 .1 1 .1-1 .3-9.1-.3-44.5-.3-17.2 .1-43.5zM1133.6 45.1l.1 20.6 .1 1 0-1 .1-20.6zM1137.2 45.1l.2 31.2 .3 14.1 .4 12.1 .8 9 0 1 .1-1-.4-14.1-.6-52.3zM1139 45.1l.3 30.8 .4 11.3 0 1 .1-1 .1-10.3-.2-31.8zM1150.5 45.1l.1 74.5-.8 133.9 4.9 0-.3-37.3-.9-71.5-.7-32.2-.8-67.4zM1186 95.5l-.1 1-.1 22.1 1.4 68.5 .4 9 1.1 12.1 .1 1 .1-1 .1-12.1-.1-11-1.8-67.5-1.1-21.1zM1261.9 195.8l0 1-.2 11.2 .3 45.5 .6 0-.2-45.5-.4-11.2zM1281 89.4l0 1 0 48.3 0 1 0-1 0-48.3zM1366.4 45.1l0 92.7 0 1 .1-1 0-92.7zM1371.4 229.9l-.1 1-.1 22.6 .6 0 0-14.4-.3-8.2zM1414.5 241.4l-.1 1-.2 11.1 .6 0-.3-11.1z" fill="#e5ff1a"/>
<path d="M847.1 45.1l.1 26.3 .4 26.3 0 1 .1-1 .5-22.3 .1-30.3zM1005 193.8l-.1 1-.3 11.1-.2 29.4 .7 18.2 .4 0 .6-16.2-.1-26.3-.2-8.1-.7-8.1zM1039.8 45.1l0 21.2 .8 31.4 1.3 26.3 0 1 .1-1-.2-13.2-1.7-65.7zM1042.5 45.1l.2 31.8 .4 16.4 0 1 .1-1-.2-48.2zM1055.1 45.1l0 49.5 .2 31.4 .1 1 0-1 .3-31.4 0-49.5zM1077.8 45.1l.2 45.3 1 32.2 0 1 0-1-.5-77.5zM1086.6 107.5l-.1 1-.1 47.3 .3 97.7 3 0-1.1-98.7-.7-20.1-1.3-26.2zM1092 45.1l.5 33.2 1.5 49.3 .5 25.2 .1 1 0-1-.2-46.3-1.3-61.4zM1121.9 45.1l.5 44.3 .7 27.2 0 1 .1-1-.8-71.5zM1131.2 45.1l0 3 0 1 .1-1 0-3zM1131.2 97.7l0 1-.2 8.1 .2 40.4 .3 8.1 0 1 .1-1 .1-8.1-.4-48.5zM1137.3 45.1l.3 34.2 .5 20.1 .4 6.1 0 1 .1-1-.7-60.4zM1139.1 45.1l.5 35.9 .1 1 0-1-.1-35.9zM1150.7 45.1l.1 72.5-.7 135.9 4.4 0-.3-37.3-.8-71.5-.7-32.2-.9-67.4zM1186.3 107.5l-.1 1-.1 11.1 1.5 65.5 .2 7 .5 6 .1 1 .1-1 0-10-1.5-65.5-.7-14.1z" fill="#ffd500"/>
<path d="M847.2 45.1l.1 26.3 .3 18.2 .1 1 0-1 .4-18.2 .1-26.3zM1005.3 203.9l-.1 1-.2 28.4 .2 7 .1 1 .1-1 .1-8.1-.2-27.3zM1040 48.1l0 1 .1 21.2 .8 31.4 .7 14.2 .1 1 0-1-1.7-66.8zM1042.6 45.1l.4 35.9 0 1 0-1-.2-35.9zM1055.2 45.1l.1 66.7 .1 1 0-1 .1-66.7zM1077.9 45.1l.3 43.3 .4 14.1 0 1 0-1-.3-57.4zM1086.8 117.6l0 1-.2 37.2 .5 97.7 2.3 0-1.1-98.7-.6-19.1-.9-17.1zM1092.1 45.1l.5 34.2 1.6 47.3 .1 1 0-1-.1-23.1-1.2-58.4zM1122.1 45.1l.5 43.3 0 1 0-1-.4-43.3zM1137.4 45.1l.3 31.2 .4 16.1 0 1 .1-1-.4-47.3zM1139.3 45.1l.2 15.4 0 1 0-1 0-15.4zM1150.8 45.1l.2 71.5-.4 51.3-.3 85.6 3.9 0-.2-37.3-.8-71.5-.7-32.2-.8-67.4z" fill="#ff9000"/>
<path d="M847.4 45.1l0 24.2 .3 12.2 0 1 0-1 .3-12.2 .1-24.2zM1040.1 60.2l0 1 .1 9.1 1 34.4 .1 1 0-1-1.1-43.5zM1087.1 129.7l0 1-.2 26.1 .5 96.7 1.6 0-.9-96.7-1-26.1zM1092.2 45.1l.5 33.2 1.3 34.2 0 1 0-1-1.1-67.4zM1151 45.1l.1 70.4-.3 52.4-.3 85.6 3.5 0-.2-37.3-.8-70.4-.7-33.3-.8-67.4z" fill="#ff4d00"/>
<path d="M847.5 45.1l.2 27.3 0 1 0-1 .2-27.3zM1087.3 141.7l0 1-.1 15.1 .7 95.7 .7 0-.7-94.7-.5-16.1zM1092.4 45.1l.5 32.2 .7 19.1 0 1 0-1-.9-51.3zM1151.2 45.1l.1 69.4-.4 53.4-.1 85.6 2.9 0-.1-37.3-.7-70.4-.8-33.3-.7-67.4z" fill="#ff0800"/>
<path d="M847.7 45.1l0 4 0 1 0-1 .1-4zM1151.6 90.4l0 1-.1 26.2-.4 50.3 0 85.6 2.3 0 0-37.3-.7-70.4-.7-30.3-.4-24.1z" fill="#c40000"/>
<path d="M1151.8 120.6l0 1-.5 46.3 .1 85.6 1.7 0 0-37.3-.4-49.3-.3-26.2-.6-19.1z" fill="#840000"/>
</g>
</g>
<text x="836.1" y="265.7" text-anchor="middle" font-size="12.4">00:00</text>
<text x="911.5" y="265.7" text-anchor="middle" font-size="12.4">03:00</text>
<text x="986.9" y="265.7" text-anchor="middle" font-size="12.4">06:00</text>
<text x="1062.2" y="265.7" text-anchor="middle" font-size="12.4">09:00</text>
<text x="1137.6" y="265.7" text-anchor="middle" font-size="12.4">12:00</text>
<text x="1213.0" y="265.7" text-anchor="middle" font-size="12.4">15:00</text>
<text x="1288.3" y="265.7" text-anchor="middle" font-size="12.4">18:00</text>
<text x="1363.7" y="265.7" text-anchor="middle" font-size="12.4">21:00</text>
<text x="1439.1" y="265.7" text-anchor="middle" font-size="12.4">00:00</text>
<text x="832.5" y="252.8" text-anchor="end" font-size="12.4">7</text>
<text x="832.5" y="229.5" text-anchor="end" font-size="12.4">8</text>
<text x="832.5" y="208.9" text-anchor="end" font-size="12.4">9</text>
<text x="832.5" y="190.5" text-anchor="end" font-size="12.4">10</text>
<text x="832.5" y="158.7" text-anchor="end" font-size="12.4">12</text>
<text x="832.5" y="131.8" text-anchor="end" font-size="12.4">14</text>
<text x="832.5" y="108.5" text-anchor="end" font-size="12.4">16</text>
<text x="832.5" y="87.9" text-anchor="end" font-size="12.4">18</text>
<text x="832.5" y="69.5" text-anchor="end" font-size="12.4">20</text>
<text x="832.5" y="52.9" text-anchor="end" font-size="12.4">22</text>
<path d="M911.9 251.5v-5M911.9 46.5v5M987.2 251.5v-5M987.2 46.5v5M1062.6 251.5v-5M1062.6 46.5v5M1138.0 251.5v-5M1138.0 46.5v5M1213.4 251.5v-5M1213.4 46.5v5M1288.8 251.5v-5M1288.8 46.5v5M1364.1 251.5v-5M1364.1 46.5v5M836.0 247.8h5M1439.8 247.8h-5M836.0 224.5h5M1439.8 224.5h-5M836.0 203.9h5M1439.8 203.9h-5M836.0 185.5h5M1439.8 185.5h-5M836.0 153.7h5M1439.8 153.7h-5M836.0 126.8h5M1439.8 126.8h-5M836.0 103.5h5M1439.8 103.5h-5M836.0 82.9h5M1439.8 82.9h-5M836.0 64.5h5M1439.8 64.5h-5M836.0 47.9h5M1439.8 47.9h-5" stroke="#000" stroke-opacity="0.35" stroke-width="1" fill="none"/>
<text x="809.5" y="149.0" text-anchor="middle" font-size="12.35" font-weight="bold" transform="rotate(-90 809.5 149.0)">freq (mHz)</text>
<rect x="1458.5" y="46.5" width="25.0" height="205.0" fill="url(#jet)"/>
<text x="1486.5" y="51.0" text-anchor="start" font-size="12.4">4</text>
<text x="1486.5" y="85.2" text-anchor="start" font-size="12.4">3</text>
<text x="1486.5" y="119.3" text-anchor="start" font-size="12.4">2</text>
<text x="1486.5" y="153.5" text-anchor="start" font-size="12.4">1</text>
<text x="1486.5" y="187.7" text-anchor="start" font-size="12.4">0</text>
<text x="1486.5" y="221.8" text-anchor="start" font-size="12.4">-1</text>
<text x="1486.5" y="256.0" text-anchor="start" font-size="12.4">-2</text>
<path d="M1458.5 80.7h3M1483.5 80.7h-3M1458.5 114.8h3M1483.5 114.8h-3M1458.5 149.0h3M1483.5 149.0h-3M1458.5 183.2h3M1483.5 183.2h-3M1458.5 217.3h3M1483.5 217.3h-3" stroke="#000" stroke-opacity="0.45" stroke-width="1" fill="none"/>
<text x="1518.6" y="149.0" text-anchor="middle" font-size="12.35" font-weight="bold" transform="rotate(-90 1518.6 149.0)">log<tspan dy="3" font-size="9">2</tspan><tspan dy="-3">(nT</tspan><tspan dy="-5" font-size="9">2</tspan><tspan dy="5">/Hz)</tspan></text>
<rect x="43.5" y="331.5" width="602.0" height="205.0" fill="none" stroke="#a2a2a2" stroke-width="1"/>
<text x="43.1" y="550.7" text-anchor="middle" font-size="12.4">00:00</text>
<text x="118.3" y="550.7" text-anchor="middle" font-size="12.4">03:00</text>
<text x="193.6" y="550.7" text-anchor="middle" font-size="12.4">06:00</text>
<text x="268.9" y="550.7" text-anchor="middle" font-size="12.4">09:00</text>
<text x="344.1" y="550.7" text-anchor="middle" font-size="12.4">12:00</text>
<text x="419.4" y="550.7" text-anchor="middle" font-size="12.4">15:00</text>
<text x="494.6" y="550.7" text-anchor="middle" font-size="12.4">18:00</text>
<text x="569.9" y="550.7" text-anchor="middle" font-size="12.4">21:00</text>
<text x="645.1" y="550.7" text-anchor="middle" font-size="12.4">00:00</text>
<text x="38.9" y="540.7" text-anchor="end" font-size="12.4">-1.5</text>
<text x="38.9" y="511.4" text-anchor="end" font-size="12.4">-1</text>
<text x="38.9" y="482.1" text-anchor="end" font-size="12.4">-0.5</text>
<text x="38.9" y="452.8" text-anchor="end" font-size="12.4">0</text>
<text x="38.9" y="423.6" text-anchor="end" font-size="12.4">0.5</text>
<text x="38.9" y="394.3" text-anchor="end" font-size="12.4">1</text>
<text x="38.9" y="365.0" text-anchor="end" font-size="12.4">1.5</text>
<text x="38.9" y="335.7" text-anchor="end" font-size="12.4">2</text>
<path d="M118.8 536.5v-6M118.8 331.5v6M194.0 536.5v-6M194.0 331.5v6M269.2 536.5v-6M269.2 331.5v6M344.5 536.5v-6M344.5 331.5v6M419.8 536.5v-6M419.8 331.5v6M495.0 536.5v-6M495.0 331.5v6M570.2 536.5v-6M570.2 331.5v6M43.5 507.2h6M645.5 507.2h-6M43.5 477.9h6M645.5 477.9h-6M43.5 448.6h6M645.5 448.6h-6M43.5 419.4h6M645.5 419.4h-6M43.5 390.1h6M645.5 390.1h-6M43.5 360.8h6M645.5 360.8h-6" stroke="#6e6e6e" stroke-width="0.7" fill="none"/>
<g clip-path="url(#cl1)">
<path transform="translate(43.5 0) scale(0.333333 1)" d="M0 440.1h1V441.6h1V433.8h1V442.9h1V445.7h1V444.3h1V440.7h1V443.1h1V442.9h1V444.3h1V442.8h1V443.6h1V441.6h1V438.7h1V438.7h1V442.7h1V442h1V440.9h1V437.5h1V440h1V443.6h1V441.3h1V443.1h1V442.9h1V444.4h1V442.4h1V439.3h1V443.1h1V434.7h1V436.2h1V441.6h1V440h1V360.8h1V395.9h1V439h1V433.5h1V438.9h1V441.3h1V445.2h1V433.7h1V442.6h1V434.9h1V445.8h1V444.9h1V444.7h1V442.5h1V439.8h1V440h1V441.7h1V444.3h1V445.3h1V432.6h1V444.5h1V442.9h1V437.2h1V443.9h1V442.7h1V445.8h1V436.3h1V444.1h1V444.8h1V443.1h1V443.1h1V438.8h1V443.7h1V434.1h1V440.8h1V443.6h1V445.4h1V437.7h1V439.5h1V446.4h1V439.7h1V447.1h1V443h1V438.8h1V443.8h1V445.4h1V445.2h1V443.7h1V444.6h1V444.6h1V443.7h1V444h1V441.3h1V445.2h1V446.3h1V442.9h1V443.4h1V444h1V444.9h1V444.3h1V440.6h1V438.6h1V435h1V440.1h1V444.8h1V445.3h1V445.1h1V443.6h1V440.5h1V431.7h1V445.2h1V444.7h1V442.2h1V443.7h1V441.4h1V444.4h1V443.6h1V443.6h1V444.6h1V444.4h1V444.2h1V444.2h1V442.6h1V438.6h1V438.8h1V440.5h1V441.3h1V432.6h1V435.6h1V443.8h1V436.5h1V429.8h1V446h1V444.8h1V444.9h1V443.7h1V441.3h1V445.5h1V440.5h1V441.9h1V440.3h1V437.1h1V442.7h1V439.3h1V443.4h1V442.8h1V442h1V443.7h1V441.7h1V444h1V442.8h1V442.2h1V433.6h1V439.4h1V441.3h1V441.6h1V443.9h1V443.7h1V442.9h1V443.8h1V445.1h1V444.9h1V442.6h1V438.9h1V447.2h1V443.1h1V443.6h1V437.3h1V437.3h1V443.5h1V444.7h1V444.4h1V441.5h1V444.5h1V442.7h1V444h1V445.8h1V445.3h1V443.4h1V441.6h1V444.2h1V443.4h1V444.5h1V444.5h1V439.2h1V442.5h1V446.2h1V444.8h1V445.4h1V443.4h1V445h1V445.1h1V444.4h1V444.4h1V441.4h1V445.1h1V442.9h1V445.3h1V444.2h1V443.4h1V443.3h1V445.1h1V446.4h1V441.7h1V442h1V445.8h1V445.4h1V443.7h1V442.7h1V445h1V443.5h1V445.5h1V445.4h1V444.9h1V444.8h1V443.9h1V443.8h1V444.2h1V445.5h1V442.8h1V443.6h1V444.1h1V441.4h1V444.5h1V443.3h1V443.9h1V445.1h1V443.9h1V442.4h1V442.2h1V442.6h1V444.6h1V444.7h1V440.7h1V443.7h1V442.2h1V439.9h1V444.6h1V446.7h1V444.2h1V444.8h1V444.2h1V443.9h1V446h1V444.2h1V444.7h1V445.1h1V443.5h1V446.2h1V445.9h1V444.1h1V445.1h1V441.9h1V446.7h1V441.3h1V444.5h1V442.7h1V444.9h1V444.8h1V445.7h1V444.2h1V444.2h1V444.2h1V445.8h1V443.2h1V444.7h1V444.5h1V442.1h1V444.8h1V443h1V444.5h1V444.6h1V442.9h1V443.3h1V446.4h1V437.6h1V439.5h1V445h1V436.1h1V436.1h1V441.3h1V443.5h1V445h1V438.1h1V435.4h1V443.5h1V440.8h1V433.6h1V439h1V442.4h1V438h1V443.8h1V439.9h1V445.6h1V436.7h1V441.4h1V443.2h1V444.1h1V439.8h1V434.8h1V444.2h1V443h1V434.4h1V441.8h1V444.5h1V443.1h1V436.5h1V433.5h1V445.3h1V442.3h1V443.1h1V444h1V446.2h1V438.6h1V441h1V444.7h1V445.2h1V443.4h1V442.4h1V442.5h1V442.2h1V443h1V444.5h1V444.3h1V444.8h1V443.6h1V446.3h1V444.7h1V444.6h1V446.7h1V443.4h1V443.7h1V440.8h1V440.5h1V440.1h1V441.7h1V440.7h1V439h1V433h1V430.4h1V435.7h1V444h1V440.7h1V439.3h1V442.3h1V444.8h1V443.6h1V443.8h1V439.8h1V444.3h1V444.8h1V444.4h1V443.8h1V443.3h1V440.1h1V432.7h1V437.8h1V444.2h1V430.2h1V426.8h1V440.1h1V441.8h1V435.1h1V435.7h1V427.9h1V433.6h1V436.4h1V439.8h1V423.2h1V435h1V435.4h1V435h1V439.5h1V431.5h1V438.4h1V443h1V429.4h1V445.4h1V432h1V442.5h1V442.5h1V441h1V442.1h1V442.5h1V440.1h1V420.5h1V444.1h1V444.9h1V434.5h1V435.7h1V436.9h1V441.9h1V437.5h1V440.1h1V444.1h1V440h1V435.8h1V441.4h1V440.2h1V431.6h1V423h1V435.3h1V442.1h1V442.5h1V443.6h1V443.2h1V442.1h1V441.8h1V434.8h1V443.4h1V443.4h1V444.6h1V441h1V441.6h1V437.7h1V442.5h1V429.7h1V435h1V436h1V443.8h1V440.7h1V442h1V434.1h1V444.5h1V446.9h1V439.6h1V443.6h1V439.4h1V442.2h1V444.3h1V438.1h1V443.2h1V444.3h1V435.3h1V444.6h1V433.5h1V440.8h1V447.1h1V441.8h1V435.9h1V430.1h1V440.2h1V426.2h1V446.6h1V439.6h1V440.6h1V428.1h1V432.4h1V437.1h1V442.2h1V443.7h1V445.4h1V439.9h1V441.7h1V444.4h1V438.6h1V444.2h1V442.6h1V445h1V444.3h1V440.6h1V444.4h1V436.2h1V442.1h1V442.5h1V445.2h1V443.4h1V444.8h1V444.3h1V444.5h1V444.8h1V442.3h1V439.1h1V437.1h1V443.3h1V439.3h1V439h1V443.3h1V436.2h1V436.6h1V439.9h1V441.4h1V425h1V436.6h1V444.5h1V441.5h1V442h1V439.5h1V443.8h1V436.6h1V443.4h1V445.5h1V444.4h1V445.4h1V442.2h1V440.5h1V439.8h1V437.6h1V440h1V436.1h1V427.2h1V438.9h1V424.9h1V441.9h1V423.6h1V442.5h1V442.9h1V445.5h1V443.5h1V444.6h1V438.1h1V440.6h1V445.2h1V442.6h1V438.9h1V444.2h1V442.8h1V444.9h1V442.2h1V443h1V445.2h1V444.3h1V445.1h1V443.3h1V446.1h1V442.9h1V442.5h1V443.2h1V445.4h1V444.7h1V446.8h1V443.4h1V443.9h1V441.6h1V441.6h1V444h1V440.1h1V445h1V442h1V444.5h1V444.2h1V443.8h1V444.7h1V443.9h1V433.4h1V436.6h1V442.2h1V443.9h1V440.5h1V440.9h1V443.8h1V443.2h1V446h1V443h1V445.8h1V440.4h1V445h1V445.2h1V445.9h1V445.1h1V445.9h1V442.7h1V446.5h1V444.7h1V441.3h1V442.9h1V445.9h1V443.9h1V441.6h1V443.4h1V446.8h1V443.9h1V445h1V444.8h1V446h1V444.7h1V444.7h1V445.4h1V445.2h1V443.9h1V445.5h1V443.7h1V444.6h1V441.6h1V444.3h1V444.4h1V445.9h1V442.8h1V444h1V441.4h1V439.9h1V439.9h1V446.1h1V444h1V445h1V443.8h1V445h1V445.1h1V445.3h1V445.2h1V443.6h1V443.5h1V444.7h1V443.1h1V443.6h1V440.6h1V442.1h1V444.2h1V445h1V436.7h1V442.3h1V445.2h1V444.7h1V444.9h1V441.7h1V442.6h1V444.1h1V442.6h1V442.4h1V443.5h1V442.9h1V442.8h1V442.8h1V445.2h1V445h1V445h1V444.1h1V444.1h1V445.5h1V445.2h1V442.8h1V437.3h1V443.4h1V444.9h1V441.8h1V444.7h1V443.2h1V442.6h1V442.6h1V439.4h1V441.6h1V439.3h1V442.6h1V438.9h1V439.6h1V435.4h1V442.6h1V446.4h1V442.7h1V442.9h1V442.8h1V444h1V440.6h1V445.1h1V437.8h1V441.4h1V442.8h1V441.5h1V445.3h1V444.3h1V445.7h1V444.2h1V444.3h1V445.5h1V445.6h1V444.3h1V443.8h1V438h1V445.8h1V446.6h1V442.7h1V442.6h1V444.1h1V445.6h1V444.5h1V446.4h1V441.8h1V444.2h1V444.6h1V442.8h1V445.3h1V443.8h1V445.4h1V443.5h1V442.4h1V442.3h1V444.7h1V445.5h1V443.4h1V445.5h1V444.9h1V443.8h1V441.6h1V444.4h1V444.9h1V444.9h1V444.3h1V444.6h1V445.5h1V443.9h1V446.9h1V446.1h1V446.1h1V444.8h1V444.8h1V444.4h1V444.2h1V445.6h1V443.9h1V445h1V444.1h1V443.6h1V441.1h1V445.1h1V442.3h1V442.4h1V444.9h1V441.1h1V443h1V444.1h1V445.9h1V444.3h1V444.5h1V442.9h1V444.4h1V443.4h1V444.1h1V443.1h1V441.2h1V441.2h1V441.7h1V442.7h1V443.3h1V443.9h1V443.7h1V443.4h1V441h1V437.3h1V438.9h1V443h1V443.5h1V446.9h1V437.9h1V446.8h1V444.9h1V446h1V446.1h1V444.8h1V443.4h1V445h1V445.5h1V444.8h1V445.7h1V441.9h1V444.1h1V445.1h1V442h1V443.9h1V443.7h1V444.4h1V445.9h1V443.2h1V442h1V444.7h1V442.5h1V437.9h1V444.3h1V443.6h1V443.8h1V443h1V442.8h1V424h1V437.8h1V443.5h1V444.2h1V446.7h1V442.7h1V442.3h1V445.9h1V440.6h1V441.2h1V443.9h1V438.3h1V438.1h1V444.4h1V443.5h1V443.5h1V442.9h1V439.8h1V442.2h1V434.2h1V444.2h1V440.2h1V445.1h1V442.1h1V434.6h1V445.8h1V436.6h1V446.2h1V444.1h1V444.3h1V444.1h1V441.9h1V444.7h1V443.6h1V440.9h1V443.3h1V441.9h1V441.7h1V441.6h1V443.7h1V444.1h1V437.7h1V442.7h1V445h1V441.9h1V444.8h1V444.2h1V445.9h1V445.2h1V442.5h1V443.8h1V442.8h1V442.7h1V440.8h1V445.3h1V441h1V445.1h1V442.7h1V445.7h1V442.9h1V443.3h1V442.4h1V443.9h1V444.4h1V445.3h1V439.4h1V444.1h1V438.2h1V443h1V444.4h1V445.2h1V443.8h1V443.5h1V446h1V444.1h1V445.5h1V440.3h1V438.4h1V438.4h1V444.1h1V444.4h1V445.1h1V446h1V444.8h1V442.9h1V443.1h1V443.5h1V444.6h1V444.7h1V445.5h1V444.5h1V444.7h1V440.9h1V445.1h1V443.5h1V445h1V440.7h1V443h1V442.6h1V439.2h1V441.4h1V441.3h1V439.7h1V439.7h1V439h1V438.8h1V436.5h1V439.5h1V436.7h1V434.3h1V441.1h1V443.6h1V443.5h1V443.7h1V442.3h1V439.8h1V436h1V444.4h1V440.7h1V442h1V438.7h1V438.4h1V443.2h1V445.7h1V444.2h1V442.9h1V440.7h1V438.9h1V441.4h1V438.7h1V435.9h1V433.2h1V438h1V438.5h1V429.7h1V445.1h1V440.7h1V433.8h1V438.4h1V437.1h1V439.4h1V440.3h1V444.3h1V441h1V434.9h1V433.8h1V441.6h1V444.4h1V443.4h1V444.6h1V442.5h1V444.5h1V439.1h1V441.7h1V442.3h1V442.9h1V441h1V441.7h1V442.6h1V444.9h1V446.5h1V441.6h1V438.8h1V445.8h1V441.2h1V445.9h1V443.6h1V444.4h1V442.6h1V439.4h1V439.8h1V439.7h1V441.8h1V440.7h1V440.7h1V444.1h1V442.9h1V441.3h1V445.4h1V446h1V444.2h1V443.4h1V445.6h1V443.4h1V444.9h1V440.7h1V440.5h1V436.4h1V436.4h1V441h1V443.8h1V444.2h1V444.8h1V443h1V444.2h1V445.6h1V441.6h1V445.1h1V440.3h1V435.8h1V441.9h1V444h1V439.3h1V441.9h1V441.8h1V444.5h1V441.4h1V445.3h1V443.1h1V445.2h1V442.8h1V443.9h1V442.4h1V444h1V442.1h1V435.2h1V435.2h1V444.8h1V445.3h1V441.7h1V447.2h1V441.8h1V440.5h1V443.8h1V444.5h1V444.5h1V442.5h1V446.4h1V442.3h1V445.4h1V444.8h1V444.5h1V444.4h1V444.3h1V443.7h1V445.5h1V444.3h1V440h1V445.1h1V440.4h1V443.7h1V444.4h1V442h1V442.4h1V441.9h1V441.1h1V440.4h1V445.5h1V445.2h1V446.6h1V440.9h1V445.7h1V443.3h1V444.3h1V444.8h1V442.8h1V441.6h1V445h1V438.7h1V442.4h1V446.2h1V443.2h1V444h1V439.1h1V439.1h1V446.8h1V438.4h1V445.9h1V442.4h1V444.8h1V443.6h1V445.1h1V445.9h1V445.3h1V444.4h1V443h1V444.4h1V445.3h1V445.5h1V446.8h1V441.8h1V446.5h1V443.7h1V441.6h1V444.3h1V444.7h1V445h1V442.5h1V442.1h1V445.6h1V438h1V444.8h1V441.5h1V443.9h1V440.4h1V444.2h1V442.8h1V433.9h1V437.9h1V443.3h1V443.4h1V444.6h1V444.4h1V442.9h1V441.8h1V444.9h1V443.8h1V444h1V444.2h1V444.7h1V444h1V439.6h1V442.5h1V443.2h1V441.7h1V445h1V442.6h1V441.3h1V445.7h1V443.5h1V443.8h1V442.3h1V439.3h1V442.5h1V445h1V440.2h1V441.8h1V443.3h1V445.5h1V444h1V440.7h1V445.4h1V442h1V443.2h1V443.3h1V445.2h1V444.5h1V445.1h1V444.4h1V445.5h1V443.7h1V445.8h1V444.4h1V443.1h1V443.2h1V444.3h1V443.7h1V446.1h1V443.8h1V442.7h1V444.4h1V445.9h1V445.6h1V442.8h1V442h1V445.5h1V444.3h1V444.9h1V445.3h1V446.2h1V445h1V445.5h1V440.5h1V443.2h1V445.7h1V445.3h1V444.9h1V443.2h1V444.3h1V443h1V440.9h1V443.4h1V446h1V440.6h1V445.1h1V445.8h1V444.7h1V444.9h1V446.6h1V444.5h1V444.8h1V444h1V442.7h1V440.6h1V440.6h1V444.7h1V441.4h1V441.7h1V440.6h1V440.6h1V441.9h1V440.6h1V440.6h1V443.4h1V444.5h1V444.4h1V441.3h1V440.6h1V442.9h1V446.5h1V442.6h1V447.3h1V443.4h1V440.9h1V442.4h1V444.2h1V444.1h1V445.8h1V443.3h1V445.4h1V444.5h1V445.7h1V445.7h1V443.3h1V445.3h1V444.9h1V444.2h1V440.9h1V440.9h1V445.3h1V442h1V444.3h1V441.5h1V443.1h1V447.8h1V440.6h1V445.3h1V442h1V440.7h1V445.4h1V446.1h1V444.4h1V440.6h1V441.1h1V444h1V445h1V443.7h1V444.3h1V445.1h1V441.9h1V444.9h1V445.5h1V444.2h1V443h1V440.7h1V445.1h1V445.1h1V444.2h1V444.9h1V444.8h1V444.8h1V441.2h1V442.4h1V445.2h1V444.3h1V445.1h1V441.7h1V443.3h1V444.5h1V444.6h1V443.7h1V444.8h1V444.8h1V445.4h1V443h1V441.8h1V443.2h1V441.6h1V445.2h1V443.7h1V444.5h1V443.7h1V444.3h1V443.3h1V444.9h1V444.3h1V441.2h1V442.9h1V444.6h1V444.4h1V445.4h1V444.9h1V445.5h1V444.8h1V444.1h1V445.3h1V443.1h1V446.1h1V442.8h1V443.4h1V444.4h1V444.4h1V445.4h1V444.7h1V443.7h1V443.2h1V442.5h1V444.5h1V445.5h1V444.2h1V443.1h1V439h1V444.6h1V436.7h1V436.6h1V441h1V442.2h1V440.3h1V433.1h1V444.5h1V435.2h1V440.5h1V437.9h1V442.7h1V442.2h1V443.4h1V441.9h1V424.9h1V438.8h1V435.6h1V445.1h1V424.1h1V435.3h1V443.4h1V441h1V440h1V442.7h1V444h1V442.8h1V441.1h1V444.1h1V443.4h1V444h1V445.5h1V443.5h1V440.6h1V444.2h1V442.2h1V431.1h1V441.4h1V443.9h1V437.9h1V440.3h1V445h1V444.7h1V444.9h1V444.8h1V442.9h1V444h1V436.8h1V442.6h1V440.2h1V443.3h1V438.7h1V443.9h1V438.3h1V439.5h1V444.5h1V441.5h1V445.5h1V440.7h1V438.9h1V438.9h1V443h1V440.3h1V442.1h1V442.7h1V443h1V435.9h1V441.7h1V442.8h1V439.4h1V441.5h1V427.3h1V427.3h1V436.3h1V439.5h1V436.4h1V444.3h1V437.1h1V444.1h1V444.4h1V443.6h1V440.3h1V438.2h1V445h1V444.5h1V426.1h1V437.7h1V443.3h1V443.6h1V439.3h1V444.2h1V443.5h1V446.1h1V441.6h1V442.9h1V444.4h1V444.1h1V434.3h1V439.1h1V435h1V444h1V440.5h1V442.1h1V425.1h1V436.3h1V437.7h1V436.4h1V439.8h1V432.7h1V424.9h1V424.8h1V443.2h1V444.2h1V444.6h1V443.5h1V444.6h1V444.4h1V443.6h1V441.4h1V436.7h1V442.9h1V443.9h1V444.5h1V437.9h1V437.5h1V443.3h1V436.3h1V442.8h1V440.1h1V443.8h1V440.3h1V445.4h1V443h1V432.6h1V441.1h1V445.1h1V443h1V441.7h1V441.7h1V434.4h1V443.3h1V447.2h1V438.3h1V440.4h1V442.9h1V443.3h1V441.2h1V443.6h1V441.5h1V441.5h1V444.1h1V445.8h1V443.5h1V444.9h1V436.1h1V443h1V444.5h1V446.5h1V432.6h1V431.2h1V439.5h1V444.6h1V444.3h1V439.7h1V437.8h1V444.2h1V444.2h1V445.2h1V440.8h1V443h1V443.4h1V442.6h1V443.8h1V444.1h1V441.8h1V446.6h1V442.3h1V445.1h1V442.4h1V443.8h1V443.5h1V446.4h1V440.9h1V446h1V445.1h1V441.8h1V444.4h1V441.2h1V440.3h1V443.8h1V442.7h1V444h1V444.4h1V443.1h1V424.9h1V441.9h1V439h1V434.8h1V437.2h1V441.9h1V422.3h1V437.3h1V437.3h1V445.3h1V442.8h1V434.8h1V428.2h1V443h1V441.9h1V444h1V443.2h1V432.4h1V441h1V437.5h1V441.5h1V441.3h1V444.7h1V443.3h1V436.4h1V436h1V432.7h1V435.2h1V443.8h1V444.1h1V434.5h1V418.7h1V440.7h1V441.8h1V445h1V443.9h1V439.9h1V440.5h1V443.9h1V443.8h1V432h1V441.3h1V440h1V441.8h1V434.8h1V437.4h1V438.6h1V428.6h1V432.5h1V414.2h1V428.5h1V441.9h1V440.9h1V440.5h1V438.8h1V440.5h1V416.7h1V419.2h1V437.8h1V429.7h1V429.3h1V431.9h1V410.7h1V410.7h1V423.1h1V432.9h1V428.2h1V427.7h1V436.6h1V428.2h1V432.3h1V441.8h1V441.6h1V438.9h1V437.5h1V437.5h1V440.9h1V426h1V435.6h1V434.3h1V421.2h1V417.4h1V415.5h1V412.4h1V448.1h1V425.3h1V439.4h1V415.2h1V418h1V417.8h1V434.1h1V416.4h1V437.4h1V437.7h1V433.4h1V432.1h1V439.1h1V440.6h1V428.7h1V427.8h1V437.8h1V439.6h1V434.1h1V444.7h1V433.8h1V442.6h1V432.6h1V431.2h1V417.5h1V441.8h1V434h1V435.7h1V428.5h1V442.6h1V438.9h1V443h1V437.4h1V435.4h1V425h1V432.1h1V432.6h1V430.1h1V436.5h1V429.3h1V439.8h1V437.3h1V440.3h1V440.8h1V442.3h1V440.7h1V438.2h1V435.5h1V422h1V433.1h1V443.9h1V439.7h1V440.8h1V428.7h1V435.2h1V433.9h1V413.6h1V437.1h1V438.1h1V432.9h1V429h1V423.8h1V436.8h1V437.6h1V437.5h1V423h1V427.3h1V424.5h1V438.7h1V442.1h1V438.3h1V437.2h1V434.2h1V442.8h1V438.2h1V442.4h1V442.3h1V437h1V429.7h1V436.9h1V435.8h1V441.3h1V407.9h1V408.1h1V433.4h1V433.4h1V437.4h1V436.8h1V431.3h1V446.1h1V440.8h1V439.7h1V418.9h1V434.6h1V444.3h1V435.7h1V434.4h1V444h1V426.2h1V431.9h1V440.9h1V444.7h1V441.4h1V442.9h1V443.6h1V444.9h1V445.5h1V443.4h1V444.3h1V444h1V442.7h1V444.4h1V444.9h1V445.8h1V444.2h1V444.2h1V445.9h1V445.6h1V443.3h1V443.3h1V444.9h1V444.3h1V444.2h1V444.8h1V443.5h1V445.7h1V443.5h1V444.9h1V445.5h1V444.8h1V446.5h1V444.9h1V445.1h1V445.3h1V445h1V440.8h1V444.6h1V446.6h1V442.9h1V444.3h1V443.2h1V444.9h1V445.8h1V445.3h1V445.9h1V443.2h1V440.9h1V440.9h1V444.8h1V444.8h1V443.5h1V445.7h1V444.5h1V445h1V441.3h1V446.2h1V445.6h1V442.7h1V443.3h1V446.3h1V444.8h1V444.7h1V444.7h1V442.3h1V445.2h1V445.3h1V444.7h1V444.1h1V444.6h1V443.8h1V444.1h1V446.5h1V441.1h1V445.8h1V443.9h1V445.5h1V443.2h1V441.1h1V444.6h1V445.3h1V444.6h1V443h1V444.7h1V446.2h1V445.3h1V446.1h1V444.3h1V442.1h1V442.2h1V447.6h1V440.5h1V440.5h1V444.2h1V444.5h1V443.9h1V442.6h1V445.6h1V444.9h1V442.1h1V438.6h1V440.1h1V445.1h1V444.9h1V444.4h1V445.8h1V442.7h1V444.4h1V440.6h1V442.7h1V442h1V441.6h1V443.5h1V442.8h1V444.9h1V441.8h1V443.5h1V443.4h1V444.7h1V443.1h1V440.6h1V440.6h1V436.1h1V436.1h1V443.2h1V444.6h1V443h1V441.9h1V444.2h1V435.6h1V444.6h1V444.3h1V444.4h1V445.3h1V444.3h1V441.4h1V442.1h1V444.2h1V444.7h1V443h1V445.4h1V445.2h1V444h1V446.2h1V444.6h1V444.4h1V444.3h1V444.7h1V443.5h1V443.2h1V444.9h1V443.4h1V444.1h1V446.4h1V443.5h1V442.1h1V442.2h1V442.9h1V441.5h1V444.4h1V442.5h1V442.1h1V444.1h1V440.3h1V456.9h-1V452.7h-1V454.6h-1V458.7h-1V453.2h-1V454.6h-1V453.3h-1V452.1h-1V454.7h-1V452.1h-1V452h-1V452.5h-1V454.3h-1V451.4h-1V457.3h-1V451.4h-1V453.1h-1V454.8h-1V453.8h-1V450.3h-1V456.2h-1V451.5h-1V452.2h-1V454.2h-1V453.1h-1V452h-1V452.5h-1V455h-1V455.1h-1V451.6h-1V451.1h-1V452.3h-1V454.8h-1V452.8h-1V461.7h-1V461.7h-1V455h-1V456.4h-1V452.7h-1V459.6h-1V459.3h-1V455.5h-1V461h-1V450.7h-1V457h-1V454.8h-1V454.4h-1V458.6h-1V456.5h-1V453.3h-1V454.6h-1V454.4h-1V452.8h-1V458.9h-1V454.8h-1V453.8h-1V455.6h-1V452h-1V453.1h-1V453.2h-1V453.4h-1V453.4h-1V451.1h-1V458.8h-1V452h-1V454h-1V452.6h-1V452.4h-1V452.3h-1V451h-1V453.4h-1V455.5h-1V451.7h-1V454.1h-1V452.4h-1V455h-1V452.6h-1V453h-1V450.9h-1V452.4h-1V453.6h-1V453.6h-1V454.4h-1V450.5h-1V455.7h-1V456.1h-1V454.8h-1V454h-1V451.1h-1V453.9h-1V454.9h-1V454.5h-1V453.9h-1V453.7h-1V451.3h-1V454.5h-1V452h-1V452.2h-1V453.4h-1V451.2h-1V452.6h-1V451.1h-1V453.6h-1V452.4h-1V451.2h-1V454.6h-1V455.3h-1V456.3h-1V451.7h-1V452.6h-1V451.7h-1V451.5h-1V452.3h-1V454.9h-1V455.2h-1V454.5h-1V456.4h-1V454h-1V452h-1V451.4h-1V452.3h-1V451.2h-1V452.9h-1V451.7h-1V454.4h-1V451.9h-1V454.9h-1V452.5h-1V450.5h-1V452.8h-1V451.3h-1V452.6h-1V453.1h-1V451.5h-1V451.9h-1V452.5h-1V452.5h-1V450.8h-1V452.5h-1V452.4h-1V453.4h-1V452.9h-1V452h-1V452.4h-1V451.2h-1V453.4h-1V452.3h-1V451.5h-1V452.2h-1V454h-1V451.9h-1V454.7h-1V453.3h-1V454.3h-1V451.9h-1V452.7h-1V452.8h-1V451.3h-1V451.8h-1V453.9h-1V452h-1V452.2h-1V453.7h-1V467h-1V455.5h-1V467.3h-1V453.8h-1V457.9h-1V460.4h-1V454h-1V468.2h-1V464.9h-1V452.9h-1V453.6h-1V455h-1V455.7h-1V459.1h-1V460.2h-1V458.7h-1V462.7h-1V459.3h-1V454.2h-1V454.8h-1V454.1h-1V457.3h-1V453h-1V453h-1V453.8h-1V451.9h-1V455.1h-1V452.2h-1V454.6h-1V453.8h-1V449.7h-1V461.1h-1V451.2h-1V466.8h-1V457h-1V458.2h-1V456.1h-1V454.2h-1V461.1h-1V460.3h-1V459.2h-1V453.3h-1V455h-1V470.2h-1V470.2h-1V459h-1V452.2h-1V453h-1V452.7h-1V458.1h-1V457.1h-1V468.5h-1V468.5h-1V454.4h-1V452.1h-1V453.7h-1V449.4h-1V456.7h-1V454.2h-1V456.6h-1V459.8h-1V457.8h-1V455.5h-1V453.5h-1V454.6h-1V463.2h-1V453.1h-1V457.1h-1V452.8h-1V452.1h-1V454h-1V454h-1V462.4h-1V453.6h-1V460.6h-1V456h-1V474.3h-1V452.6h-1V458.3h-1V452.7h-1V453h-1V453.7h-1V452.4h-1V462h-1V461.2h-1V463.4h-1V460.6h-1V451.5h-1V471.3h-1V462.8h-1V456.6h-1V463.9h-1V467.4h-1V462h-1V466.6h-1V466.5h-1V462.5h-1V466.3h-1V450.8h-1V454.7h-1V455.3h-1V475h-1V474.9h-1V461.4h-1V468.8h-1V461h-1V460.4h-1V458.3h-1V459h-1V455.2h-1V456.6h-1V454.3h-1V452.6h-1V460.5h-1V453.1h-1V459.9h-1V460.7h-1V457.2h-1V461.2h-1V461.1h-1V474.2h-1V463.9h-1V460.2h-1V466.1h-1V456.2h-1V453.6h-1V465.2h-1V472.8h-1V459.7h-1V455.4h-1V452.5h-1V453.6h-1V452.6h-1V461.3h-1V464.3h-1V474.2h-1V457.3h-1V457.4h-1V455.9h-1V453.3h-1V453.3h-1V451.8h-1V472.1h-1V458.1h-1V453.4h-1V454.5h-1V455.7h-1V453.7h-1V451.2h-1V452.7h-1V452.8h-1V451.7h-1V464.4h-1V464.6h-1V450.8h-1V458.7h-1V450.8h-1V455.4h-1V467.2h-1V450.8h-1V453.9h-1V453.8h-1V453.2h-1V453.9h-1V454.4h-1V462.1h-1V453.1h-1V456.9h-1V455.3h-1V455h-1V454.7h-1V458.2h-1V458.1h-1V451.9h-1V453.4h-1V454.7h-1V472.6h-1V467.7h-1V455.1h-1V459.5h-1V456.1h-1V454.7h-1V471.2h-1V463.9h-1V455.6h-1V455.2h-1V455.6h-1V453.3h-1V453.2h-1V456h-1V455.1h-1V453.8h-1V451.5h-1V452.7h-1V452.6h-1V452.4h-1V452.2h-1V455.8h-1V455h-1V457.5h-1V454h-1V453.8h-1V454.2h-1V451.1h-1V456.3h-1V453h-1V454.2h-1V456.9h-1V457.4h-1V454h-1V454.4h-1V452.6h-1V457.2h-1V457.8h-1V455.2h-1V458.7h-1V452.2h-1V460.1h-1V459.1h-1V457.7h-1V455.3h-1V453.4h-1V459.9h-1V453.9h-1V451.3h-1V453h-1V452.7h-1V452.9h-1V453.4h-1V453.1h-1V452.4h-1V453.6h-1V453.7h-1V452.5h-1V458.5h-1V454h-1V455.4h-1V451.6h-1V454.2h-1V462h-1V452.5h-1V454.3h-1V452.5h-1V464.8h-1V463.1h-1V456.3h-1V452.7h-1V453.3h-1V461.7h-1V452.6h-1V459.8h-1V456.4h-1V454.2h-1V459.8h-1V454.5h-1V455.7h-1V457.1h-1V457.1h-1V458.3h-1V454.2h-1V453h-1V451.4h-1V458.3h-1V453h-1V453.3h-1V452.9h-1V456.9h-1V472.5h-1V472.5h-1V468.3h-1V464.4h-1V458.6h-1V460.6h-1V466.6h-1V459.1h-1V465.2h-1V452.5h-1V456.6h-1V454h-1V464.8h-1V464.9h-1V451.9h-1V452.7h-1V453.2h-1V456.6h-1V452.4h-1V455.6h-1V457.6h-1V451.3h-1V454.6h-1V453h-1V471.2h-1V471.2h-1V453.8h-1V453.1h-1V459.1h-1V458h-1V454.3h-1V454h-1V455.3h-1V455h-1V453.4h-1V454.7h-1V458h-1V454.9h-1V468h-1V462.2h-1V456.5h-1V460.3h-1V457.7h-1V458.6h-1V455.5h-1V452.9h-1V454.3h-1V454.5h-1V451.5h-1V453h-1V462.4h-1V466.3h-1V455.5h-1V455.1h-1V454h-1V457.3h-1V455.7h-1V453.9h-1V454.8h-1V456.7h-1V453.7h-1V456.4h-1V451.8h-1V461.3h-1V462.9h-1V453h-1V453.3h-1V452.3h-1V452.7h-1V453.7h-1V466.4h-1V455.3h-1V457h-1V455.7h-1V475.6h-1V456.2h-1V456.9h-1V460.5h-1V456.2h-1V455.3h-1V451.9h-1V455.3h-1V457.9h-1V456.3h-1V455.8h-1V451.8h-1V455.4h-1V455.4h-1V454.8h-1V453.7h-1V462.1h-1V459.9h-1V453.8h-1V461.6h-1V462.2h-1V462.2h-1V456.5h-1V452.7h-1V453h-1V455.4h-1V460.8h-1V459.9h-1V458.1h-1V454h-1V453.9h-1V452h-1V452.1h-1V456.9h-1V469.6h-1V452.5h-1V453.7h-1V455.2h-1V453.3h-1V456.1h-1V451.9h-1V453h-1V455.9h-1V459.3h-1V453.3h-1V452.2h-1V452.1h-1V452.5h-1V453.7h-1V452.9h-1V452.5h-1V454.5h-1V451.9h-1V452.2h-1V454.8h-1V453.8h-1V452.9h-1V452.3h-1V454.5h-1V452.5h-1V452.4h-1V456.7h-1V453.7h-1V453.2h-1V453h-1V451h-1V454.1h-1V450.8h-1V454.7h-1V452.3h-1V454.7h-1V454.6h-1V452.3h-1V454.3h-1V453.2h-1V452h-1V453.2h-1V453.5h-1V455.5h-1V453.4h-1V452.6h-1V454.3h-1V453h-1V454.5h-1V453.3h-1V453.7h-1V454.6h-1V454h-1V453.3h-1V450.9h-1V455.6h-1V453.1h-1V452.7h-1V454.2h-1V452.7h-1V452.3h-1V455.7h-1V450.6h-1V454.4h-1V454.1h-1V451.2h-1V451.9h-1V451.6h-1V452.5h-1V452h-1V455.9h-1V455.7h-1V453.3h-1V451.3h-1V451.8h-1V455h-1V455.8h-1V456.7h-1V450.4h-1V456.7h-1V451.3h-1V452.7h-1V453.1h-1V453h-1V453.3h-1V456.4h-1V451.7h-1V451.8h-1V453.2h-1V452.8h-1V453.4h-1V452.8h-1V453.4h-1V452.3h-1V451.9h-1V451.9h-1V453.5h-1V455.5h-1V454.1h-1V452h-1V456.7h-1V454.9h-1V453.3h-1V451.8h-1V452.8h-1V452.4h-1V455.3h-1V452.4h-1V454.5h-1V451.4h-1V456.7h-1V452.4h-1V456.7h-1V451.8h-1V456.7h-1V453.9h-1V454.4h-1V453.9h-1V453.6h-1V454.6h-1V456.2h-1V456.7h-1V452.9h-1V451.5h-1V451.3h-1V452.6h-1V451h-1V453.5h-1V452.3h-1V452.4h-1V453.8h-1V453.5h-1V454.2h-1V454.8h-1V455.5h-1V455.4h-1V455.4h-1V451.8h-1V452.6h-1V452.5h-1V453.1h-1V454.1h-1V453.3h-1V451.9h-1V450.7h-1V451.1h-1V452.4h-1V453h-1V453.3h-1V457.1h-1V453.9h-1V451.5h-1V452.3h-1V452.2h-1V453h-1V453.1h-1V453.3h-1V452.6h-1V451.4h-1V451.9h-1V454.2h-1V456h-1V452.1h-1V452.4h-1V453.5h-1V450.8h-1V453h-1V451.9h-1V453.4h-1V453.1h-1V452.8h-1V454.6h-1V455.9h-1V455.4h-1V452.4h-1V451.9h-1V454.7h-1V457.9h-1V451.8h-1V452.3h-1V454.8h-1V454.8h-1V458.1h-1V451.4h-1V450.9h-1V453.9h-1V453.5h-1V453.4h-1V456.6h-1V453.8h-1V458.3h-1V452.7h-1V453.9h-1V453.8h-1V451.9h-1V453.6h-1V455.3h-1V451.3h-1V454h-1V450.7h-1V460h-1V456.2h-1V455.2h-1V451.8h-1V454.1h-1V453.8h-1V454.4h-1V456.3h-1V454.3h-1V453.9h-1V451.2h-1V456.9h-1V457.9h-1V453.6h-1V453h-1V452.9h-1V458.1h-1V455h-1V451.9h-1V459.1h-1V452h-1V454.6h-1V452.4h-1V451.1h-1V454.1h-1V452.4h-1V451.6h-1V450.8h-1V456.8h-1V450.1h-1V451.5h-1V452.8h-1V453.5h-1V451.8h-1V454.8h-1V453.3h-1V457.5h-1V449.4h-1V454.5h-1V455.7h-1V453.3h-1V458.2h-1V451.7h-1V455.1h-1V458.3h-1V454.6h-1V454.6h-1V452.7h-1V455.4h-1V456.5h-1V453.8h-1V452.1h-1V453.1h-1V453.4h-1V454.8h-1V451.2h-1V453.6h-1V455.5h-1V454.6h-1V457.3h-1V454.7h-1V455.2h-1V453.9h-1V452.8h-1V454.5h-1V452.3h-1V453.8h-1V452.3h-1V452.5h-1V453h-1V454.1h-1V452.6h-1V451.3h-1V454.2h-1V452.4h-1V456.6h-1V452.4h-1V452.3h-1V454.4h-1V453.1h-1V454.9h-1V456.1h-1V454.9h-1V454.2h-1V454.4h-1V450.7h-1V455.9h-1V460.5h-1V459.3h-1V453.7h-1V452.5h-1V454.1h-1V454.2h-1V452.8h-1V454.1h-1V453.7h-1V456.7h-1V453.9h-1V452.9h-1V452.9h-1V452.6h-1V457.8h-1V453.6h-1V455.5h-1V477.9h-1V451.3h-1V454.1h-1V452.8h-1V454h-1V452h-1V450.9h-1V454.1h-1V453.3h-1V453.9h-1V454.5h-1V460.9h-1V455.4h-1V454.2h-1V460h-1V455.1h-1V452.2h-1V452.2h-1V452.3h-1V451.6h-1V452.2h-1V451.9h-1V453.5h-1V454.7h-1V453.5h-1V455.6h-1V458.6h-1V451.8h-1V456.3h-1V454.6h-1V455.2h-1V453.9h-1V453h-1V451.6h-1V455h-1V454.7h-1V456.7h-1V456.8h-1V455.4h-1V452.4h-1V451.4h-1V454.4h-1V451.8h-1V455h-1V456.3h-1V453h-1V455.1h-1V453.8h-1V455h-1V452.6h-1V452.9h-1V452.9h-1V454.2h-1V453.8h-1V463.6h-1V461h-1V454.5h-1V460.1h-1V455.4h-1V458.1h-1V463.4h-1V455.8h-1V468h-1V455.1h-1V463.9h-1V462.2h-1V456.6h-1V459.9h-1V457h-1V464.6h-1V460.6h-1V458.7h-1V463.3h-1V469.3h-1V452.5h-1V452.4h-1V452.8h-1V455.1h-1V457h-1V457.8h-1V457.8h-1V456.7h-1V452.3h-1V460.1h-1V456.1h-1V456.4h-1V455.1h-1V452.6h-1V452.7h-1V459.6h-1V463h-1V465.2h-1V460h-1V455.6h-1V463.6h-1V450.7h-1V458.4h-1V452.9h-1V454.9h-1V460.2h-1V452h-1V453.2h-1V454.8h-1V456.2h-1V454.2h-1V451.2h-1V453.8h-1V455.1h-1V451.7h-1V452.7h-1V451.3h-1V451.2h-1V454.1h-1V455.5h-1V455.4h-1V452.8h-1V453.4h-1V454.5h-1V451.8h-1V452.8h-1V451.5h-1V456.9h-1V458.9h-1V455.6h-1V451.5h-1V453.9h-1V453.8h-1V450.9h-1V454.7h-1V453.1h-1V452.1h-1V459h-1V459h-1V457.4h-1V455.4h-1V454.2h-1V454.6h-1V454.4h-1V452.3h-1V456.7h-1V456.6h-1V453.2h-1V453.9h-1V452.5h-1V455.2h-1V453.5h-1V454.1h-1V454h-1V451.1h-1V457.6h-1V452.9h-1V451.7h-1V451.3h-1V453.7h-1V454.5h-1V452.7h-1V453.7h-1V451.1h-1V459.7h-1V459.1h-1V452.4h-1V460.8h-1V453.9h-1V454h-1V453.1h-1V454.1h-1V458.5h-1V455.3h-1V454.3h-1V455.1h-1V453.1h-1V454.2h-1V459.2h-1V452.5h-1V454.5h-1V454.9h-1V455.2h-1V452h-1V457.2h-1V456.8h-1V456.8h-1V455.8h-1V462.6h-1V452.2h-1V453.6h-1V452.1h-1V457.6h-1V457.5h-1V464h-1V454.1h-1V456.5h-1V453.1h-1V453.5h-1V455.2h-1V456.3h-1V461.3h-1V452.3h-1V457.1h-1V469.1h-1V460.3h-1V454.3h-1V453.9h-1V455.9h-1V451.8h-1V456.6h-1V455.2h-1V457.4h-1V452.7h-1V453.7h-1V454.2h-1V452.5h-1V455.3h-1V454h-1V451.9h-1V452.3h-1V453.6h-1V454.1h-1V454.1h-1V452.2h-1V452.8h-1V452.8h-1V453h-1V454.6h-1V451.7h-1V452.7h-1V453h-1V451.4h-1V453.1h-1V456.9h-1V458.6h-1V451.8h-1V456h-1V454.7h-1V461.3h-1V455.5h-1V451.4h-1V452.1h-1V456.2h-1V453.4h-1V454.1h-1V454.6h-1V453.3h-1V453.4h-1V453h-1V452.6h-1V456.1h-1V452.2h-1V452.5h-1V454.4h-1V453.3h-1V453.3h-1V454.7h-1V454.7h-1V456.2h-1V455.7h-1V455.5h-1V456.2h-1V454.3h-1V456h-1V451.8h-1V454.4h-1V452h-1V452.9h-1V451.7h-1V452.5h-1V453.1h-1V453.8h-1V452.9h-1V453h-1V453h-1V454.5h-1V451.9h-1V452h-1V454.2h-1V451.2h-1V453.2h-1V453.8h-1V451.7h-1V452.4h-1V452.2h-1V454.5h-1V452.8h-1V451.8h-1V453.2h-1V451.3h-1V454.3h-1V456.6h-1V451.6h-1V451.2h-1V451.4h-1V452.8h-1V451.8h-1V453.1h-1V453h-1V453.8h-1V454.3h-1V451.5h-1V451.6h-1V452h-1V454.1h-1V454h-1V453h-1V452.6h-1V457.7h-1V451.2h-1V452.8h-1V452.1h-1V452.9h-1V453.5h-1V452.8h-1V453.2h-1V453.2h-1V453.6h-1V454.8h-1V451.3h-1V456.2h-1V456.3h-1V457.1h-1V452.8h-1V452.6h-1V452.3h-1V456.7h-1V452.9h-1V451.3h-1V453.7h-1V461.8h-1V458.6h-1V454.9h-1V455.3h-1V454.5h-1V457.3h-1V453.9h-1V455.2h-1V455.9h-1V453.7h-1V452.8h-1V451h-1V454.3h-1V454.5h-1V454.9h-1V454.6h-1V452.5h-1V454.7h-1V453.3h-1V452.9h-1V454.6h-1V452.2h-1V452.9h-1V452.7h-1V454.7h-1V457.2h-1V455.3h-1V452.7h-1V454.2h-1V453.4h-1V456.3h-1V452.6h-1V451.2h-1V455.2h-1V452h-1V458.2h-1V454.5h-1V452.5h-1V451.9h-1V459.9h-1V458.9h-1V452.3h-1V454.1h-1V451.9h-1V453h-1V452.4h-1V451.9h-1V451.7h-1V451.7h-1V451.2h-1V455.2h-1V455.5h-1V453.1h-1V452.9h-1V455.6h-1V457.4h-1V453.4h-1V452.3h-1V455.3h-1V451.7h-1V451.9h-1V452.5h-1V452.2h-1V452.7h-1V452.6h-1V453.4h-1V452.3h-1V452h-1V451.4h-1V452.8h-1V453.5h-1V451.1h-1V454.2h-1V453.7h-1V453h-1V453h-1V452.5h-1V457.4h-1V457.4h-1V453.6h-1V455.7h-1V451.6h-1V452.8h-1V454h-1V452h-1V453.2h-1V451.6h-1V452.2h-1V452h-1V454.6h-1V451.7h-1V453.6h-1V450.6h-1V452.1h-1V453.1h-1V454.3h-1V453.6h-1V458.7h-1V453.2h-1V455.5h-1V457.8h-1V460.8h-1V453.4h-1V451h-1V455.4h-1V453h-1V452.5h-1V454h-1V452.5h-1V454.5h-1V457h-1V454.7h-1V454.8h-1V454.3h-1V450.4h-1V453h-1V452.4h-1V453.9h-1V454.6h-1V452.5h-1V453.4h-1V451.4h-1V452.2h-1V452.3h-1V452.2h-1V453h-1V453.5h-1V454.9h-1V453.3h-1V453.7h-1V456.5h-1V459.3h-1V458.4h-1V454.8h-1V454.2h-1V458.5h-1V451h-1V451.6h-1V455.9h-1V452.9h-1V454.2h-1V454.2h-1V473.9h-1V456.2h-1V461.8h-1V464.2h-1V458.5h-1V457.9h-1V459.5h-1V465.5h-1V459.1h-1V455h-1V453h-1V451.6h-1V451.7h-1V453.5h-1V455.6h-1V456.9h-1V453.4h-1V461h-1V454.9h-1V454.3h-1V464.4h-1V455.5h-1V461.6h-1V454h-1V461.1h-1V457.9h-1V453.4h-1V457.2h-1V454.7h-1V456.5h-1V455h-1V454.2h-1V457.3h-1V453.2h-1V454.6h-1V452.2h-1V454.1h-1V453.4h-1V454.7h-1V456h-1V457.3h-1V460.5h-1V456.9h-1V453h-1V455.6h-1V452.4h-1V457.2h-1V454.8h-1V455h-1V458.4h-1V453.9h-1V452.1h-1V454.7h-1V452.3h-1V458.1h-1V458.7h-1V461.8h-1V461.2h-1V459.5h-1V452.4h-1V452.6h-1V459.5h-1V468h-1V455.7h-1V461.3h-1V451.5h-1V455.9h-1V455.9h-1V453.1h-1V456.5h-1V454.3h-1V463.3h-1V458.6h-1V461.5h-1V457.4h-1V451.5h-1V459.1h-1V466.3h-1V451.1h-1V452h-1V453.8h-1V456.8h-1V462.4h-1V456h-1V455.7h-1V460.3h-1V475.3h-1V458.9h-1V458.2h-1V451.9h-1V454.5h-1V456.5h-1V452.7h-1V452.4h-1V459.4h-1V457.8h-1V452.6h-1V454.8h-1V454.6h-1V452.4h-1V455.6h-1V460h-1V469.3h-1V469.3h-1V463.2h-1V456.2h-1V460h-1V470.4h-1V453.3h-1V453.5h-1V456.5h-1V458.5h-1V453.9h-1V464h-1V463.3h-1V454.7h-1V467.1h-1V451.9h-1V482.6h-1V454.3h-1V452.4h-1V454.7h-1V456.2h-1V455.6h-1V455.4h-1V454.6h-1V463.8h-1V463.8h-1V455.8h-1V468.8h-1V459.2h-1V453.2h-1V466h-1V461.4h-1V471.1h-1V471.1h-1V466.3h-1V454.9h-1V466.5h-1V457.6h-1V469.7h-1V461.9h-1V460.5h-1V457.8h-1V471.1h-1V460h-1V465h-1V457.8h-1V459.6h-1V460.4h-1V454h-1V451.2h-1V455.7h-1V452.1h-1V454.9h-1V456.3h-1V459.3h-1V454.7h-1V454.7h-1V453.3h-1V456.1h-1V459.3h-1V455.8h-1V456h-1V465.6h-1V462.3h-1V462.9h-1V464.6h-1V460h-1V455.4h-1V457.4h-1V452.3h-1V453.1h-1V451.7h-1V452h-1V451.4h-1V454.9h-1V453h-1V450.8h-1V455.4h-1V453.1h-1V452.8h-1V456.3h-1V456.6h-1V454.3h-1V461.2h-1V452.2h-1V451.1h-1V453.2h-1V455.9h-1V451.6h-1V454.4h-1V452.3h-1V455.7h-1V452.2h-1V464.7h-1V465h-1V453.9h-1V455.7h-1V451.3h-1V466h-1V455.7h-1V454.4h-1V454h-1V454.7h-1V457.5h-1V452.5h-1V456.4h-1V454.7h-1V452.6h-1V458.4h-1V454.9h-1V456h-1V454.1h-1V458h-1V457.2h-1V461.5h-1V455.3h-1V453.8h-1V464h-1V463.3h-1V452.2h-1V453.3h-1V455.8h-1V458.9h-1V458h-1V451.8h-1V460h-1V454.1h-1V452.9h-1V454.1h-1V453.3h-1V453.3h-1V452h-1V452.8h-1V453.9h-1V455.4h-1V452.8h-1V452.2h-1V455.3h-1V451.6h-1V452.1h-1V452.1h-1V452.6h-1V452.3h-1V450.2h-1V454.3h-1V452.3h-1V452.8h-1V451.6h-1V451.9h-1V452.5h-1V457.7h-1V451.6h-1V451.9h-1V452h-1V451.8h-1V450.5h-1V451.5h-1V451.2h-1V455.1h-1V455.1h-1V454.1h-1V452.5h-1V452h-1V452h-1V454.9h-1V458h-1V452.5h-1V458.1h-1V452h-1V452.8h-1V452.4h-1V458h-1V453.3h-1V454.7h-1V451h-1V451h-1V453.2h-1V452.2h-1V454.6h-1V454.7h-1V454.8h-1V455.6h-1V452.4h-1V457.3h-1V451.1h-1V452.1h-1V451.6h-1V451.5h-1V451.5h-1V454.6h-1V452.6h-1V452.2h-1V453h-1V451h-1V453.6h-1V452.3h-1V453.1h-1V457.4h-1V453.9h-1V451.7h-1V451.8h-1V452.5h-1V452h-1V452.9h-1V453.3h-1V455.2h-1V452.1h-1V454h-1V456.8h-1V453.6h-1V454.4h-1V450.8h-1V451.2h-1V453.7h-1V451.6h-1V450.2h-1V453.3h-1V452.4h-1V451.8h-1V452.2h-1V451.7h-1V452.8h-1V455.4h-1V454h-1V451h-1V451.6h-1V454.1h-1V453.6h-1V455.8h-1V453.8h-1V455.9h-1V454.7h-1V454.3h-1V453h-1V460h-1V458.3h-1V452.9h-1V452.7h-1V454.5h-1V455.1h-1V452h-1V451.9h-1V457.5h-1V457.4h-1V453.9h-1V452.6h-1V457.6h-1V454.6h-1V455.6h-1V457.1h-1V456.2h-1V452.1h-1V454.9h-1V454.9h-1V459.1h-1V451.5h-1V455.1h-1V453h-1V456.8h-1V452.1h-1V451.6h-1V461.7h-1V452.6h-1V452.3h-1V455.6h-1V453.3h-1V453.8h-1V452.7h-1V453.5h-1V456h-1V462.5h-1V459.9h-1V459.1h-1V461.9h-1V463.2h-1V456.6h-1V457.9h-1V456.1h-1V457.4h-1V457.1h-1V452.3h-1V452.8h-1V455.6h-1V452.6h-1V452.9h-1V453h-1V456.6h-1V450.5h-1V456.6h-1V454h-1V454h-1V453.2h-1V461.1h-1V458.6h-1V453.3h-1V451.8h-1V453.5h-1V454h-1V462.4h-1V459.4h-1V458.8h-1V457.6h-1V453.7h-1V453.3h-1V451.1h-1V459.7h-1V454.2h-1V453.5h-1V451.2h-1V454.3h-1V454.8h-1V451.5h-1V454.7h-1V454.8h-1V453.4h-1V455.1h-1V453.6h-1V452.3h-1V459h-1V459h-1V457.2h-1V452.3h-1V455.5h-1V457h-1V453.7h-1V453.9h-1V452.8h-1V463.2h-1V451.7h-1V455.9h-1V456.8h-1V453.2h-1V454.2h-1V452.5h-1V455.9h-1V455.8h-1V454h-1V455.1h-1V454.5h-1V460.3h-1V452.5h-1V461.4h-1V463.3h-1V452.3h-1V453.7h-1V456.4h-1V462h-1V454.7h-1V452.8h-1V454h-1V453.6h-1V454.6h-1V455.7h-1V459.5h-1V457.4h-1V458.6h-1V452.4h-1V453h-1V463.8h-1V454.1h-1V506.6h-1V526h-1V457h-1V457.3h-1V461h-1V461.8h-1V452.7h-1V453.4h-1V457.9h-1V456h-1V454.4h-1V455h-1V455.4h-1V454.9h-1V454.9h-1V459.9h-1V454.8h-1V454.2h-1V454.9h-1V453.7h-1V454.8h-1V452.5h-1V455.6h-1V454.3h-1V454.6h-1V454.9h-1V455.3h-1V454.4h-1V456.1h-1V451.7h-1V463.1h-1V457.5h-1V452.1h-1V452.9h-1z" fill="#0000ff"/>
</g>
<text x="9.2" y="433.5" text-anchor="middle" font-size="12.35" font-weight="bold" transform="rotate(-90 9.2 433.5)">Y (nT)</text>
<rect x="836.0" y="331.0" width="603.8" height="205.0" fill="#00008f"/>
<g clip-path="url(#cr1)">
<use href="#sg1" filter="url(#glow)"/>
<g id="sg1" filter="url(#b)">
<path d="M847.1 330.1l-.2 45.2-1.3 117.8 .1 10 .7 11.1 0 1 .1-1 .6-9.1 .5-13 1.2-43.3 .7-71.5-.2-47.2zM837.6 473.8l0 1-.8 16.4-.3 47.3 2.2 0-.3-47.3-.8-16.4zM857.9 330.1l.9 74.6-1.3 68.6 .3 11 0 1 0-1 1.4-34.2 1.2-49.5 0-14.1-1.1-56.4zM876.8 359.9l0 1-.2 17.2 .7 94.1 .2 7.1 .5 8.1 .1 1 0-1 .5-8.1 .1-8.1-1.1-93.1-.7-17.2zM878.1 487.9l-.2 1-1.1 9.3-.5 6.2-.6 16.5-.3 17.6 5.3 0-.3-17.6-.6-16.5-.5-6.2-1.1-9.3zM873 425.2l0 1-.4 18.2 .4 54.6 .5 13.2 0 1 0-1 .4-14.2-.5-56.7-.4-15.1zM883.9 330.1l0 32 .4 15.4 .1 1 0-1 .4-15.4 0-32zM925.8 330.1l.3 54.4 .2 11.2 .1 1 0-1 .2-11.2-.2-54.4zM934.6 330.1l.2 44.2 .4 13.4 0 1 0-1 .4-13.4-.2-44.2zM938.8 330.1l-.6 95.6-1.8 112.8 2.1 0-.1-53.4 .4-57.4 .6-52.3 .3-45.3zM942.1 330.1l0 44.2 .4 13.4 0 1 .1-1 .3-13.4 .1-44.2zM950.4 407l-.1 1-.7 17.2-2.3 113.3 2.1 0 1.7-114.4-.2-7-.5-9.1zM951.9 490l-.1 1-.8 16.5-.1 31 2 0-.1-31-.8-16.5zM959.4 330.1l.1 93 .4 11.2 .1 1 .1-1 .4-10.2 .4-36.4 .2-32.4 0-25.2zM969.1 330.1l-1.1 154-.7 24.2-.2 30.2 3 0-.3-53.4 .2-80.5 .4-29.2 .2-45.3zM964 509.2l0 1-.7 12.6-.1 15.7 1.7 0-.1-15.7-.7-12.6zM980 330.1l0 24.2 .4 11.6 .1 1 0-1 .4-11.6 0-24.2zM984.5 330.1l0 66.5 .2 10.3 .1 1 0-1 .2-10.3 .1-66.5zM983.5 330.1l0 92.4 .3 12.2 0 1 0-1 .3-12.2 0-92.4zM991.4 330.1l.8 208.4 .9 0-.7-208.4zM997.7 330.1l.2 44.3-.2 101.7-.5 62.4 5 0-.3-36.3-1.1-51.3-.6-60.4-.7-18.1-.7-42.3zM1004.5 472.7l-.1 1-1.2 11.3-.5 6.2-.5 47.3 4.7 0-.6-47.3-.4-6.2-1.3-11.3zM1013.1 330.1l-.3 151.8 .1 10.1 .7 12.1 0 1 .1-1 .7-12.1 .1-10.1-.4-151.8zM1038.2 447.4l-.1 1-.3 18.2-.1 71.9 1 0-.1-71.9-.4-18.2zM1047.8 408.5l-.1 1-.3 19.1-.2 109.9 1.1 0-.1-109.9-.4-19.1zM1063 374.6l-.1 1-.3 18.2-.2 144.7 1.1 0-.2-144.7-.3-18.2zM1078.6 405.5l-.1 1-.7 10.1-.3 7.1-.2 61 .2 8.2 1.1 11.1 0 1 .1-1 1.1-11.1 .2-8.2-.3-61-.2-7.1-.8-10.1zM1080.9 330.1l.2 13.8 .1 1 0-1 .2-13.8zM1086.3 384.2l-.1 1-.7 12.1 .2 26.2-.3 17.2-.4 97.8 5.5 0-.3-35.3-1.1-62.5-.9-17.2-.7-26.2-1.1-12.1zM1091.8 443.4l-.1 1-.6 10.1-.2 7.1-.1 76.9 2.4 0-.5-76.9-.8-17.2zM1093.8 330.1l-.1 120.9 .1 8.1 .4 7 .1 1 .1-1 .4-7 .1-8.1-.1-120.9zM1096.3 462.6l0 1-.6 8.2-.3 7.2-.3 59.5 2.4 0-.2-59.5-.3-7.2-.6-8.2zM1102.7 477.8l-.1 1-1.3 11.3-.5 6.2-.5 42.2 4.7 0-.5-42.2-.4-6.2-1.4-11.3zM1122.4 330.1l0 32 .4 15.4 .1 1 0-1 .5-15.4 0-32zM1122.9 462.6l-.1 1-1.5 11.3-.5 6.2-.9 57.4 6 0-.9-57.4-.5-6.2-1.5-11.3zM1129.8 330.1l.2 47.5 .3 34.4 .2 14.2 .4 8.1 .1 1 .1-1 .3-6.1 .1-6.1 0-47.5-.3-44.5zM1134 330.1l.9 47.2 .7 11.3 1 10.2 .1 1 .1-1 .2-6.1 0-7.2-1.4-55.4zM1134.7 330.1l.4 47.5 1.5 34.4 1.3 16.2 .1 1 .1-1 .3-15.2-1.3-38.4-.7-44.5zM1151 330.1l.4 44.5 .7 26.3-.4 34.4 .5 10.1 .1 1 0-1 .6-11.1 .4-32.4-.7-28.3-.6-43.5zM1151.7 439.8l-.1 1-1.4 13.3-.3 7.1-.4 19.3-.4 58 4.8 0 0-14.2-.5-52.9-.4-16.3-1.2-14.3zM1145.7 461.1l-.1 1-.6 10.2-.2 7.1-.3 59.1 2.4 0-.3-59.1-.2-7.1-.6-10.2zM1182.4 408l-.1 1-.8 21.3-.4 71.1 .2 23.4 .3 4 .6 5.1 .2 1 .1-1 .6-5.1 .3-4 .2-23.4-.4-71.1-.8-21.3zM1186.1 384.8l0 1-.3 11.3 0 23.7 .3 12.4 0 1 .1-1 .3-12.4-.1-23.7-.2-11.3zM1204.6 496.1l0 1-.4 11.4-.1 30 1 0-.1-30-.3-11.4zM1213.5 495.1l-.1 1-.5 12.4-.1 30 1.3 0-.1-30-.5-12.4zM1255.2 330.1l-.7 110.7-.4 36.3-1.2 61.4 2.1 0 1.3-60.4 .5-38.3-.6-109.7zM1260.7 330.1l-.1 142.1 .3 8.1 1.1 9.1 1.1-9.1 .2-6-1.4-144.2zM1262 466.7l-.1 1-1.5 10.2-.3 5.2-.2 55.4 5.8 0-1.2-55.4-.5-5.2-1.9-10.2zM1251.9 461.1l-.1 1-.5 9.2-.3 8.1-.2 59.1 2.2 0-.2-59.1-.3-8.1-.5-9.2zM1272.9 394.3l0 1-.7 15.3-.1 50.9 .1 8.1 .6 9.2 .1 1 .1-1 .6-9.2 .1-8.1-.1-50.9-.7-15.3zM1276.7 447.4l-.2 1-1.7 10.1-.5 6.1-1.2 36.5-.6 37.4 8.4 0-.7-37.4-1.1-36.5-.6-6.1-1.6-10.1zM1280.8 368l-.1 1-.4 13.1 0 33.3 .4 36.3 1.4 86.8 2.8 0-2-85.8-1.1-67.6-1-16.1zM1288.8 380.7l-.1 1-.6 9.1-.2 6 .6 141.7 3.1 0-1.8-141.7-.2-6-.7-9.1zM1289.3 351.3l0 1-.5 7-.2 9.1-.9 170.1 3.7 0-.8-137.9-.6-34.2-.7-14.1zM1294.4 400.9l-.1 1-.7 9.1-.4 7.1-.4 71.2 .3 17.2 .5 5.1 .9 7.1 .1 1 .1-1 .9-7.1 .5-5.1 .3-19.3-.2-39.6-.6-25.4-.3-9.1-.9-11.2zM1302.2 434.3l0 1-.5 18.2-.2 85 1.4 0-.2-85-.5-18.2zM1309.8 372.6l-.1 1-.5 16.1-.7 57.7 .1 6.1 .6 7.1 .1 1 .1-1 .6-8.1 .1-7.1 .2-55.7-.5-16.1zM1308.7 446.4l0 1-1.7 12.2-.4 7.1-.7 53 .1 6.1 .5 9.1 3.5 0 .7-14.2-.3-54-.3-7.1-1.3-12.2zM1325.5 350.3l-.1 1-.2 14.2-.1 54.6 .3 13.1 .1 1 0-1 .3-13.1 0-54.6-.3-14.2zM1332.3 483.9l-.1 1-.7 14.4-.1 39.2 1.8 0-.1-39.2-.7-14.4zM1337.4 436.4l-.1 1-.4 16.4 0 42 .1 7.1 .3 6.2 .1 1 0-1 .3-6.2 .1-7.1 0-42-.4-16.4zM1349.2 330.1l-.2 92.6-.9 115.8 4.3 0-1.6-208.4zM1354.8 330.1l.2 93.6 .2 29.2-.6 85.6 4 0-.7-84.6-.7-30.2-.9-93.6zM1360.9 423.1l-.1 1-.5 16.2-.1 55.7 .1 7 .5 7.1 .1 1 .1-1 .5-7.1 .1-7-.1-55.7-.6-16.2zM1365.7 330.1l-.3 103.1 .2 10.2 .8 12.1 0 1 .1-1 .7-12.1 .2-10.2-.3-103.1zM1368.5 461.7l-.1 1-.4 16.4-.1 59.4 1.1 0-.1-59.4-.4-16.4zM1372.3 461.7l-.1 1-.4 16.4-.1 59.4 1.1 0-.1-59.4-.4-16.4zM1374.8 374.6l-.1 1-.3 15.2 0 54.6 .3 13.1 .1 1 0-1 .4-13.1-.1-54.6-.3-15.2zM1418.3 347.3l-.1 1-.4 16.2-.2 38.4 .1 34.4 .6 12.1 0 1 0-1 .5-12.1 .1-34.4-.1-38.4-.5-16.2zM1414 494l-.1 1-.7 13.5-.1 30 1.8 0-.1-30-.7-13.5zM1406.4 475.8l0 1-.4 16.3 0 21.5 .3 7.1 .1 1 .1-1 .3-7.1 0-21.5-.4-16.3zM1426.1 450.5l0 1-.4 12.4 0 31.8 .1 7.2 .3 6.2 0 1 .1-1 .3-6.2 .1-7.2-.1-31.8-.3-12.4zM946.7 330.1l-.4 76.3 0 1 0-1 .8-76.3zM1074.8 367.9l-.1 1-.6 13.3-.5 19.5 0 17.4 .1 1 0-1 .8-17.4 .4-19.5-.1-13.3zM1134.4 442l-.1 1-.2 39.6 .2 55.9 1.5 0-.6-55.9-.8-39.6zM1290.9 330.1l.4 59.8 .7 41.6 0 1 0-1 .2-41.6-.4-59.8zM983.1 330.1l.2 57.2 0 1 .1-1 .4-57.2zM998.6 421.4l-.1 1-.6 20.4-.3 29.5 0 9.2 .3 15.2 .1 1 0-1 .6-15.2 .2-9.2 .1-29.5-.3-20.4zM1108 442.3l0 1-.7 17.3-.1 26.4 .1 9.2 .6 13.2 .1 1 .1-1 .5-13.2 .1-9.2 0-26.4-.6-17.3zM1345 471.6l0 1 .2 65.9 1 0-1.2-65.9zM1002.9 426.8l0 1-.2 20.4 .3 32.6 .6 23.5 .1 1 0-1 .2-23.5-.4-32.6-.5-20.4zM1323.9 374.4l0 1-.1 19.3 .3 29.4 .7 23.4 0 1 .1-1 0-23.4-.4-29.4-.5-19.3zM1332.9 330.1l.5 57 .1 1 0-1 0-57zM1347.4 330.1l0 89.4 0 1 .1-1 .5-89.4zM1157.4 463.6l0 1 .5 73.9 1.1 0-.8-45.6-.8-28.3zM1322.3 330.1l-.6 52.6 0 36.4 0 1 0-1 .9-36.4 .7-52.6zM942.9 467l0 1-.1 27.6 .2 42.9 1.1 0-.6-42.9-.6-27.6zM1257.8 488.3l0 1-.8 18.4-.7 30.8 1.5 0 .2-30.8-.1-18.4zM1331.3 464l0 1-.3 29.6 .1 43.9 1.6 0-.6-43.9-.7-29.6zM1250 428.9l0 1-.5 14.3-.2 21.6 .2 18.4 0 1 0-1 .6-18.4 .1-21.6-.1-14.3zM1305.7 456.7l0 1-.9 80.8 1.1 0-.2-80.8zM1356.1 494.3l0 1-.7 43.2 .9 0-.1-43.2zM1011.2 330.1l.6 51.4 .1 1 0-1-.1-51.4zM1142.6 330.1l-.3 42.2 0 1 0-1 .8-42.2z" fill="#0000c8"/>
<path d="M847.2 330.1l-.2 45.2-1.1 106.7 0 18.1 .4 9.1 .1 1 .1-1 .6-9.1 .7-20.1 .9-34.2 .7-68.5-.2-47.2zM837.6 478.9l-.1 1-.5 12.3-.3 46.3 1.7 0-.2-46.3-.5-12.3zM858 330.1l1 75.6-1.2 70.6 .1 1 0-1 1.2-28.3 1.2-51.4 0-11.1-1.2-55.4zM876.9 364l-.1 1-.1 14.1 .7 92.1 .2 7.1 .4 6 .1 1 0-1 .4-6 0-7.1-1-92.1-.6-14.1zM878.1 491l-.1 1-1 7.3-.5 6.2-.5 16.5-.3 16.5 4.7 0-.3-16.5-.5-16.5-.5-6.2-1-7.3zM873 432.2l-.1 1-.1 12.2 .4 52.6 .3 8.1 0 1 0-1 .2-10.1-.7-62.8zM884 330.1l0 32 .3 11.3 .1 1 0-1 .3-11.3 0-32zM926 330.1l.3 59.5 .1 1 0-1-.1-59.5zM934.7 330.1l.2 43.2 .2 9.2 .1 1 .1-1 .2-10.3-.2-42.1zM938.9 330.1l-.6 95.6-1.6 112.8 1.6 0-.1-53.4 .5-57.4 .6-52.3 .3-45.3zM942.2 330.1l.1 42.1 .2 10.3 0 1 .1-1 .2-10.3 .1-42.1zM950.4 411l-.1 1-.6 15.2-2.1 111.3 1.6 0 1.7-113.3-.1-6.1-.3-7.1zM951.9 495.2l-.1 1-.5 12.3-.2 30 1.6 0-.2-30-.5-12.3zM959.5 330.1l.1 92 .3 9.1 .1 1 .1-1 .3-8.1 .4-36.4 .3-31.4-.1-25.2zM969.2 330.1l-1 155-.7 23.2-.2 30.2 2.6 0-.3-53.4 .3-80.5 .4-29.2 .2-45.3zM964 513.4l0 1-.5 8.4-.1 15.7 1.3 0-.1-15.7-.5-8.4zM980.1 330.1l0 23.1 .3 9.5 .1 1 0-1 .3-9.5 .1-23.1zM984.6 330.1l.2 71.7 0 1 0-1 .2-71.7zM983.6 330.1l.1 98.5 .1 1 0-1 .2-98.5zM991.5 330.1l.9 208.4 .5 0-.6-208.4zM997.8 330.1l.3 43.3-.2 102.7-.4 62.4 4.5 0-.3-36.3-1.1-51.3-.6-60.4-.7-18.1-.7-42.3zM1004.5 476.9l-.2 1-.9 8.2-.4 6.1-.5 46.3 4.1 0-.5-46.3-.4-6.1-1-8.2zM1013.2 330.1l-.3 132.7 .1 25.2 .5 12.1 .1 1 .1-1 .6-12.1 .1-25.2-.4-132.7zM1038.2 455.5l-.1 1-.2 11.2 .1 70.8 .4 0 0-70.8-.2-11.2zM1047.8 415.5l-.1 1-.2 13.1 0 108.9 .6 0 0-108.9-.3-13.1zM1063 380.7l-.1 1-.2 13.1 0 143.7 .6 0-.1-143.7-.2-13.1zM1078.6 409.5l-.1 1-.5 7.1-.2 6.1-.2 60 .1 7.1 .8 8.2 .1 1 .2-1 .7-8.2 .2-7.1-.2-60-.2-6.1-.6-7.1zM1081 330.1l.1 6.3 .1 1 0-1 .1-6.3zM1086.3 387.2l-.1 1-.5 10.1 .2 25.2-.3 17.2-.4 97.8 5 0-.2-35.3-1.1-62.5-.9-17.2-.8-26.2-.8-9.1zM1091.8 446.4l-.1 1-.5 8.1-.2 7.1 .1 75.9 1.9 0-.5-75.9-.2-7.1-.5-8.1zM1093.9 330.1l0 119.9 0 7.1 .4 6 0 1 .1-1 .3-6 .1-7.1-.1-119.9zM1096.3 466.7l-.1 1-.4 6.2-.2 6.1-.2 58.5 1.9 0-.2-58.5-.2-6.1-.5-6.2zM1102.7 481.9l-.2 1-.9 7.2-.5 6.2-.5 42.2 4.1 0-.5-42.2-.5-6.2-.8-7.2zM1122.5 330.1l0 30.9 .3 12.4 .1 1 .1-1 .3-12.4 0-30.9zM1122.9 466.7l-.2 1-1.1 8.2-.5 6.2-.8 56.4 5.1 0-.7-56.4-.5-6.2-1.1-8.2zM1129.9 330.1l.2 54.6 .4 38.4 .4 8.1 .1 1 .1-1 .3-8.1 0-47.5-.3-45.5zM1134.1 330.1l.9 46.1 .7 12.4 .9 8.2 0 1 .1-1 .2-4.1 0-7.2-1.4-55.4zM1134.8 330.1l.5 46.5 1.5 34.4 1 13.1 .1 1 .1-1 .2-12.1-1.2-37.4-.7-44.5zM1151.1 330.1l.4 44.5 .7 26.3-.4 32.3 .4 9.1 .1 1 0-1 .5-9.1 .4-31.3-.8-28.3-.5-43.5zM1151.7 442.9l-.2 1-1.2 11.2-.3 9.1-.7 58 0 16.3 4.4 0 0-14.2-.5-49.9-.5-19.3-.9-11.2zM1145.7 465.2l-.1 1-.6 13.2-.3 59.1 1.9 0-.2-59.1-.6-13.2zM1182.4 412l-.1 1-.6 13.2-.2 17.3-.2 55.9 .3 24.3 .6 7.2 .2 1 .2-1 .5-7.2 .3-24.3-.2-55.9-.2-17.3-.6-13.2zM1186.1 391l0 1-.1 25.7 .1 10.3 0 1 .1-1 .1-10.3-.1-25.7zM1204.6 502.3l0 1-.2 7.3 0 27.9 .4 0 0-27.9-.2-7.3zM1213.5 500.2l-.1 1-.3 8.3 0 29 .7 0 0-29-.3-8.3zM1255.3 330.1l-.6 110.7-1.5 97.7 1.6 0 1.3-60.4 .6-39.3-.6-108.7zM1260.8 330.1l0 141.1 .2 8.1 .9 7.1 .1 1 .2-1 .8-7.1 .2-6-1.4-143.2zM1262.1 469.7l-.2 1-1.3 8.2-.3 5.2-.1 54.4 5.1 0-1.1-54.4-.4-5.2-1.5-8.2zM1251.9 465.2l-.1 1-.6 13.2-.2 59.1 1.8 0-.2-59.1-.6-13.2zM1272.9 398.4l-.1 1-.5 12.2-.1 49.9 .2 7.1 .4 7.1 .1 1 0-1 .5-7.1 .1-7.1 0-49.9-.5-12.2zM1276.7 450.5l-.2 1-1.4 8.1-.5 6-1.2 35.5-.6 37.4 7.7 0-.6-37.4-1.1-35.5-.5-6-1.4-8.1zM1280.8 370l0 1-.4 12.1 0 33.3 .4 35.3 1.5 86.8 2.4 0-2-85.8-1-67.6-.3-6-.6-8.1zM1288.8 382.7l-.1 1-.5 7.1-.1 6 .6 141.7 2.7 0-1.7-141.7-.2-6-.6-7.1zM1289.3 355.3l-.1 1-.5 13.1-.8 169.1 3.3 0-.7-136.9-.6-34.2-.5-11.1zM1294.4 403.9l-.1 1-.7 8.2-.2 6.1-.4 69 .4 18.3 1.1 9.2 .1 1 .1-1 .8-5.1 .4-5.1 .3-19.3-.3-44.7-.6-25.4-.9-11.2zM1302.2 440.3l-.1 1-.3 13.2-.1 84 .9 0 0-84-.4-13.2zM1309.8 375.6l0 1-.5 14.2-.6 56.6 .1 6.1 .4 5 .1 1 0-1 .5-6 .2-7.1 .2-54.6-.4-14.2zM1308.7 449.5l0 1-1.5 10.1-.4 7.2-.6 51.9 .1 6.1 .6 9.1 2.7 0 .8-14.2-.2-52.9-.3-7.2-1.1-10.1zM1325.5 356.4l-.1 1-.1 14.1 .1 56.7 .1 1 0-1 .1-56.7-.1-14.1zM1332.3 487l0 1-.6 11.3-.1 39.2 1.4 0-.1-39.2-.6-11.3zM1337.4 443.5l-.1 1-.2 13.4 0 38.9 .2 7.2 .1 1 0-1 .2-7.2 0-38.9-.2-13.4zM1349.3 330.1l-.1 92.6-.8 115.8 3.7 0-1.4-208.4zM1354.9 330.1l.2 93.6 .3 29.2-.3 59.4-.3 26.2 3.5 0-.5-84.6-.8-30.2-.8-93.6zM1360.9 427.2l-.1 1-.4 13.1-.1 53.7 .1 7 .4 5.1 .1 1 .1-1 .3-5.1 .1-7-.1-53.7-.4-13.1zM1365.8 330.1l-.3 97.1 .2 15.1 .7 10.2 0 1 .1-1 .7-10.2 .2-15.1-.3-97.1zM1368.5 467.8l-.1 1-.2 11.3 0 58.4 .6 0-.1-58.4-.2-11.3zM1372.3 467.8l-.1 1-.2 11.3 0 58.4 .6 0-.1-58.4-.2-11.3zM1374.8 380.7l-.1 1-.1 10.1 0 51.6 .1 11.1 .1 1 0-1 .2-11.1 0-51.6-.2-10.1zM1418.3 351.3l-.1 1-.3 12.2-.1 37.4 .1 34.4 .3 9.1 .1 1 .1-1 .3-9.1 .1-34.4-.1-37.4-.4-12.2zM1414 497.1l0 1-.6 11.4-.1 29 1.3 0 0-29-.6-11.4zM1406.4 484l-.1 1 0 31.6 .1 1 0-1 .1-31.6zM1426.1 455.7l0 1-.2 11.3 0 29.8 .2 6.1 0 1 .1-1 .1-6.1 .1-29.8-.3-11.3zM946.8 330.1l-.1 26.4 0 1 0-1 .3-26.4zM1074.6 374l0 1-.8 25.6 0 12.3 0 1 0-1 .5-12.3 .4-25.6zM1134.5 464.3l0 1-.1 19.3 .2 53.9 .9 0-.6-53.9-.4-19.3zM1291 330.1l.5 57.8 .3 22.3 .1 1 0-1 .1-22.3-.3-57.8zM983.2 330.1l.1 37.8 .1 1 0-1 .2-37.8zM998.5 430.6l-.1 1-.4 12.2-.2 27.5 .2 16.3 0 1 .1-1 .4-16.3 .2-27.5-.2-12.2zM1108 450.4l-.1 1-.3 11.2-.1 23.4 .1 8.1 .3 7.2 .1 1 0-1 .4-7.2 0-8.1 0-23.4-.3-11.2zM1345.5 516.2l0 1 .1 21.3 .2 0-.3-21.3zM1003.1 439.1l-.1 1 0 13.2 .5 37.7 0 1 .1-1-.2-37.7-.3-13.2zM1324 383.5l0 1 0 11.2 .3 26.4 .4 15.2 0 1 0-1 0-15.2-.3-26.4-.3-11.2zM1333.1 330.1l.2 18.3 0 1 0-1 0-18.3zM1347.6 330.1l0 46.7 0 1 0-1 .3-46.7zM1157.8 489.9l0 1 .4 47.6 .5 0-.9-47.6zM1322.4 330.1l-.5 50.6 0 19.2 0 1 .1-1 .4-19.2 .7-50.6zM943.1 488.4l0 1 .2 49.1 .5 0-.7-49.1zM1257.6 505.7l-.1 1-.8 31.8 .7 0 .2-31.8zM1331.5 483.4l0 1 0 54.1 .9 0-.5-41.9-.3-12.2zM1249.9 437.1l0 1-.3 12.3-.1 24.6 .1 1 0-1 .4-24.6 0-12.3zM1305.4 528.4l0 1-.1 9.1 .1 0 0-9.1zM1011.3 330.1l.4 33.9 0 1 .1-1-.1-33.9zM1142.7 330.1l-.1 18.5 0 1 0-1 .3-18.5z" fill="#0008ff"/>
<path d="M847.3 330.1l-.2 45.2-1 103.7 .1 19.1 .2 6 0 1 .1-1 1.3-28.1 .9-37.3 .6-61.4-.1-47.2zM837.6 484l-.1 1-.3 8.3-.1 45.2 1 0-.2-45.2-.2-8.3zM858.2 330.1l.9 74.6-.7 53.4 0 1 0-1 1.5-47.4 .3-19.1-1.2-61.5zM876.9 368l0 1-.1 11.1 .8 90.1 .4 10.1 .1 1 0-1 .2-10.1-1-90.1-.3-11.1zM878.1 495.2l-.2 1-.7 5.1-.4 6.2-.7 31 3.9 0-.7-31-.4-6.2-.7-5.1zM884.1 330.1l.2 38.2 .1 1 0-1 .2-38.2zM934.8 330.1l.4 48.3 0 1 0-1-.1-48.3zM939 330.1l-.4 80.5 .1 1 0-1 .5-35.2 .3-45.3zM938.2 447.9l0 1-1.3 89.6 1.2 0-.1-48.3 .2-41.3zM942.3 330.1l.2 48.3 0 1 .1-1 .1-48.3zM950.4 414l0 1-.5 9.1-1 49.6-1 64.8 .9 0 1.9-112.3 0-6.1-.3-5.1zM951.9 501.4l-.1 1-.3 8.2 0 27.9 .8 0 0-27.9-.3-8.2zM959.5 330.1l0 25.2 .3 32.4 .1 39.5 .1 1 .1-1 .9-69.8 0-27.3zM969.4 330.1l-1 155-.6 23.2-.2 30.2 2 0-.3-53.4 .4-80.5 .4-30.2 .3-44.3zM964 518.7l0 1-.3 18.8 .7 0-.3-18.8zM980.2 330.1l.2 29.5 .1 1 0-1 .2-29.5zM984.7 330.1l.1 17.4 0 1 0-1 0-17.4zM983.7 330.1l.1 32.5 0 1 0-1 .1-32.5zM991.6 330.1l.8 160.1 .1 1 0-1-.3-160.1zM998 330.1l.3 43.3-.1 102.7-.4 62.4 3.9 0-.3-36.3-1.1-51.3-.5-60.4-.7-18.1-.7-42.3zM1004.5 479.9l-.1 1-.7 6.2-.3 5.1-.5 46.3 3.3 0-.5-46.3-.3-5.1-.7-6.2zM1013.3 330.1l-.3 124.7 .2 32.2 .4 9 0 1 .1-1 .4-9 .1-32.2-.3-124.7zM1047.8 425.6l-.1 1 .1 36.3 0 1 0-1 0-36.3zM1063 388.7l-.1 1 0 72.9 .1 1 0-1 0-72.9zM1078.6 413.6l0 1-.5 10.2-.1 57.9 .1 7.1 .5 5.1 0 1 .1-1 .5-5.1 .1-7.1-.1-57.9-.5-10.2zM1086.4 390.2l-.1 1-.3 7.1 .2 25.2-.4 18.2-.2 96.8 4.3 0-.1-35.3-1.1-61.5-1-18.2-.7-25.2-.5-7.1zM1091.8 450.5l-.1 1-.4 11.1 .1 75.9 1.3 0-.4-75.9-.5-11.1zM1094 330.1l0 97.7 .1 25.2 .2 6.1 0 1 .1-1 .1-6.1 .1-25.2 0-97.7zM1096.3 469.8l0 1-.3 5.1-.1 5.2-.2 57.4 1.3 0-.2-57.4-.1-5.2-.3-5.1zM1102.7 485l-.2 1-.7 6.2-.3 5.1-.5 41.2 3.3 0-.5-41.2-.3-5.1-.7-6.2zM1122.6 330.1l0 29.9 .2 9.3 .1 1 .1-1 .1-9.3 .1-29.9zM1122.9 469.8l-.1 1-.9 6.2-.3 5.1-.8 56.4 4.2 0-.8-56.4-.3-5.1-1-6.2zM1130 330.1l.2 49.5 .7 48.6 .1 1 .1-1 .1-6.1 .1-47.5-.3-44.5zM1134.2 330.1l1 45.1 .6 11.3 .7 7.2 0 1 .1-1 .1-9.2-1.3-54.4zM1135 330.1l.4 46.5 1.5 33.4 .8 10.1 .1 1 .1-1 .1-9.1-1.2-36.4-.6-44.5zM1151.2 330.1l.5 44.5 .7 26.3-.4 31.3 .2 7.1 .1 1 0-1 .3-7.1 .4-31.3-.7-27.3-.5-43.5zM1151.6 445.9l-.1 1-1 10.2-.5 17.3-.4 49.9 .1 14.2 3.6 0 .1-14.2-.4-48.9-.5-19.3-.7-9.2zM1145.7 469.2l-.1 1-.4 10.2-.1 58.1 1.2 0-.1-58.1-.5-10.2zM1182.4 417.1l-.1 1-.4 9.2-.2 21.3-.2 50.8 .3 23.3 .5 6.1 .1 1 0-1 .5-6.1 .3-23.3-.2-50.8-.2-21.3-.4-9.2zM1213.5 508.5l-.1 1 0 19.7 .1 1 0-1 0-19.7zM1255.5 330.1l-.7 110.7-1.4 97.7 1.1 0 1.4-60.4 .6-39.3-.1-38.3-.5-70.4zM1260.9 330.1l0 140.1 .3 8.1 .7 6 .1 1 .2-1 .6-5 .2-6-.3-24.2-.5-73.7-.6-45.3zM1262.1 471.8l0 1-1.1 6.1-.3 5.2-.1 54.4 4.3 0-1-54.4-.5-5.2-1.2-6.1zM1251.9 470.3l-.1 1-.3 9.1-.1 58.1 1 0-.1-58.1-.3-9.1zM1272.9 401.4l-.1 1-.3 9.2 0 47.8 .1 7.1 .2 5.1 .1 1 0-1 .3-5.1 .1-7.1 0-47.8-.4-9.2zM1276.7 453.5l-.3 1-1.1 7.1-.5 9.1-1 31.4-.6 36.4 6.9 0-.5-36.4-1-31.4-.5-9.1-1.1-7.1zM1280.8 373l0 1-.3 11.1 0 32.3 .4 34.3 1.6 86.8 2 0-1.9-84.7-1-67.6-.7-12.2zM1288.8 384.7l0 1-.5 6.1-.1 6 .8 140.7 2.1 0-1.6-140.7-.1-6-.5-6.1zM1289.3 358.3l-.1 1-.3 11.1-.6 168.1 2.5 0-.5-136.9-.6-33.2-.3-9.1zM1294.4 407l-.1 1-.5 6.1-.2 6.1-.4 67 .4 17.3 .3 4.1 .5 4 .2 1 .2-1 .6-4 .3-4.1 .3-19.3-.2-41.7-.7-26.4-.6-9.1zM1302.2 447.4l-.1 1 0 90.1 .2 0 0-90.1zM1309.8 379.6l0 1-.3 11.2-.6 54.6 0 5.1 .3 4 .1 1 .1-1 .3-4 .1-6.1 .3-53.6-.3-11.2zM1308.7 452.5l-.1 1-1.1 7.1-.4 8.2-.6 50.9 .2 6.1 .7 9.1 1.7 0 .7-9.1 .2-5.1-.1-50.9-.2-8.1-.9-8.2zM1332.3 491.1l0 1-.4 8.3-.1 38.1 .9 0-.1-38.1-.3-8.3zM1349.5 330.1l-.1 92.6-.2 19.1-.4 96.7 2.9 0-.4-96.7-.3-20.1-.5-91.6zM1355.1 330.1l.2 93.6 .3 29.2-.2 59.4-.3 26.2 2.9 0-.2-25.2-.3-59.4-.7-30.2-.7-93.6zM1360.9 432.2l-.1 1-.2 9.1 0 51.6 .2 10.2 .1 1 0-1 .3-10.2-.1-51.6-.2-9.1zM1365.9 330.1l-.3 88 .2 21.2 .6 10.1 0 1 .1-1 .6-10.1 .2-21.2-.3-88zM1418.3 355.4l-.1 1-.2 9.1-.1 35.4 .1 33.4 .2 7 .1 1 .1-1 .1-7 .2-33.4-.2-35.4-.2-9.1zM1414 502.3l-.1 1-.3 7.3 0 27.9 .8 0-.1-27.9-.2-7.3zM1074.4 383.2l0 1-.4 17.5 .1 1 0-1 .4-17.5zM1291.2 330.1l.4 49.7 .1 1 0-1-.2-49.7zM998.4 440.8l0 1-.3 32.5 0 1 .1-1 .2-32.5zM1108 461.6l0 1 0 18.3 0 1 0-1 0-18.3zM1322.6 330.1l-.3 40.4 0 1 0-1 .6-40.4z" fill="#004cff"/>
<path d="M847.3 330.1l-.1 44.2-.8 99.6 .1 23.2 0 1 .1-1 1.4-34.2 .7-32.2 .5-54.4-.1-46.2zM837.6 503.6l0 1-.2 33.9 .3 0-.1-33.9zM858.3 330.1l.2 21.1 .8 52.5-.2 25.2 0 1 0-1 .7-22.2 .2-17.1-1.1-59.5zM877 374.1l0 1 1 100.1 0 1 .1-1-1-100.1zM878.1 498.3l-.1 1-.5 4.1-.3 6.2-.5 13.4-.2 15.5 3.1 0-.2-15.5-.5-13.4-.3-6.2-.5-4.1zM884.3 330.1l0 30.9 .1 1 0-1 .1-30.9zM939.1 330.1l0 33.2 0 1 0-1 .3-33.2zM937.7 505.3l-.1 1-.4 32.2 .6 0-.1-32.2zM942.5 330.1l0 15.4 0 1 .1-1 0-15.4zM950.4 419.1l-.1 1-1.1 56.7-.8 57.7 0 1 .1-1 1.9-106.3 0-8.1zM959.6 330.1l0 25.2 .4 32.4 0 29.4 .1 1 0-1 .8-59.7 0-27.3zM969.5 330.1l-.7 155-.8 23.2-.1 30.2 1.4 0-.3-53.4 .5-80.5 .5-30.2 .2-44.3zM980.3 330.1l.2 24.2 0 1 0-1 .1-24.2zM991.8 330.1l.3 68.4 0 1 .1-1-.2-68.4zM998.5 354.2l0 1-.1 121.9-.3 61.4 3.2 0-.2-36.3-1-51.3-.5-60.4-.7-16.1-.4-19.2zM1004.5 484l-.2 1-.4 4.2-.2 4.1-.4 45.2 2.4 0-.4-45.2-.1-4.1-.5-4.2zM1013.5 330.1l-.3 120.7 .3 40.2 .1 1 .1-1 .4-40.2-.3-120.7zM1078.6 419.7l-.1 1-.1 27.4 .2 40.7 0 1 .1-1 .2-40.7-.2-27.4zM1086.5 394.3l-.1 1 0 29.2-.4 18.2-.1 95.8 3.7 0-.1-35.3-1-61.5-1.1-18.2-.9-28.2zM1091.8 455.5l-.1 1-.2 8.1 .3 73.9 .5 0-.2-73.9-.2-8.1zM1094.2 330.1l.1 114.9 0 1 0-1 .2-114.9zM1096.3 474.9l0 1-.2 6.2 0 56.4 .5 0-.1-56.4-.1-6.2zM1102.7 489.1l-.2 1-.5 4.1-.1 4.2-.4 40.1 2.4 0-.4-40.1-.2-4.2-.4-4.1zM1122.7 330.1l.2 34 0 1 0-1 .2-34zM1122.9 473.9l-.2 1-.5 4.1-.2 4.1-.6 55.4 3 0-.6-55.4-.2-4.1-.5-4.1zM1130.1 330.1l.2 47.5 .6 44.5 .1 1 0-1 .2-47.5-.3-44.5zM1134.4 330.1l.9 44.1 1 15.4 .1 1 0-1 0-8.2-1.2-51.3zM1135.1 330.1l.5 45.5 1.4 30.3 .6 10.1 .1 1 0-1 0-7-1.1-35.4-.5-43.5zM1151.4 330.1l.4 44.5 .8 26.3-.4 34.4 .1 1 0-1 .5-34.4-.6-27.3-.5-43.5zM1151.6 449l-.1 1-.8 8.1-.5 18.3-.3 47.9 .1 14.2 3 0 .1-14.2-.3-47.9-.5-18.3-.6-8.1zM1145.7 474.3l-.1 1-.1 7.2-.1 56 .5 0 0-56-.2-7.2zM1182.4 422.2l-.1 1-.4 27.4-.1 46.7 .5 27.5 .1 1 0-1 .5-27.5-.1-46.7-.4-27.4zM1255.6 330.1l-.5 69.4-.1 41.3-1.2 97.7 .3 0 1.6-59.4 .7-40.3-.1-38.3-.5-70.4zM1261 330.1l.1 125 .1 20.2 .3 4 .4 3 .1 1 .2-1 .4-4 .2-5-.7-97.9-.6-45.3zM1262.2 474.9l-.2 1-.7 4.1-.3 5.1 0 53.4 3.5 0-.9-53.4-.4-5.1-.8-4.1zM1251.9 476.4l0 1-.1 61.1 .2 0-.1-61.1zM1272.9 406.5l-.1 1 0 58 .1 1 .1-1-.1-58zM1276.7 455.5l-.1 1-.6 3.1-.4 4-.8 18.2-.7 21.3-.5 35.4 6.1 0-.4-35.4-.7-21.3-.8-18.2-.4-4-.6-3.1zM1280.9 376.1l-.1 1-.2 9.1 .1 34.3 .4 31.2 1.6 86.8 1.6 0-1.8-84.7-1.1-67.6-.4-9.1zM1288.8 387.7l-.1 1-.3 4.1 0 6.1 .9 139.6 1.5 0-1.4-139.6-.5-10.2zM1289.3 363.4l-.1 1-.6 174.1 1.9 0-.4-135.9-.7-38.2zM1294.4 410l-.1 1-.4 5.1-.1 5.1-.4 66 .4 16.3 .3 4 .4 3.1 .1 1 .1-1 .4-3.1 .3-4 .4-18.3-.2-40.6-.6-25.4-.5-8.2zM1309.8 385.7l-.1 1-.6 58.7 .1 7.1 .1 1 .1-1 .2-7.1 .2-58.7zM1308.6 455.6l-.1 1-.7 5.1-.4 5-.5 49.9 .2 8.1 .8 10.2 .7 0 .9-10.2 .2-7.1-.1-50.9-.2-5-.6-5.1zM1332.3 498.3l0 1-.1 39.2 .2 0-.1-39.2zM1349.7 330.1l0 92.6-.3 19.1-.2 96.7 2.1 0-.2-96.7-.3-20.1-.5-91.6zM1355.2 330.1l.6 122.8-.1 59.4-.3 26.2 2.3 0-.2-25.2-.2-59.4-.8-30.2-.6-93.6zM1360.9 440.3l-.1 1 .1 21.3 0 1 0-1 0-21.3zM1366 330.1l-.3 84.9 .2 22.3 .4 9.1 .1 1 .1-1 .5-9.1 .2-22.3-.3-84.9zM1418.3 361.4l-.1 1-.1 38.5 .2 32.3 0 1 0-1 .2-32.3-.2-38.5zM1414 509.6l-.1 1 .1 18.6 0 1 0-1 0-18.6z" fill="#0090ff"/>
<path d="M847.4 330.1l-.1 44.2-.5 53.4-.1 57.3 .1 1 0-1 1.2-31.2 .6-30.2 .5-47.3-.1-46.2zM858.5 330.1l.1 21.1 1 50.5 0 1 0-1 .2-15.2-1.1-56.4zM878.1 503.4l-.1 1-.8 16.5-.3 17.6 2.3 0-.3-17.6-.8-16.5zM959.7 330.1l0 25.2 .5 38.5 0 1 0-1 .6-37.4 0-26.3zM969.6 330.1l-.2 60.4 .1 1 0-1 .3-17.1 .3-43.3zM968.7 499.2l0 1-.4 9.1-.1 29.2 .7 0-.2-38.3zM998.8 379.4l0 1-.2 11.1 .1 85.6-.2 61.4 2.5 0-.2-35.2-1-50.4-.5-61.4-.4-11.1zM1004.5 488.2l-.1 1-.2 6.1-.4 43.2 1.4 0-.3-43.2-.2-6.1zM1013.6 330.1l0 1-.2 117.7 .2 28.1 0 1 .1-1 .2-28.1-.2-117.7zM1086.8 416.5l0 1 0 7-.5 17.2-.1 96.8 3.1 0-.1-35.3-1-60.5-.2-6.1-.9-12.1-.2-7zM1102.7 493.2l-.2 1-.2 6.2-.4 38.1 1.5 0-.4-38.1-.2-6.2zM1122.9 478l-.1 1-.3 6.2-.6 53.3 2 0-.6-53.3-.3-6.2zM1130.2 330.1l.2 45.5 .3 21.2 .1 1 0-1 .3-22.2-.3-44.5zM1134.5 330.1l1 43.1 .6 11.3 0 1 .1-1-1.1-54.4zM1135.2 330.1l.5 44.5 1.5 30.3 0 1 .1-1-.9-30.3-.5-44.5zM1151.5 452.1l0 1-.5 6.1-.5 18.3-.3 46.8 .1 14.2 2.4 0 .1-13.2-.3-46.8-.4-18.3-.5-7.1zM1182.4 433.4l-.1 1-.2 17.2 0 23.4 0 25.4 .2 11.2 .1 1 0-1 .2-11.2 0-25.4 0-23.4-.2-17.2zM1255.7 347.2l0 1-.5 51.3-.3 75.6-.4 35.2 0 1 0-1 1-34.2 .7-37.3 0-38.3-.5-52.3zM1261.2 330.1l-.1 46.3 .1 75.7 .2 22.2 .5 6 .1 1 .2-1 .3-3 .1-5.1-.7-96.8-.6-45.3zM1262.2 476.9l-.1 1-.5 3.1-.2 5.1 .1 52.4 2.5 0-.8-52.4-.3-5.1-.6-3.1zM1276.7 458.6l-.1 1-.5 3-.3 4-1.2 31.4-.5 40.5 5.2 0-.5-40.5-1.3-31.4-.3-4-.5-3zM1280.9 378.1l0 1-.2 7.1 0 25.2 .5 34.3 1.7 92.8 1.1 0-.9-39.3-1.8-112-.3-8.1zM1288.8 389.8l0 1-.2 9.1 1 138.6 .9 0-1.3-138.6-.3-9.1zM1289.4 375.5l-.1 1-.3 162 1.1 0-.2-134.9-.5-27.1zM1294.4 413.1l-.1 1-.3 6.1-.2 18.3-.1 47.7 .3 14.2 .5 7.1 .1 1 .1-1 .4-5 .4-12.2 0-36.6-.5-24.4-.6-15.2zM1308.6 458.6l-.2 1-.5 4.1-.2 4.1-.4 49.8 .2 7.1 .7 6.1 .1 1 0-1 .7-6.1 .3-7.1 0-49.8-.2-4.1-.4-4.1zM1349.9 330.1l.1 91.6-.3 21.1-.1 95.7 1.3 0-.1-96.7-.3-20.1-.4-91.6zM1355.4 330.1l.7 122.8-.1 59.4-.3 26.2 1.7 0-.3-25.2 0-59.4-.8-30.2-.6-93.6zM1366.1 330.1l-.3 83.9 .2 21.3 .3 8.1 .1 1 .1-1 .4-8.1 .2-21.3-.3-83.9z" fill="#00d4ff"/>
<path d="M847.5 330.1l-.5 96.6 0 46.2 0 1 .1-1 .9-24.1 .7-41.3 .4-32.2-.2-45.2zM858.8 344.2l-.1 1 .8 41.3 0 1 .1-1-.8-41.3zM878.1 513.7l-.1 1-.4 8.3-.2 15.5 1.3 0-.2-15.5-.4-8.3zM959.8 330.1l-.1 25.2 .5 25.3 0 1 .1-1 .5-25.3-.1-25.2zM969.8 330.1l-.1 26.1 0 1 0-1 .2-26.1zM999 388.5l-.1 1 .2 85.6-.3 63.4 1.8 0-.1-35.2-1-50.4-.5-63.4zM1004.5 528.2l0 1-.1 9.3 .2 0 0-9.3zM1087 428.6l0 1-.5 12.1-.1 83.7 .2 13.1 2.3 0 0-35.3-.9-59.5-.3-7.1-.6-7zM1102.7 530.3l-.1 1-.1 7.2 .3 0-.1-7.2zM1122.9 518l0 1-.3 19.5 .6 0-.3-19.5zM1130.3 330.1l.4 54.6 0 1 .1-1 .1-11.1-.2-43.5zM1134.7 330.1l.9 40 .1 1 0-1-.8-40zM1135.4 330.1l.5 42.4 .5 12.2 0 1 .1-1-.8-54.6zM1151.5 456.1l0 1-.4 7.1-.4 15.3-.2 45.8 .2 13.2 1.6 0 .2-13.2-.2-45.8-.8-22.4zM1255.7 369.3l0 1-.3 31.3-.2 73.5 0 1 0-1 .9-38.3-.1-36.3-.3-30.2zM1261.4 351.2l0 1 .1 98.9 .1 22.2 .3 5 .1 1 .1-1 .2-6.1-.5-95.8-.4-24.2zM1262.3 480l-.1 1-.3 6.2 .1 51.3 1.5 0-.7-51.3-.2-4.1-.3-2.1zM1276.7 463.6l-.1 1-.8 14.2-.8 21.2-.5 38.5 4.3 0-.4-38.5-.8-21.2-.8-14.2zM1281 382.1l-.1 1 0 30.3 .4 34.3 1.3 55.5 .6 35.3 .6 0-.9-37.3-1.9-118.1zM1288.8 393.8l0 1 1.2 135.6 0 1 0-1-1.1-135.6zM1289.5 397.6l0 1-.1 139.9 .3 0-.1-139.9zM1294.4 418.2l-.1 1-.3 26.4-.1 40.6 .2 8.1 .5 9.2 0 1 0-1 .7-15.3-.1-36.5-.8-32.5zM1308.5 461.7l0 1-.4 6.1-.3 47.8 0 5.1 .4 4.1 .1 1 .1-1 .3-4.1 .1-5.1 .1-47.8-.3-6.1zM1350.3 432.8l-.1 1-.2 10 .1 94.7 .3 0 .1-94.7-.2-10zM1356.3 437.8l0 1 .1 73.5-.3 26.2 .9 0-.2-25.2 0-59.4-.4-15.1zM1366.1 330.1l-.2 82.9 .5 27.3 0 1 .1-1 .4-27.3-.2-82.9z" fill="#19ffe6"/>
<path d="M847.5 330.1l-.4 94.5 .1 36.3 .1 1 0-1 .8-23.2 .6-39.2 .3-24.2-.1-44.2zM878.1 534.4l-.1 1 0 3.1 .1 0 0-3.1zM959.8 330.1l0 25.2 .4 16.2 0 1 .1-1 .4-16.2 0-25.2zM999.5 479.1l0 1-.2 22.1-.1 36.3 1 0 0-36.3-.7-22.1zM1087.1 433.6l-.1 1-.2 9.1 0 81.7 .2 13.1 1.5 0 .2-13.1-.1-23.2-.9-59.5-.4-8.1zM1130.4 330.1l.3 46.5 0 1 .1-1-.2-46.5zM1151.5 465.3l-.1 1-.4 12.2-.2 43.7 .4 16.3 .6 0 .3-16.3-.2-43.7-.3-12.2zM1255.7 387.5l0 1-.2 63.4 0 1 .1-1 .3-16.1-.2-47.3zM1261.5 374.4l0 1 .2 74.7 .3 24.2 0 1 0-1-.5-98.9zM1262.7 525.2l-.1 1 .1 12.3 .2 0-.2-12.3zM1276.7 472.7l-.1 1-1.2 27.4-.4 37.4 3.4 0-.4-37.4-1.2-27.4zM1281.1 393.2l-.1 1 .1 26.3 .5 30.2 .6 23.2 0 1 0-1-1.1-79.7zM1294.5 430.4l-.1 1-.2 16.2 0 36.6 .3 12.2 .1 1 .1-1 .3-9.2 0-36.5-.5-19.3zM1366.3 330.1l-.3 81.9 .4 24.3 0 1 .1-1 .3-24.3-.2-81.9z" fill="#5dffa2"/>
<path d="M847.6 330.1l-.3 92.5 .1 26.2 .1 1 0-1 .7-25.2 .6-43.2 0-50.3zM959.9 330.1l0 24.2 .3 11.2 0 1 .1-1 .3-11.2 0-24.2zM1087.2 439.7l0 1 0 83.7 .2 14.1 .7 0 .2-13.1 0-22.2-1-62.5zM1151.5 476.5l0 1-.2 45.7 .1 8.2 .1 1 .1-1 .1-8.2-.2-45.7zM1276.7 482.8l-.1 1-.8 19.3-.3 35.4 2.4 0-.3-35.4-.9-19.3zM1294.6 442.5l0 1 0 44.7 0 1 0-1 0-44.7zM1366.4 330.1l-.2 79.9 .2 17.2 0 1 .1-1 .2-17.2-.2-79.9z" fill="#a2ff5e"/>
<path d="M847.7 330.1l-.3 84.5 .1 23.1 .1 1 0-1 .6-23.1 .5-36.2 0-48.3zM960 330.1l0 23.2 .2 8.1 0 1 .1-1 .2-8.1 0-23.2zM1087.7 493.1l-.1 1 .1 34.3 0 1 .1-1 .1-23.2-.2-11.1zM1276.7 495l-.1 1-.3 9.1-.2 33.4 1.2 0-.2-33.4-.3-9.1zM1366.4 362.4l0 1 0 53.7 0 1 .1-1 0-53.7z" fill="#e5ff1a"/>
<path d="M847.8 330.1l-.1 96.6 0 1 0-1 .9-49.4 0-47.2zM960.1 330.1l.1 27.3 0 1 .1-1 .1-27.3z" fill="#ffd500"/>
<path d="M847.9 330.1l-.1 83.5 0 1 .1-1 .6-37.3 0-46.2zM960.2 330.1l0 15.1 0 1 .1-1 0-15.1z" fill="#ff9000"/>
<path d="M848 330.1l-.1 69.4 .1 1 0-1 .4-25.2 0-44.2z" fill="#ff4d00"/>
<path d="M848.1 330.1l0 51.3 .1 1 0-1 .1-51.3z" fill="#ff0800"/>
</g>
</g>
<text x="836.1" y="550.7" text-anchor="middle" font-size="12.4">00:00</text>
<text x="911.5" y="550.7" text-anchor="middle" font-size="12.4">03:00</text>
<text x="986.9" y="550.7" text-anchor="middle" font-size="12.4">06:00</text>
<text x="1062.2" y="550.7" text-anchor="middle" font-size="12.4">09:00</text>
<text x="1137.6" y="550.7" text-anchor="middle" font-size="12.4">12:00</text>
<text x="1213.0" y="550.7" text-anchor="middle" font-size="12.4">15:00</text>
<text x="1288.3" y="550.7" text-anchor="middle" font-size="12.4">18:00</text>
<text x="1363.7" y="550.7" text-anchor="middle" font-size="12.4">21:00</text>
<text x="1439.1" y="550.7" text-anchor="middle" font-size="12.4">00:00</text>
<text x="832.5" y="537.8" text-anchor="end" font-size="12.4">7</text>
<text x="832.5" y="514.5" text-anchor="end" font-size="12.4">8</text>
<text x="832.5" y="493.9" text-anchor="end" font-size="12.4">9</text>
<text x="832.5" y="475.5" text-anchor="end" font-size="12.4">10</text>
<text x="832.5" y="443.7" text-anchor="end" font-size="12.4">12</text>
<text x="832.5" y="416.8" text-anchor="end" font-size="12.4">14</text>
<text x="832.5" y="393.5" text-anchor="end" font-size="12.4">16</text>
<text x="832.5" y="372.9" text-anchor="end" font-size="12.4">18</text>
<text x="832.5" y="354.5" text-anchor="end" font-size="12.4">20</text>
<text x="832.5" y="337.9" text-anchor="end" font-size="12.4">22</text>
<path d="M911.9 536.5v-5M911.9 331.5v5M987.2 536.5v-5M987.2 331.5v5M1062.6 536.5v-5M1062.6 331.5v5M1138.0 536.5v-5M1138.0 331.5v5M1213.4 536.5v-5M1213.4 331.5v5M1288.8 536.5v-5M1288.8 331.5v5M1364.1 536.5v-5M1364.1 331.5v5M836.0 532.8h5M1439.8 532.8h-5M836.0 509.5h5M1439.8 509.5h-5M836.0 488.9h5M1439.8 488.9h-5M836.0 470.5h5M1439.8 470.5h-5M836.0 438.7h5M1439.8 438.7h-5M836.0 411.8h5M1439.8 411.8h-5M836.0 388.5h5M1439.8 388.5h-5M836.0 367.9h5M1439.8 367.9h-5M836.0 349.5h5M1439.8 349.5h-5M836.0 332.9h5M1439.8 332.9h-5" stroke="#000" stroke-opacity="0.35" stroke-width="1" fill="none"/>
<text x="809.5" y="434.0" text-anchor="middle" font-size="12.35" font-weight="bold" transform="rotate(-90 809.5 434.0)">freq (mHz)</text>
<rect x="1458.5" y="331.5" width="25.0" height="205.0" fill="url(#jet)"/>
<text x="1486.5" y="336.0" text-anchor="start" font-size="12.4">4</text>
<text x="1486.5" y="370.2" text-anchor="start" font-size="12.4">3</text>
<text x="1486.5" y="404.3" text-anchor="start" font-size="12.4">2</text>
<text x="1486.5" y="438.5" text-anchor="start" font-size="12.4">1</text>
<text x="1486.5" y="472.7" text-anchor="start" font-size="12.4">0</text>
<text x="1486.5" y="506.8" text-anchor="start" font-size="12.4">-1</text>
<text x="1486.5" y="541.0" text-anchor="start" font-size="12.4">-2</text>
<path d="M1458.5 365.7h3M1483.5 365.7h-3M1458.5 399.8h3M1483.5 399.8h-3M1458.5 434.0h3M1483.5 434.0h-3M1458.5 468.2h3M1483.5 468.2h-3M1458.5 502.3h3M1483.5 502.3h-3" stroke="#000" stroke-opacity="0.45" stroke-width="1" fill="none"/>
<text x="1518.6" y="434.0" text-anchor="middle" font-size="12.35" font-weight="bold" transform="rotate(-90 1518.6 434.0)">log<tspan dy="3" font-size="9">2</tspan><tspan dy="-3">(nT</tspan><tspan dy="-5" font-size="9">2</tspan><tspan dy="5">/Hz)</tspan></text>
<rect x="43.5" y="616.5" width="602.0" height="205.0" fill="none" stroke="#a2a2a2" stroke-width="1"/>
<text x="43.1" y="835.7" text-anchor="middle" font-size="12.4">00:00</text>
<text x="118.3" y="835.7" text-anchor="middle" font-size="12.4">03:00</text>
<text x="193.6" y="835.7" text-anchor="middle" font-size="12.4">06:00</text>
<text x="268.9" y="835.7" text-anchor="middle" font-size="12.4">09:00</text>
<text x="344.1" y="835.7" text-anchor="middle" font-size="12.4">12:00</text>
<text x="419.4" y="835.7" text-anchor="middle" font-size="12.4">15:00</text>
<text x="494.6" y="835.7" text-anchor="middle" font-size="12.4">18:00</text>
<text x="569.9" y="835.7" text-anchor="middle" font-size="12.4">21:00</text>
<text x="645.1" y="835.7" text-anchor="middle" font-size="12.4">00:00</text>
<text x="38.9" y="825.7" text-anchor="end" font-size="12.4">-1</text>
<text x="38.9" y="784.7" text-anchor="end" font-size="12.4">-0.5</text>
<text x="38.9" y="743.7" text-anchor="end" font-size="12.4">0</text>
<text x="38.9" y="702.7" text-anchor="end" font-size="12.4">0.5</text>
<text x="38.9" y="661.7" text-anchor="end" font-size="12.4">1</text>
<text x="38.9" y="620.7" text-anchor="end" font-size="12.4">1.5</text>
<path d="M118.8 821.5v-6M118.8 616.5v6M194.0 821.5v-6M194.0 616.5v6M269.2 821.5v-6M269.2 616.5v6M344.5 821.5v-6M344.5 616.5v6M419.8 821.5v-6M419.8 616.5v6M495.0 821.5v-6M495.0 616.5v6M570.2 821.5v-6M570.2 616.5v6M43.5 780.5h6M645.5 780.5h-6M43.5 739.5h6M645.5 739.5h-6M43.5 698.5h6M645.5 698.5h-6M43.5 657.5h6M645.5 657.5h-6" stroke="#6e6e6e" stroke-width="0.7" fill="none"/>
<g clip-path="url(#cl2)">
<path transform="translate(43.5 0) scale(0.333333 1)" d="M0 728.3h1V733.5h1V733.1h1V730.8h1V732.7h1V731.3h1V731.6h1V733.4h1V732.8h1V732.3h1V730.5h1V727.1h1V732.5h1V729.4h1V733.3h1V734.4h1V731.8h1V732.1h1V732.7h1V732.9h1V733h1V733.6h1V735.4h1V731.1h1V732.4h1V732.2h1V732.8h1V730.8h1V730.4h1V733h1V730.3h1V731.8h1V713.3h1V731.8h1V731.8h1V733.7h1V735.7h1V733.6h1V734.5h1V736.8h1V734.7h1V736.1h1V733.5h1V732.1h1V730.2h1V732.5h1V732.2h1V731.7h1V734.1h1V732.9h1V732.9h1V735.5h1V733.9h1V733.5h1V734.7h1V734.7h1V735.4h1V733.3h1V733h1V733.8h1V734.5h1V732.5h1V735.1h1V733.8h1V735.3h1V733.5h1V734.5h1V733.5h1V733.3h1V733.7h1V732.2h1V732.2h1V733.4h1V733.5h1V731h1V726.9h1V733.6h1V730.5h1V731.7h1V733.6h1V730.7h1V728.6h1V727.8h1V730.5h1V729.3h1V732.8h1V731.5h1V734h1V735.6h1V734.9h1V736.9h1V733.7h1V733.7h1V735h1V732.2h1V729.6h1V732.9h1V732.6h1V734.1h1V731.2h1V733.1h1V730.4h1V732.5h1V735h1V734.3h1V733h1V731.6h1V731.3h1V730.8h1V732.6h1V733.5h1V730.4h1V734h1V736h1V733.7h1V735.3h1V733.2h1V732h1V732.2h1V732.9h1V731.9h1V734.8h1V732h1V734h1V733.5h1V732h1V732.7h1V732.1h1V732.5h1V732h1V731.5h1V731.5h1V732.7h1V733.6h1V731.4h1V733.3h1V731.2h1V731.8h1V733.8h1V734.9h1V731.8h1V734.5h1V734.6h1V734.3h1V735.1h1V735.4h1V733.1h1V733h1V731.6h1V734h1V733.3h1V731.1h1V733.2h1V733.2h1V732.2h1V733.9h1V733.3h1V733.4h1V731.4h1V728.1h1V730.1h1V731.7h1V732.7h1V731.9h1V733.1h1V730h1V730.2h1V729.9h1V731h1V729.9h1V734h1V732.8h1V733.1h1V732.1h1V733.9h1V734.8h1V735h1V732.7h1V733.7h1V732.7h1V730.6h1V731.3h1V729.5h1V728.6h1V732.6h1V731h1V731h1V727.5h1V733h1V732.7h1V733.4h1V734.8h1V730.6h1V734.5h1V735h1V730.8h1V733.4h1V734.8h1V733.6h1V734.9h1V734h1V734.8h1V732.1h1V731.7h1V732h1V732.7h1V730.7h1V732.1h1V731.1h1V731h1V725.7h1V731.2h1V733.3h1V732.9h1V733.1h1V732.9h1V729.8h1V734.4h1V732.4h1V733.2h1V732h1V732.4h1V731.4h1V733.2h1V732.1h1V729.5h1V730.2h1V732.6h1V732.7h1V728.5h1V732.1h1V729.6h1V733.3h1V734.6h1V732.9h1V733h1V733.9h1V731.2h1V733h1V728.8h1V730.6h1V731.7h1V730.2h1V728.7h1V727.9h1V730.6h1V732.6h1V731.8h1V730.8h1V729.6h1V734.8h1V732.9h1V735.3h1V729.9h1V731.7h1V733h1V732.3h1V734.9h1V733.8h1V732.5h1V733.2h1V730.3h1V733.8h1V728.1h1V733.3h1V733.9h1V736.7h1V734.2h1V734.6h1V732.4h1V734.2h1V734.6h1V734.1h1V729.1h1V732.9h1V731.6h1V734.1h1V729.4h1V733.7h1V732.7h1V731.1h1V730.9h1V732.9h1V733.1h1V732.8h1V735.3h1V733.6h1V732.7h1V732.8h1V730.3h1V733.5h1V734h1V734.5h1V723.2h1V725h1V730.1h1V730.5h1V730.7h1V730.2h1V733.1h1V733.1h1V730.5h1V732.2h1V734.5h1V732.9h1V733.7h1V728.1h1V733.6h1V733.8h1V732.7h1V733.2h1V731.8h1V735.6h1V732.3h1V734.5h1V734h1V733.2h1V731.6h1V734h1V730.4h1V732.6h1V729.9h1V730h1V732.7h1V734.6h1V734.5h1V732h1V731.6h1V731.9h1V732.1h1V730.8h1V732.4h1V732.3h1V735.1h1V734.4h1V735.1h1V734.5h1V732.5h1V734.8h1V735.1h1V732.1h1V731.5h1V731.9h1V734h1V732.9h1V732.4h1V728.4h1V733.8h1V729.6h1V732.1h1V729h1V736.4h1V734.6h1V731.2h1V734.4h1V727.3h1V727.8h1V732.5h1V731.6h1V732.1h1V734.2h1V735.4h1V733.5h1V732.5h1V735.6h1V735.4h1V735.2h1V736.6h1V736.6h1V735.5h1V734.1h1V732.1h1V731.1h1V734.4h1V736h1V735.9h1V736.2h1V735.3h1V731.5h1V729.4h1V732.7h1V732.6h1V733.5h1V731.3h1V733.1h1V732.6h1V730.3h1V732.3h1V730.2h1V731.9h1V731h1V733.7h1V730.4h1V731h1V728.7h1V729.3h1V733.2h1V733.3h1V734.6h1V734.5h1V735.5h1V733.6h1V733.7h1V728.7h1V733.1h1V734.7h1V734.1h1V734.6h1V734.9h1V735.2h1V734.5h1V734.9h1V736.9h1V732.5h1V734.4h1V733.6h1V730.4h1V732.2h1V730.9h1V732.7h1V732.7h1V734.3h1V730.6h1V734.2h1V731h1V731.9h1V734.6h1V733h1V733.7h1V733.6h1V733.9h1V733.8h1V735h1V730.2h1V731.7h1V731.1h1V732.1h1V732.8h1V734.9h1V733.3h1V734.5h1V735.1h1V732.9h1V732.5h1V735.1h1V733.3h1V736h1V733h1V732h1V729.9h1V731.3h1V727.2h1V731.9h1V731.4h1V730.7h1V732.4h1V731.9h1V732.6h1V733.4h1V726.1h1V731.8h1V731.4h1V732.8h1V733.5h1V734.9h1V732.2h1V734h1V734.1h1V733.5h1V734.3h1V735.8h1V734.3h1V735.4h1V734.4h1V735.3h1V734.7h1V734.4h1V732.8h1V734.4h1V731.6h1V730.8h1V732.4h1V732.1h1V733.4h1V729.4h1V732.8h1V732.8h1V734.4h1V733.3h1V733h1V725.9h1V723.5h1V728.6h1V726h1V731.2h1V732.9h1V731.6h1V734.7h1V734.2h1V732.3h1V732.9h1V730.6h1V733.5h1V731.9h1V731.5h1V732.6h1V732.7h1V733.1h1V732.9h1V730h1V733.2h1V731.2h1V727.1h1V732h1V732h1V733.3h1V733.8h1V732h1V731.1h1V734.1h1V733.5h1V734.9h1V734.2h1V734.1h1V733.6h1V731.9h1V735.2h1V731.4h1V734.7h1V735h1V734h1V733.1h1V732.5h1V730.3h1V732.7h1V731.9h1V731.4h1V730.7h1V734.5h1V732.6h1V732h1V732.5h1V729.9h1V728h1V725.5h1V733.5h1V727.1h1V728.3h1V729.3h1V732.5h1V732h1V728.7h1V730.6h1V731.3h1V727.7h1V728.8h1V729.6h1V730.3h1V733h1V731.3h1V733h1V731.8h1V735.9h1V734.3h1V731.3h1V733h1V730.7h1V732.8h1V732.3h1V732h1V730.2h1V732.2h1V729.6h1V734.1h1V734.9h1V733.2h1V733.4h1V732.3h1V729.5h1V730.3h1V730.9h1V735h1V736.2h1V735.7h1V733.8h1V732.2h1V733.6h1V733.7h1V734.9h1V735.9h1V734.8h1V735.6h1V735h1V734.3h1V731.6h1V733h1V732.3h1V734.5h1V730.4h1V727.9h1V732.4h1V728.8h1V731.7h1V734.1h1V735h1V734.7h1V735.7h1V732.3h1V728.9h1V730.6h1V722.1h1V724.6h1V729.4h1V732.3h1V727.8h1V730.3h1V730.3h1V733.5h1V730.7h1V728.9h1V728.3h1V731.3h1V730.9h1V733.4h1V734.8h1V734.8h1V734h1V731.5h1V731h1V730.2h1V722.7h1V728.7h1V729.4h1V732.8h1V729.9h1V729.5h1V730.5h1V729.2h1V732.6h1V728h1V731.7h1V732.4h1V733.2h1V735.4h1V735.3h1V734.8h1V732.7h1V733.5h1V731.7h1V732.2h1V733h1V729h1V729h1V726.9h1V724.4h1V728.4h1V725.7h1V726h1V727.8h1V730.7h1V732h1V728.8h1V730.3h1V732.5h1V729.7h1V732.3h1V731.4h1V735h1V732.9h1V732.1h1V732.5h1V731.2h1V727.7h1V729h1V728.1h1V731.8h1V732.4h1V734.6h1V733h1V730.7h1V730.1h1V728.8h1V731.6h1V734.5h1V733.4h1V734.5h1V733.7h1V732.4h1V733.2h1V733.3h1V734.5h1V734.8h1V734.8h1V728.4h1V732.3h1V727.3h1V727.3h1V731.5h1V728.9h1V732.8h1V733.4h1V729.4h1V729h1V722.3h1V731.7h1V729.5h1V731.2h1V730.7h1V734.4h1V732h1V731.3h1V731.9h1V731.5h1V729.8h1V729.4h1V725.3h1V727.3h1V731.8h1V732.1h1V730.2h1V731.7h1V730.8h1V734.9h1V735.1h1V733.9h1V732.2h1V732h1V731.6h1V731.1h1V734.9h1V731h1V732h1V729.5h1V731.8h1V733.3h1V728.7h1V728.4h1V731.7h1V727.1h1V733.6h1V729.4h1V731.4h1V734.6h1V731.2h1V732.2h1V730.4h1V731h1V730h1V732.5h1V732.3h1V732.7h1V733.1h1V731.5h1V733.2h1V733.6h1V734.7h1V732.2h1V727.5h1V731.6h1V732.8h1V732.7h1V732.3h1V733.6h1V733h1V735.8h1V733.8h1V735.7h1V734.3h1V732.9h1V733.7h1V730.8h1V733.5h1V733.1h1V733.5h1V733h1V734.7h1V734.8h1V733.8h1V730.5h1V734.2h1V730.6h1V734h1V732h1V733.6h1V733.6h1V731.7h1V733.8h1V733.1h1V733h1V732.7h1V728.4h1V731.4h1V728.5h1V733.9h1V734.3h1V730.8h1V733.7h1V733h1V735.5h1V736.2h1V730.5h1V733.2h1V734.1h1V733.9h1V732.3h1V734.7h1V734.6h1V735.5h1V734.2h1V732.6h1V732.2h1V732.6h1V732.8h1V731.6h1V732.6h1V732.6h1V733.8h1V734.7h1V733.1h1V729.7h1V733.7h1V732.8h1V731.4h1V732.5h1V729.3h1V731.2h1V732.7h1V733h1V733.2h1V732.6h1V731.6h1V732.6h1V730.5h1V727.4h1V730.7h1V731.5h1V734.6h1V733.4h1V734h1V733.7h1V734h1V735.7h1V732.9h1V725.7h1V731.7h1V730.6h1V730.3h1V727.4h1V730.6h1V733.2h1V733.2h1V730.9h1V728.4h1V729.6h1V733.6h1V730.6h1V728.9h1V733.1h1V735.2h1V732.6h1V735.9h1V731.9h1V734.2h1V733.7h1V733.6h1V735.4h1V733.2h1V729.8h1V733.4h1V732.7h1V733.1h1V732.9h1V729.5h1V731.6h1V728.4h1V733.4h1V734.7h1V734.1h1V731.9h1V733.6h1V733.8h1V733.8h1V731h1V732.4h1V733.4h1V732.8h1V733h1V733.9h1V734.2h1V734.7h1V732.4h1V732.6h1V734.5h1V730.6h1V735.5h1V729.8h1V733.2h1V732.1h1V732h1V734.3h1V734.2h1V733.2h1V733.6h1V732.8h1V732.3h1V729.5h1V731.1h1V734.6h1V734.9h1V734.2h1V730.9h1V733.1h1V734.7h1V734.5h1V733.9h1V734.3h1V732.4h1V731.9h1V733.7h1V729.2h1V732.2h1V733.9h1V733.9h1V732.2h1V731.8h1V733.7h1V731.5h1V732h1V730h1V730.4h1V730.8h1V732.3h1V732.2h1V728.3h1V729.3h1V726.1h1V732.3h1V734.4h1V735.2h1V735.6h1V734.9h1V734.9h1V734.8h1V735.6h1V734h1V732.3h1V731.7h1V733.2h1V733.5h1V734.8h1V733.9h1V735.2h1V733.6h1V733.5h1V735.6h1V731.3h1V731.6h1V730.4h1V730.4h1V729.8h1V732h1V731.4h1V732.2h1V734.9h1V732.9h1V734.6h1V735.1h1V732.8h1V735.4h1V732.9h1V733.2h1V734.2h1V726.8h1V733.4h1V733.5h1V732.2h1V731.3h1V731.3h1V731.6h1V734.8h1V735.4h1V734.6h1V734.8h1V735.1h1V732.9h1V734h1V729.7h1V731.3h1V730.8h1V729h1V732.5h1V729.5h1V732.8h1V732.3h1V726.6h1V733.1h1V731.8h1V732.2h1V735.6h1V733.9h1V734.4h1V732.8h1V735.1h1V730.1h1V732.8h1V730.4h1V734.3h1V731.7h1V736.6h1V733h1V731.4h1V732.8h1V727.4h1V730.1h1V729.8h1V732.4h1V728.6h1V731.6h1V732.5h1V729.8h1V733.6h1V733h1V734.6h1V731.1h1V731h1V729.6h1V732.6h1V686.2h1V732.5h1V733.9h1V733.9h1V734.4h1V733.1h1V732.9h1V732h1V732.8h1V730.2h1V729.6h1V733.6h1V735.2h1V735.5h1V733.1h1V732.4h1V733.1h1V731.4h1V732.9h1V730.9h1V733.7h1V732.5h1V733.3h1V732.6h1V731.3h1V731.3h1V731.4h1V731.8h1V731.5h1V733.1h1V733h1V734.4h1V733h1V731.1h1V646.8h1V683.9h1V728.6h1V733h1V728.4h1V732.6h1V732.9h1V733.7h1V729.1h1V734.2h1V732.3h1V732.8h1V729.8h1V729.6h1V732.2h1V732.6h1V731h1V729.1h1V732.5h1V734.9h1V733.5h1V734.6h1V734.5h1V730.4h1V728.6h1V733.2h1V733.9h1V731.6h1V733.5h1V732.4h1V730.3h1V733.6h1V732.1h1V732.1h1V733.9h1V730.9h1V731.1h1V732.9h1V731.9h1V731.5h1V732.9h1V734.6h1V735.9h1V735.7h1V733.7h1V733.7h1V733.5h1V735.6h1V732.2h1V734.2h1V731.6h1V734.2h1V733.2h1V733.3h1V734.4h1V732.5h1V730.6h1V734.5h1V731.1h1V732.3h1V735.6h1V734.9h1V734.1h1V733.2h1V732.6h1V732.9h1V731.1h1V734h1V733.3h1V734.1h1V735.2h1V732.6h1V732.4h1V733.5h1V730.6h1V731h1V729.7h1V733.5h1V732.2h1V734.1h1V732.5h1V733.8h1V733.4h1V731.9h1V732.1h1V732h1V733.9h1V732.9h1V733.7h1V732.4h1V732.6h1V733.3h1V731.9h1V734.1h1V735.4h1V732.4h1V734.2h1V729.8h1V730h1V729.8h1V732.6h1V728.5h1V730.5h1V725.1h1V732.2h1V728h1V732.2h1V734.3h1V735.9h1V735h1V732.3h1V731.9h1V725.2h1V728.2h1V732.3h1V728.1h1V733.6h1V734.7h1V733.6h1V734.9h1V733.3h1V734.1h1V734.2h1V732h1V734.3h1V733.6h1V728.4h1V729.2h1V728.7h1V731.9h1V729.3h1V733.5h1V732.5h1V732.8h1V735.2h1V735.4h1V735.3h1V732.6h1V734h1V732.2h1V733.8h1V733.2h1V734.9h1V735.2h1V733.8h1V736.2h1V734.7h1V733.4h1V733.9h1V733h1V728.9h1V731.5h1V730.7h1V733h1V733.7h1V732.8h1V732.6h1V729.1h1V732.3h1V726.3h1V733.7h1V732.4h1V734.4h1V733.7h1V733.4h1V730.5h1V731.5h1V733.3h1V730.6h1V735.5h1V735.8h1V734.6h1V733.5h1V730.5h1V731.7h1V733h1V732.9h1V729h1V732.6h1V728.8h1V729.7h1V730.6h1V732.1h1V729.5h1V731.9h1V732.3h1V731.7h1V732.5h1V730.5h1V732h1V731.3h1V732.6h1V729h1V730.5h1V730.3h1V730.6h1V726.5h1V731.2h1V728.6h1V732h1V731.2h1V731.9h1V734.3h1V732.1h1V731.8h1V733.8h1V733.3h1V730.3h1V731.6h1V728.2h1V735.1h1V733.3h1V734.9h1V734.6h1V733.7h1V733.8h1V735.3h1V735.8h1V732.3h1V731.3h1V733.4h1V730.8h1V734.9h1V732.8h1V733.5h1V733.1h1V730.9h1V733.3h1V732.7h1V736.4h1V733h1V733.8h1V731.3h1V729.2h1V734.8h1V733.7h1V733.5h1V732.6h1V735.5h1V732h1V734.7h1V732.5h1V728.9h1V727.6h1V727.6h1V730h1V733.3h1V734.5h1V731.1h1V732.7h1V734.8h1V733.7h1V731.9h1V730.1h1V732.3h1V735.2h1V731.7h1V733.1h1V732.3h1V733.2h1V733.7h1V734.3h1V733h1V735.3h1V734h1V735.2h1V733.8h1V734.2h1V733.6h1V732.9h1V733.7h1V730.9h1V732.3h1V728.2h1V731.5h1V732h1V733.7h1V735.3h1V734.7h1V734.7h1V734.1h1V731h1V733.4h1V732.6h1V734.2h1V731.3h1V735.8h1V733h1V735h1V734.2h1V733h1V730.5h1V730.4h1V733.6h1V732.4h1V733h1V735.2h1V734.1h1V733.5h1V730.2h1V733h1V732.5h1V732.4h1V731h1V728.4h1V733.1h1V732.9h1V733.7h1V733h1V733.1h1V735.6h1V734.7h1V736.1h1V734.9h1V731.3h1V730.7h1V727.7h1V726.9h1V728.6h1V732.3h1V734.2h1V735.9h1V734.5h1V735.1h1V733.7h1V728.2h1V730.3h1V733.3h1V734.1h1V734.3h1V733.7h1V734.5h1V734.3h1V736h1V733h1V732.4h1V731h1V733h1V732.2h1V734.6h1V734.4h1V734.7h1V731.9h1V734.9h1V731.6h1V736.4h1V728.9h1V733.9h1V733.1h1V729.9h1V729.1h1V727.8h1V729.1h1V731h1V732h1V733.2h1V733.7h1V733.2h1V732.6h1V732.8h1V730.9h1V734h1V732.6h1V733.2h1V733.8h1V731h1V733.5h1V733.8h1V734h1V733.8h1V734.6h1V731.6h1V733.6h1V732.6h1V733.7h1V732h1V734.2h1V733.5h1V733.1h1V729.5h1V729.5h1V732.2h1V733.3h1V734.1h1V734.6h1V733.2h1V733.3h1V734.4h1V734.7h1V733.7h1V729.5h1V728.6h1V726.5h1V731.4h1V730.9h1V729.6h1V729h1V722.5h1V718.3h1V700.6h1V687.8h1V703.8h1V719.5h1V724.4h1V720.7h1V717.4h1V718.7h1V723h1V728.5h1V729.9h1V726.9h1V709.1h1V704.4h1V717.2h1V712.6h1V723.8h1V719.7h1V704.5h1V724.7h1V716.4h1V716.4h1V727.6h1V724.3h1V708.6h1V715.3h1V718.8h1V720.6h1V723.7h1V712.6h1V700.4h1V711.9h1V710.2h1V724.9h1V717.9h1V717.8h1V727.2h1V720.2h1V720.3h1V702.9h1V706.9h1V714.7h1V725h1V726.8h1V731.2h1V726.8h1V731.3h1V725.7h1V724.5h1V719.3h1V712.4h1V717.9h1V724.1h1V711h1V726.5h1V711.6h1V717.5h1V728.1h1V719h1V723.5h1V730h1V719h1V698.5h1V714.5h1V723.7h1V713.5h1V720.2h1V700.4h1V726.7h1V725.8h1V719.6h1V716.4h1V715.7h1V717.2h1V713.6h1V707.2h1V726h1V721.9h1V690.3h1V710.6h1V720.2h1V713.8h1V717.1h1V705.9h1V687.8h1V687.8h1V715h1V704h1V687.8h1V689.9h1V699.4h1V723.4h1V712.4h1V719.5h1V714.1h1V709.3h1V713.2h1V710.7h1V721.5h1V707.4h1V724.5h1V705.5h1V720.8h1V711.2h1V715.2h1V665.7h1V695.2h1V715.5h1V660h1V691.8h1V711.2h1V725.4h1V715.5h1V713.2h1V713.3h1V713.8h1V695.1h1V701.8h1V714.1h1V695.4h1V717.5h1V687.8h1V705.6h1V722.1h1V713h1V643.6h1V681.9h1V673.9h1V704.4h1V703.4h1V719.3h1V708.3h1V710.9h1V710.9h1V725.6h1V726.8h1V726h1V718.7h1V726.1h1V721.1h1V709.6h1V718.7h1V716.2h1V723.5h1V727.1h1V730.2h1V726.3h1V727.1h1V728h1V717.3h1V724.5h1V714.3h1V724.6h1V706.5h1V712.9h1V699h1V710.4h1V729h1V720.2h1V682.1h1V716.5h1V698.7h1V711h1V701.7h1V701.7h1V715.1h1V718.2h1V731.5h1V715.6h1V720.7h1V710.5h1V713.2h1V723.1h1V723.8h1V687.8h1V716.7h1V718.1h1V712.8h1V711.1h1V712.4h1V705.1h1V706.8h1V687.8h1V707h1V711h1V720.7h1V707h1V723.5h1V726.3h1V730.9h1V713.3h1V701.5h1V727.8h1V729.9h1V731.3h1V735.6h1V733h1V734.4h1V734h1V734.1h1V733.8h1V732.3h1V733.9h1V733.9h1V734.7h1V734.4h1V733.3h1V733.1h1V730.9h1V733.4h1V733.2h1V730h1V731.2h1V729.9h1V729.9h1V731.2h1V734.7h1V733.9h1V733.1h1V732.7h1V733.7h1V734.5h1V733.8h1V730.1h1V730.1h1V731h1V729.2h1V729.6h1V732.1h1V730.8h1V734.2h1V732.5h1V734.3h1V734.4h1V733.5h1V733.5h1V734.2h1V734.1h1V734.3h1V735h1V733.2h1V735.6h1V734.9h1V732.5h1V732.1h1V730.1h1V735.3h1V733.6h1V735.3h1V733.5h1V735.3h1V734.1h1V735.9h1V730.8h1V730.3h1V728.3h1V732.3h1V734.8h1V731.5h1V732.2h1V732.1h1V733.2h1V733.2h1V731.1h1V730.6h1V733.2h1V734.5h1V734.9h1V733.5h1V734.2h1V732h1V732h1V733.3h1V731.3h1V733.5h1V735h1V732.9h1V733.4h1V734.1h1V731.7h1V734h1V735h1V735.9h1V733h1V735.4h1V736.5h1V732.2h1V733.9h1V733.8h1V734.3h1V732.4h1V732.3h1V734.9h1V736.4h1V735.2h1V734.4h1V736.4h1V735.4h1V734.7h1V734.4h1V735.3h1V734.6h1V732.5h1V732h1V733.4h1V732.4h1V735.9h1V737h1V734.2h1V735.5h1V730.6h1V730.2h1V730.5h1V734.1h1V731.8h1V734.4h1V735.9h1V733.9h1V735.9h1V732.8h1V735.1h1V733.2h1V731.9h1V733h1V734h1V734h1V731.7h1V734.4h1V735.2h1V733.6h1V732h1V732.1h1V732.4h1V734.7h1V735.1h1V732.1h1V734.5h1V734.6h1V731.1h1V735.1h1V733.8h1V733.7h1V733.1h1V734.7h1V731.7h1V734.8h1V744.8h-1V743.8h-1V745.8h-1V748h-1V744.6h-1V745.6h-1V744.4h-1V744.3h-1V746.3h-1V748.6h-1V747.4h-1V748.2h-1V745.1h-1V746.1h-1V747h-1V745.1h-1V749.6h-1V745.2h-1V744h-1V745h-1V747.9h-1V745.5h-1V745.5h-1V744.2h-1V745h-1V746.7h-1V744.6h-1V745.3h-1V744.5h-1V744.3h-1V745h-1V747.5h-1V746.8h-1V747.1h-1V745.3h-1V745.3h-1V747.2h-1V744.1h-1V744h-1V743.2h-1V745.9h-1V747h-1V746.3h-1V743.7h-1V745.6h-1V743.8h-1V744.4h-1V745.8h-1V743.1h-1V743.2h-1V742.6h-1V744.2h-1V744.5h-1V746.5h-1V746h-1V747.9h-1V746.6h-1V744.8h-1V745.6h-1V745.9h-1V743.9h-1V743.4h-1V744h-1V744.5h-1V747.2h-1V745.5h-1V746h-1V746.7h-1V742.9h-1V743.7h-1V743.9h-1V746.4h-1V746.1h-1V747.6h-1V750.2h-1V746.5h-1V746.2h-1V745.9h-1V745.9h-1V743.8h-1V744.4h-1V744.8h-1V746.5h-1V744.5h-1V748.7h-1V747.1h-1V748.3h-1V746.6h-1V747.4h-1V745.2h-1V752.5h-1V745.9h-1V747h-1V745.7h-1V743.3h-1V745.4h-1V743.9h-1V745.9h-1V745.6h-1V743.2h-1V745.2h-1V744.3h-1V746.4h-1V743.9h-1V747.3h-1V745h-1V744h-1V745.6h-1V742.9h-1V746.1h-1V743.7h-1V743.1h-1V743.4h-1V744.6h-1V743.6h-1V746h-1V746.1h-1V744.9h-1V745.5h-1V748.2h-1V750.7h-1V744.7h-1V743.5h-1V748h-1V745.6h-1V747.3h-1V747.1h-1V745.7h-1V746.5h-1V745.3h-1V746.9h-1V747.6h-1V746.6h-1V745.2h-1V745.3h-1V745.8h-1V747.3h-1V746.6h-1V748.5h-1V747.9h-1V743.5h-1V745.4h-1V744.6h-1V746.2h-1V746h-1V747.3h-1V745h-1V744.9h-1V742.6h-1V743.7h-1V745.8h-1V747.7h-1V744h-1V749.2h-1V751.2h-1V752.1h-1V749.9h-1V746.1h-1V748.4h-1V749h-1V752.5h-1V753.7h-1V754.9h-1V757.3h-1V761.7h-1V762.3h-1V752.8h-1V752.2h-1V757.7h-1V750.9h-1V751.4h-1V753.5h-1V754.1h-1V752.7h-1V754h-1V752.1h-1V750.8h-1V747.9h-1V747.4h-1V750.1h-1V756.2h-1V754.4h-1V758.2h-1V757.9h-1V754.8h-1V784.6h-1V753.7h-1V747.2h-1V748.5h-1V750.5h-1V749.3h-1V749.3h-1V752.9h-1V753.6h-1V747.6h-1V750h-1V745.6h-1V749.4h-1V746h-1V746.3h-1V745.1h-1V750.6h-1V750.7h-1V748.7h-1V753.4h-1V755.9h-1V751.4h-1V751h-1V748.3h-1V752h-1V746.8h-1V749.7h-1V751.1h-1V751.4h-1V755.4h-1V760.6h-1V752.5h-1V751.8h-1V772.3h-1V758h-1V764.1h-1V751.8h-1V756.7h-1V760.9h-1V757.1h-1V754.3h-1V754.5h-1V749.3h-1V754h-1V760.3h-1V750.1h-1V753.5h-1V756.9h-1V753.9h-1V753.3h-1V752.2h-1V769h-1V778.9h-1V750.1h-1V758h-1V764.1h-1V758.3h-1V753.6h-1V751.8h-1V757.1h-1V753.5h-1V753.7h-1V751.1h-1V756.7h-1V751.5h-1V751.3h-1V753.5h-1V755.9h-1V755.8h-1V754.7h-1V754.3h-1V756.5h-1V759.3h-1V753.2h-1V750.9h-1V756h-1V767.2h-1V752.1h-1V749.6h-1V749.1h-1V754.1h-1V752.6h-1V773.9h-1V747.8h-1V747.2h-1V750.4h-1V755.4h-1V752.1h-1V752.5h-1V749.2h-1V748.9h-1V749.8h-1V750.4h-1V755.3h-1V751.3h-1V753.2h-1V749.9h-1V753.2h-1V749.6h-1V749.4h-1V750h-1V751.4h-1V747.8h-1V751.4h-1V753.6h-1V749h-1V751h-1V749.7h-1V752.1h-1V749.2h-1V747.7h-1V751.7h-1V750.3h-1V747.4h-1V748.6h-1V746.1h-1V749.5h-1V746.5h-1V752h-1V750.5h-1V756h-1V749.4h-1V750.2h-1V747.5h-1V748.9h-1V748.2h-1V751.5h-1V751h-1V756h-1V754h-1V755.6h-1V750h-1V754.3h-1V749.2h-1V750.4h-1V749.3h-1V749h-1V750.5h-1V749.2h-1V750.9h-1V748h-1V750.4h-1V747.6h-1V751.5h-1V755.7h-1V759h-1V754.1h-1V750.9h-1V752h-1V751.5h-1V749.4h-1V747.9h-1V752.5h-1V747.9h-1V747.9h-1V753.4h-1V750.7h-1V748.9h-1V748.2h-1V751.1h-1V754.6h-1V754.2h-1V754.5h-1V753.3h-1V745.4h-1V748.8h-1V748h-1V747.8h-1V747.8h-1V745.3h-1V745.8h-1V745h-1V743h-1V745.6h-1V744h-1V747h-1V745h-1V744.4h-1V747h-1V748h-1V745.8h-1V745.2h-1V749.8h-1V746.8h-1V744.6h-1V746.8h-1V743.6h-1V746h-1V747.6h-1V746.2h-1V744.9h-1V744.6h-1V746.4h-1V749.1h-1V745.1h-1V746.9h-1V744.8h-1V744.2h-1V746.2h-1V747.1h-1V746.9h-1V746.8h-1V744.7h-1V745.9h-1V748.7h-1V745.4h-1V747.4h-1V746.9h-1V747.8h-1V747.1h-1V747.7h-1V743.1h-1V748.3h-1V746.8h-1V745h-1V746h-1V745.3h-1V746h-1V745.2h-1V744.4h-1V746.6h-1V743.9h-1V745h-1V745.5h-1V744.2h-1V743.9h-1V743.4h-1V745.7h-1V746.4h-1V743.8h-1V744.8h-1V744.2h-1V746.4h-1V745.6h-1V752.2h-1V747.3h-1V747.3h-1V744h-1V744.4h-1V747.2h-1V745.9h-1V750.2h-1V749.4h-1V754.3h-1V752.3h-1V747.9h-1V744.5h-1V743.5h-1V743.3h-1V746h-1V745.3h-1V746h-1V744.4h-1V743.8h-1V747.1h-1V746.7h-1V746.8h-1V745.8h-1V746h-1V747.8h-1V746h-1V745.5h-1V743.2h-1V745.2h-1V744h-1V744.1h-1V746.9h-1V748.6h-1V744.5h-1V747.4h-1V745.7h-1V744.6h-1V743.2h-1V745.1h-1V747.7h-1V747.9h-1V744.8h-1V747.6h-1V743.4h-1V744.5h-1V744.5h-1V743.9h-1V747h-1V745.8h-1V748.7h-1V751.3h-1V747.9h-1V750.7h-1V747.1h-1V745.7h-1V743.7h-1V744.9h-1V746.2h-1V744.1h-1V747.1h-1V745.8h-1V745.8h-1V745.1h-1V746.2h-1V745.4h-1V744.3h-1V745.5h-1V744.9h-1V745.6h-1V747.1h-1V748.3h-1V748.5h-1V747.6h-1V745.4h-1V744h-1V746.9h-1V744.5h-1V744.2h-1V744.8h-1V747.3h-1V747.7h-1V748.8h-1V752.2h-1V744.4h-1V743.5h-1V743.7h-1V748.7h-1V745.5h-1V744.5h-1V746.8h-1V744.3h-1V745.9h-1V744.2h-1V744.8h-1V745.5h-1V747.7h-1V744.8h-1V746.9h-1V746.3h-1V746.8h-1V747h-1V746h-1V748.2h-1V747.4h-1V745.8h-1V747.3h-1V746.8h-1V746h-1V745.7h-1V747.7h-1V743.7h-1V743.8h-1V744.8h-1V745.3h-1V748.1h-1V746.9h-1V749.2h-1V746.5h-1V749.8h-1V745.1h-1V745.7h-1V748h-1V746.9h-1V746.5h-1V746.1h-1V748.6h-1V751.3h-1V746.5h-1V751.7h-1V749.9h-1V750h-1V747.7h-1V746.6h-1V748.1h-1V749.2h-1V747.2h-1V747.7h-1V747.5h-1V746.7h-1V745.8h-1V745.5h-1V748.7h-1V746.6h-1V749.2h-1V748.4h-1V747.3h-1V748.7h-1V747.7h-1V747.7h-1V746.8h-1V751.3h-1V747.4h-1V744.7h-1V744.3h-1V744.8h-1V743.4h-1V744.4h-1V745.7h-1V746.4h-1V745.6h-1V748.9h-1V744.3h-1V745h-1V744h-1V748h-1V747.5h-1V746h-1V747.2h-1V745.1h-1V748.3h-1V745.9h-1V745.9h-1V748.9h-1V748.2h-1V749.9h-1V746.4h-1V747.1h-1V746h-1V744h-1V745.3h-1V745.3h-1V745.8h-1V743.4h-1V745h-1V743.7h-1V745.3h-1V745.5h-1V744.4h-1V746.3h-1V744.1h-1V744h-1V745.1h-1V747.5h-1V746.3h-1V747.1h-1V749.7h-1V749.7h-1V748.7h-1V750.6h-1V745.1h-1V747h-1V746.5h-1V747.4h-1V747.1h-1V744.9h-1V743.9h-1V743.8h-1V745.1h-1V746.5h-1V749.2h-1V747.7h-1V753.6h-1V748.4h-1V748.6h-1V746.3h-1V744.5h-1V744.5h-1V746.5h-1V748.9h-1V746.7h-1V747.6h-1V747h-1V751h-1V747.8h-1V746.1h-1V746h-1V747h-1V746.3h-1V746.1h-1V745.5h-1V745.1h-1V745.6h-1V743.1h-1V747.7h-1V745.5h-1V744.5h-1V746.5h-1V745.2h-1V749.6h-1V749.6h-1V746.6h-1V745.2h-1V744.3h-1V745.1h-1V744.1h-1V744.7h-1V746.7h-1V747.3h-1V749.2h-1V746.6h-1V750h-1V748h-1V746.1h-1V746.4h-1V744.6h-1V747h-1V744.5h-1V748h-1V746h-1V746.5h-1V744.2h-1V744.6h-1V744.3h-1V744.9h-1V744.1h-1V745.4h-1V746.8h-1V748.2h-1V746.8h-1V746.2h-1V744.9h-1V748.8h-1V748.5h-1V745.9h-1V746.9h-1V749.1h-1V745.4h-1V746.8h-1V744.3h-1V746h-1V745.7h-1V745.7h-1V743.4h-1V746.8h-1V746.1h-1V746.8h-1V745.2h-1V751.1h-1V745.1h-1V746.7h-1V746.6h-1V746.6h-1V745.7h-1V746.2h-1V744.7h-1V744.8h-1V745.9h-1V746.1h-1V743.9h-1V745h-1V746.7h-1V744.8h-1V746.8h-1V744.4h-1V744.9h-1V749h-1V747.9h-1V750.1h-1V746.4h-1V748.2h-1V746.8h-1V748.8h-1V749.1h-1V747.3h-1V744.4h-1V746.7h-1V747.8h-1V747.4h-1V745.4h-1V747.8h-1V747.3h-1V748.5h-1V754.9h-1V760h-1V746.1h-1V751.5h-1V747.7h-1V745.3h-1V744.7h-1V745h-1V747.5h-1V746.8h-1V750.2h-1V748.3h-1V749.6h-1V746.5h-1V748.5h-1V745.5h-1V747.2h-1V745.4h-1V749.9h-1V745h-1V749.6h-1V748h-1V743.5h-1V743.4h-1V744h-1V745.7h-1V750.6h-1V747.8h-1V747.1h-1V748.7h-1V747.2h-1V746.2h-1V745.7h-1V744.3h-1V746.8h-1V753.4h-1V744.4h-1V746.1h-1V748.9h-1V750.4h-1V747h-1V746.4h-1V744h-1V747.7h-1V748.2h-1V749.8h-1V750h-1V751.5h-1V753h-1V744.5h-1V746.6h-1V745.7h-1V747.9h-1V747h-1V743.7h-1V745.8h-1V745.8h-1V747.3h-1V747.6h-1V747.9h-1V746.8h-1V747.6h-1V745.5h-1V746.2h-1V742.9h-1V745.9h-1V745.4h-1V745.8h-1V747.8h-1V746.6h-1V749.1h-1V746.3h-1V745.7h-1V749h-1V746.1h-1V750.4h-1V750.1h-1V746.1h-1V744.8h-1V745.5h-1V744.2h-1V745.3h-1V744.1h-1V744.1h-1V745.3h-1V745.4h-1V748.5h-1V746.3h-1V747.5h-1V747.5h-1V745.2h-1V750h-1V744.6h-1V747.7h-1V745.1h-1V744.6h-1V745.4h-1V745.2h-1V743.3h-1V747.1h-1V746h-1V746.6h-1V748.7h-1V747.8h-1V745.5h-1V749.1h-1V748.8h-1V749.2h-1V744.6h-1V743.9h-1V748.5h-1V742.7h-1V746.1h-1V743.1h-1V744.1h-1V745.7h-1V745.8h-1V746.2h-1V745.1h-1V744.2h-1V744.9h-1V744.2h-1V743.2h-1V744.3h-1V743h-1V745.4h-1V744.5h-1V748.6h-1V753h-1V750h-1V750.8h-1V750.6h-1V748h-1V745.1h-1V747.2h-1V745.8h-1V747.1h-1V745.6h-1V744.2h-1V746.8h-1V746.7h-1V744.1h-1V746h-1V745.2h-1V744h-1V744.6h-1V743.9h-1V744.2h-1V749.6h-1V746.2h-1V744.9h-1V745.3h-1V743.3h-1V746.4h-1V744.3h-1V744.4h-1V746.2h-1V746.6h-1V747.1h-1V754h-1V746.3h-1V745.5h-1V744.9h-1V747.1h-1V745.3h-1V746.5h-1V748.8h-1V748h-1V748.9h-1V747h-1V748.2h-1V747.4h-1V747.1h-1V744.3h-1V744.5h-1V743.5h-1V743.1h-1V743.9h-1V743h-1V744.1h-1V744.8h-1V743.9h-1V745.5h-1V745.9h-1V746.2h-1V746.8h-1V743.8h-1V746.5h-1V749.3h-1V747.1h-1V750.1h-1V750.1h-1V744.7h-1V746.2h-1V744.4h-1V747.2h-1V745.8h-1V745.7h-1V745.9h-1V746.1h-1V746.1h-1V746.4h-1V743.1h-1V744h-1V748.1h-1V745h-1V749.8h-1V746.5h-1V747.1h-1V747.2h-1V748.5h-1V749.3h-1V746.8h-1V748.2h-1V748.1h-1V747.5h-1V748.5h-1V749.1h-1V747.8h-1V747.7h-1V747.9h-1V749.7h-1V744h-1V745.6h-1V743.5h-1V747.5h-1V745.3h-1V746.8h-1V747.1h-1V746.9h-1V748h-1V748.9h-1V747.4h-1V746.5h-1V747h-1V745.2h-1V744.7h-1V747.8h-1V748.9h-1V747.2h-1V749.1h-1V746.9h-1V747.6h-1V743.6h-1V745.2h-1V745.3h-1V745.8h-1V744.9h-1V745.7h-1V746.1h-1V746.3h-1V744.4h-1V747.3h-1V746h-1V744.1h-1V743.8h-1V743.3h-1V744.9h-1V745h-1V745.6h-1V748h-1V744h-1V745.1h-1V743.7h-1V743.5h-1V745h-1V743.9h-1V746.8h-1V746.8h-1V748.9h-1V745.3h-1V745.6h-1V746.5h-1V747.7h-1V749.2h-1V745.2h-1V747.3h-1V743.8h-1V746.5h-1V746.3h-1V745.9h-1V744.8h-1V748.1h-1V746.7h-1V749.5h-1V753.7h-1V745.6h-1V744.9h-1V746.4h-1V744.8h-1V744.5h-1V747.1h-1V744.3h-1V746.9h-1V745h-1V744.7h-1V746.7h-1V744.5h-1V743.5h-1V747.1h-1V743h-1V746.4h-1V746.7h-1V746.6h-1V746h-1V747.8h-1V750.3h-1V748.1h-1V744.8h-1V744.2h-1V748.4h-1V750.5h-1V749.4h-1V746.1h-1V748.5h-1V749h-1V748.8h-1V747.4h-1V747.1h-1V746.7h-1V750.7h-1V748.8h-1V745.3h-1V745.4h-1V746.8h-1V746.4h-1V749.1h-1V747.8h-1V749.7h-1V751.5h-1V746.5h-1V746.6h-1V745.6h-1V744.3h-1V745.3h-1V746h-1V746.4h-1V746.9h-1V746.3h-1V744.6h-1V742.6h-1V743.4h-1V743.8h-1V748.6h-1V747h-1V750.8h-1V746.5h-1V749.1h-1V754.5h-1V748.3h-1V750.2h-1V746.8h-1V744.6h-1V745.8h-1V745.6h-1V744.5h-1V745.6h-1V747.2h-1V747.6h-1V750.6h-1V753.7h-1V750.7h-1V744.6h-1V747.5h-1V746.2h-1V746.2h-1V746.2h-1V746.7h-1V747.9h-1V746.8h-1V743.6h-1V746.4h-1V748.9h-1V746.2h-1V746.9h-1V747.7h-1V746.8h-1V745.1h-1V745.6h-1V746.4h-1V746.1h-1V744.6h-1V749.4h-1V747.2h-1V749.1h-1V744.8h-1V747.2h-1V746.7h-1V752.2h-1V748.5h-1V747.1h-1V751.7h-1V750.4h-1V749.9h-1V746.3h-1V747.2h-1V744.6h-1V747h-1V747.6h-1V768.2h-1V746.1h-1V747.5h-1V749.6h-1V747h-1V750.9h-1V753.9h-1V755.4h-1V754.5h-1V746.7h-1V751.1h-1V747.7h-1V750.9h-1V745.7h-1V745.8h-1V746.9h-1V749.8h-1V745.5h-1V750.5h-1V748h-1V745.3h-1V745.9h-1V746.6h-1V747.3h-1V745.5h-1V750.7h-1V748.8h-1V748.3h-1V746h-1V747.7h-1V747.9h-1V748h-1V755.1h-1V753.6h-1V752.3h-1V746.5h-1V749h-1V745.7h-1V742.2h-1V744.4h-1V743.8h-1V744.5h-1V749.5h-1V754.8h-1V748.9h-1V750.1h-1V746.4h-1V745.3h-1V745.5h-1V745.5h-1V747.3h-1V748.3h-1V750.1h-1V748.6h-1V749.7h-1V751.1h-1V747.9h-1V749.2h-1V748h-1V747.9h-1V744.6h-1V746h-1V746.6h-1V748.5h-1V748.8h-1V752.7h-1V744.9h-1V747.1h-1V744.9h-1V745.4h-1V744.9h-1V743.3h-1V743.7h-1V744.8h-1V744.5h-1V747h-1V744h-1V745.2h-1V743.9h-1V744.3h-1V744.5h-1V744.6h-1V742.7h-1V743.8h-1V746.5h-1V746.5h-1V747.6h-1V751h-1V746.4h-1V743.9h-1V746.6h-1V746.2h-1V747.7h-1V749.3h-1V748.9h-1V747.4h-1V746.5h-1V749.7h-1V744.3h-1V744.8h-1V745.3h-1V746h-1V746.3h-1V744.2h-1V747.5h-1V746h-1V748.7h-1V750.8h-1V750.8h-1V749.4h-1V748.2h-1V749.7h-1V747.8h-1V747.8h-1V749.2h-1V749.2h-1V745.1h-1V749.5h-1V750h-1V747.2h-1V751h-1V751h-1V748.7h-1V748.8h-1V746.9h-1V748.8h-1V747.3h-1V747.4h-1V749.6h-1V746.1h-1V746.7h-1V747.7h-1V747.4h-1V747.2h-1V748.3h-1V745.1h-1V747.2h-1V746.3h-1V745.5h-1V745.8h-1V744.8h-1V745.2h-1V744.7h-1V745.4h-1V744.4h-1V745.1h-1V749.4h-1V749.4h-1V746.5h-1V746.9h-1V744.5h-1V750.2h-1V748.5h-1V748.9h-1V748.1h-1V746.3h-1V749.1h-1V744.6h-1V744.4h-1V747.9h-1V746.6h-1V747h-1V749h-1V749.1h-1V750.8h-1V744.8h-1V745.2h-1V744h-1V747.3h-1V747.7h-1V747.6h-1V751.3h-1V750.3h-1V750.9h-1V751.1h-1V746.2h-1V746.7h-1V745.5h-1V747.5h-1V744.9h-1V750.2h-1V744.6h-1V746.2h-1V746.6h-1V749.6h-1V751.8h-1V747.1h-1V744.9h-1V745.6h-1V744h-1V745.3h-1V743.1h-1V743.3h-1V744.5h-1V744.9h-1V744.9h-1V744.4h-1V745.5h-1V745.7h-1V743.7h-1V745.5h-1V745.3h-1V747.7h-1V746h-1V745.9h-1V749.5h-1V747.3h-1V744.9h-1V744.5h-1V749.3h-1V750.3h-1V751.1h-1V745.6h-1V750.4h-1V748.5h-1V746.5h-1V746.1h-1V745h-1V743.7h-1V745.5h-1V742.2h-1V747.7h-1V745.8h-1V745.7h-1V746.8h-1V744.1h-1V744.3h-1V747.8h-1V746.3h-1V743.7h-1V745.3h-1V748.7h-1V745.5h-1V746.7h-1V745.1h-1V745.1h-1V745h-1V747.3h-1V747.3h-1V746.6h-1V746.3h-1V745h-1V744.7h-1V743.4h-1V751.3h-1V747.2h-1V749.1h-1V749.3h-1V746.2h-1V746h-1V744.2h-1V743.8h-1V744.9h-1V743.7h-1V745.7h-1V745.9h-1V743.3h-1V744.7h-1V747.8h-1V743.3h-1V747.8h-1V747.9h-1V746h-1V747h-1V742.5h-1V745.4h-1V748.3h-1V744.5h-1V746.2h-1V745.7h-1V747.5h-1V744.7h-1V748.5h-1V746.6h-1V747.3h-1V749.5h-1V749h-1V746h-1V746.4h-1V748.4h-1V749.3h-1V746.9h-1V744.8h-1V744.9h-1V745.5h-1V745.5h-1V748h-1V744.2h-1V744.9h-1V741.6h-1V743.5h-1V742.2h-1V743.9h-1V743.9h-1V743.7h-1V744.2h-1V742.7h-1V742.9h-1V744.2h-1V743.5h-1V744.9h-1V744.1h-1V743.2h-1V745.6h-1V743.8h-1V748.1h-1V747.5h-1V749.4h-1V748.9h-1V747.2h-1V748.6h-1V746.3h-1V746.6h-1V744.7h-1V744.2h-1V747.1h-1V747.7h-1V745.1h-1V746.2h-1V743.9h-1V746.5h-1V746.4h-1V746.8h-1V747.1h-1V743.6h-1V744.9h-1V744.2h-1V744.9h-1V743.2h-1V746.3h-1V743.7h-1V745.1h-1V747.4h-1V744.8h-1V747.9h-1V746.9h-1V748.5h-1V747.1h-1V745.8h-1V747.2h-1V746h-1V746.1h-1V748.5h-1V745.2h-1V748.1h-1V745.8h-1V745.2h-1V747.2h-1V745.2h-1V744.4h-1V744.6h-1V742.3h-1V745.6h-1V745.4h-1V746.1h-1V744.9h-1V745.4h-1V745.9h-1V749.6h-1V745h-1V746.2h-1V747.5h-1V746.7h-1V746.6h-1V746.7h-1V749.5h-1V746.5h-1V752.9h-1V748.1h-1V753.2h-1V748.8h-1V749.3h-1V743.8h-1V744.9h-1V746.5h-1V752h-1V752.3h-1V745.9h-1V747.8h-1V743.5h-1V744.5h-1V746.6h-1V745.7h-1V749.2h-1V746.2h-1V744.9h-1V747.3h-1V743.2h-1V745.9h-1V746.5h-1V748.3h-1V747.3h-1V748.6h-1V747.2h-1V745.7h-1V745h-1V745.2h-1V742.3h-1V744.1h-1V744.7h-1V744.7h-1V746.4h-1V748.9h-1V747.5h-1V748.2h-1V746.5h-1V744.7h-1V746.8h-1V745.8h-1V749.2h-1V751.8h-1V750.6h-1V744.5h-1V744.9h-1V744h-1V748h-1V746.2h-1V745.1h-1V752.3h-1V748.1h-1V750h-1V749.6h-1V747.1h-1V750h-1V751.9h-1V746.5h-1V751.3h-1V745.5h-1V746h-1V750.5h-1V745.8h-1V746.9h-1V746.6h-1V750.7h-1V750.7h-1V751.8h-1V746.3h-1V745.3h-1V746.4h-1V754.2h-1V748.6h-1V746.7h-1V746.2h-1V751.1h-1V747.5h-1V745.7h-1V746.2h-1V746.3h-1V747.7h-1V746.6h-1V746.1h-1V749.8h-1V749.5h-1V747.9h-1V750.3h-1V747.2h-1V748.8h-1V746h-1V747.3h-1V744.7h-1V745.1h-1V745.9h-1V745.3h-1V747.7h-1V745.3h-1V747.2h-1V745h-1V745.4h-1V746h-1V747.1h-1V745.1h-1V745.1h-1V747.8h-1V744.8h-1V743.9h-1V745.7h-1V746.3h-1V747.4h-1V751.6h-1V749.7h-1V749.1h-1V748h-1V750.6h-1V747.1h-1V748.4h-1V745.5h-1V745.5h-1V743.7h-1V744.5h-1V744.9h-1V745.9h-1V745.7h-1V746h-1V747.5h-1V748.3h-1V748h-1V743.3h-1V749.3h-1V748.4h-1V747.2h-1V746.9h-1V745h-1V749.4h-1V748.1h-1V745.7h-1V752.8h-1V745.3h-1V745.5h-1V743.7h-1V746h-1V745.7h-1V746.3h-1V746.7h-1V745.8h-1V745h-1V743.9h-1V746.6h-1V748.8h-1V748h-1V743.7h-1V743.7h-1V744.7h-1V743.8h-1V746.9h-1V746.8h-1V743.7h-1V745.7h-1V744.6h-1V751.9h-1V747.3h-1V748.4h-1V747.1h-1V745.7h-1V745.9h-1V747.2h-1V748.8h-1V745.5h-1V746.1h-1V747.6h-1V747.8h-1V747.6h-1V745.3h-1V746.5h-1V747.7h-1V746.9h-1V746.1h-1V746.9h-1V747.5h-1V748.1h-1V743.8h-1V747.8h-1V743.4h-1V744.9h-1V744.9h-1V743.7h-1V747.2h-1V746.7h-1V749h-1V745.8h-1V746h-1V747.1h-1V747h-1V747.1h-1V749.9h-1V748.5h-1V746.7h-1V745.6h-1V747.3h-1V747.5h-1V752h-1V745.4h-1V745.4h-1V744.9h-1V743.1h-1V743.6h-1V742.6h-1V745.4h-1V743.7h-1V744.5h-1V750.3h-1V747.9h-1V751.7h-1V752.1h-1V747.1h-1V748.2h-1V744.9h-1V747.1h-1V747.3h-1V749h-1V750h-1V745.9h-1V744.9h-1V747h-1V748.7h-1V746.4h-1V746h-1V745.3h-1V744.8h-1V743.8h-1V744.8h-1V744.1h-1V745.1h-1V746.8h-1V743.8h-1V745.2h-1V746.4h-1V744.9h-1V745.3h-1V745.5h-1V745h-1V745h-1V744.1h-1V745.7h-1V749h-1V746h-1V746h-1V747.6h-1V745.2h-1V745.8h-1V747.3h-1V747h-1V743.7h-1V747.7h-1V744.2h-1V742.7h-1V744.4h-1V744.9h-1V743.9h-1V743.7h-1V744h-1V746.5h-1V748.7h-1V764.1h-1V748.1h-1V750h-1V747.3h-1V747.2h-1V746h-1V747.9h-1V747.1h-1V746.3h-1V745.6h-1V745.5h-1V743.7h-1V745.3h-1V745.2h-1V745.2h-1V745.9h-1V745.5h-1V744.3h-1V743.8h-1V746.5h-1V746.6h-1V750.9h-1V744.8h-1V745.6h-1V745.4h-1V748.2h-1V746.9h-1V745.3h-1V747.8h-1V746.2h-1V750.3h-1V747.1h-1V745.6h-1z" fill="#0000ff"/>
</g>
<text x="9.2" y="718.5" text-anchor="middle" font-size="12.35" font-weight="bold" transform="rotate(-90 9.2 718.5)">Z (nT)</text>
<rect x="836.0" y="616.0" width="603.8" height="205.0" fill="#00008f"/>
<g clip-path="url(#cr2)">
<use href="#sg2" filter="url(#glow)"/>
<g id="sg2" filter="url(#b)">
<path d="M847.3 615.1l0 37.9 .4 32.8 0 1 0-1 .4-32.8 0-37.9zM1040 676.3l-.1 1-.1 13.1 .1 21.3 .6 71.8 .4 15.2 0 1 .1-1 .3-14.2-.1-49.6-.5-40.4-.7-17.2zM1086.3 757.8l-.1 1-.3 16.4 0 48.3 1.6 0-.5-47.2-.7-17.5zM1065.7 741.6l0 1-.2 14.5 0 17.5 .1 7.3 .1 1 .1-1 .2-7.3 0-17.5-.3-14.5zM1104.4 675.4l0 1-.2 16.5 .2 26.8 0 1 .1-1 .1-26.8-.2-16.5zM964 784.3l0 1-.1 7.2 .1 8.4 0 1 .1-1 .1-8.4-.1-7.2zM1183.2 615.1l-.6 208.4 2.5 0-.5-208.4zM1152.1 750.7l0 1-.9 19.3-.7 37.7 .3 9.2 0 1 .1-1 .5-6.1 .2-5.1 .6-38.7 0-16.3zM1158.3 626.3l0 1-.1 10.2 .2 18.4 .1 1 0-1-.1-28.6zM1283 756.8l0 1-.4 16.4-.1 49.3 1 0-.1-49.3-.3-16.4zM1318.2 615.1l.2 50.4 0 1 .1-1 .1-50.4zM1326 635.3l0 1-.2 17.2 0 65.8 .2 8 0 1 0-1 .2-8 .1-65.8-.3-17.2zM1329.4 615.1l.1 31 .2 11.4 .1 1 0-1 .3-11.4 .1-31zM1338.4 659.1l0 1-.4 18.1 .7 81.7 .5 25.2 .7 10 0 1 .1-1 .6-10 0-24.2-1.3-82.7-.8-18.1zM1336.1 771l0 1-.7 16.5-.1 35 1.6 0-.1-35-.6-16.5zM1349.1 615.1l-.7 44.4-1 28.2-.2 37.3 1.5 66.6 .9 14.2 1.9 9.1 .1 0 1.3-8.1 .2-4.1-3.2-83.7-.2-32.3 .9-27.2 .4-44.4zM1355.2 615.1l-.2 94.6 .2 51.4-.6 62.4 1 0 .8-60.4 .3-49.4-.2-98.6zM1360.1 692l0 1-.4 10.2-.1 9.2 .2 46.1 .5 11.3 .1 1 .1-1 .4-7.2 .1-6.1-.3-48.2-.5-15.3zM1365.8 615.1l-.1 19.2 .2 63.7 .5 59.7 .2 7.1 .8 11.1 .1 1 0-1 .9-11.1 .1-8.1-.9-104.2-.3-18.2-.2-19.2zM1372 656.5l0 1-.5 17.2-.9 87 .1 6.1 .7 8.1 .1 1 .2-1 .7-8.1 .1-6.1 0-88-.4-16.2zM1368.7 771.9l-2.2 7.2-.5 4.1-.8 40.3 7.1 0-.8-40.3-.6-4.1-2.1-7.2zM1372 761.8l-.1 1-2.4 9.2-.7 5.2-.6 15.4-.7 30.9 9 0-.6-30.9-.7-15.4-.6-5.2-2.4-9.2zM1375.3 668.7l0 1-.3 17.2 .3 70.8 .4 11.1 .1 1 .1-1 .3-6 .1-6.1-.6-72.9-.3-14.1z" fill="#0000c8"/>
<path d="M847.4 615.1l0 34.8 .3 28.7 0 1 0-1 .3-28.7 0-34.8zM1040 681.3l0 1 0 29.4 .9 78.9 0 1 .1-1 .1-10.1 0-46.6-.4-28.3-.6-23.3zM1086.4 766l-.1 1-.1 10.3 0 46.2 1 0-.4-46.2-.4-10.3zM1065.7 753l0 1 0 17.6 0 1 0-1 0-17.6zM1183.2 615.1l-.4 208.4 2.1 0-.4-208.4zM1152 757.8l-.1 1-.5 12.2-.6 36.7 0 6.1 .1 1 .1-1 .4-8.1 .6-36.7 0-10.2zM1283 764l0 1-.2 10.2 0 48.3 .4 0 0-48.3-.2-10.2zM1318.3 615.1l.1 42.2 0 1 0-1 .1-42.2zM1326 642.4l0 1 0 65.7 0 1 0-1 0-65.7zM1329.5 615.1l.1 30 .1 8.2 .1 1 .1-1 .1-8.2 .1-30zM1338.5 663.1l-.1 1-.3 15.1 .8 79.6 .4 24.2 .5 8.1 .1 1 .1-1 .4-8.1 0-24.2-1.2-79.6-.7-15.1zM1336.1 777.1l0 1-.4 11.4-.1 34 1 0 0-34-.5-11.4zM1349.2 615.1l-.6 44.4-1.1 28.2-.2 37.3 1.5 64.6 1 15.2 .5 3 .9 4 .3 1 .2-1 1-6 .1-5.1-2.2-60.5-.8-17.2-.3-32.3 .1-7 .9-24.2 .4-44.4zM1355.3 615.1l-.2 94.6 .3 51.4-.5 62.4 .4 0 1-60.4 .3-49.4-.2-98.6zM1360.1 696.1l0 1-.3 7.1-.1 8.2 .2 45.1 .4 9.2 .1 1 .1-1 .3-5.1 .1-6.1-.3-47.2-.4-11.2zM1365.9 615.1l-.1 19.2 .2 63.7 .5 56.7 .2 10.1 .7 8.1 .1 1 .1-1 .6-8.1 .2-9.1-.8-103.2-.4-18.2-.1-19.2zM1372 659.6l0 1-.4 15.2-.8 85.9 0 6.1 .6 6.1 .1 1 .1-1 .6-6.1 .2-6.1 0-88-.3-13.1zM1368.7 774l-.3 1-1.4 4.1-.5 4.1-.8 40.3 6.1 0-.8-40.3-.5-4.1-1.4-4.1zM1372 764.9l-.2 1-1.9 6.1-.7 5.2-.6 15.4-.7 30.9 8.2 0-.6-30.9-.7-15.4-.6-5.2-1.9-6.1zM1375.3 672.7l0 1-.2 14.2 .4 69.8 .3 8.1 0 1 0-1 .3-10.1-.5-70.8-.2-11.2z" fill="#0008ff"/>
<path d="M847.4 615.1l.3 56.3 0 1 0-1 .3-56.3zM1040.1 686.4l0 1 .1 24.3 .6 56.6 0 1 .1-1-.2-50.6-.6-30.3zM1086.5 792.7l0 1 0 29.8 .4 0-.3-29.8zM1183.3 615.1l-.3 208.4 1.7 0-.3-208.4zM1151.7 769l0 1-.2 10.2 0 1 0-1 .2-10.2zM1329.6 615.1l.2 34.1 0 1 0-1 .2-34.1zM1338.5 667.1l0 1-.2 11.1 .8 78.6 .7 29.3 .1 1 .1-1 .1-28.3-1-79.6-.5-11.1zM1336.1 786.4l0 1 0 36.1 .1 0 0-36.1zM1349.3 615.1l-.6 44.4-1 28.2-.2 37.3 1.5 62.6 1 16.2 .4 3 .7 3 .3 1 .3-1 .7-4 .1-6.1-2.1-59.5-.8-17.2-.3-31.3 .1-8 .9-25.3 .4-43.3zM1355.4 615.1l-.2 94.6 .4 51.4-.3 41.3 0 1 .1-1 .7-40.3 .4-49.4-.2-97.6zM1360.1 700.2l0 1-.2 11.2 .2 44.1 .2 7.2 .1 1 .1-1 .2-9.3-.3-44-.2-9.2zM1365.9 615.1l-.1 20.2 .3 66.8 .6 57.6 .2 5.1 .5 6 .1 1 0-1 .6-8 .1-13.2-.7-97.1-.4-18.2-.1-19.2zM1372 663.6l0 1-.3 9.1-.4 33.4-.4 54.6 .1 5.1 .4 5.1 .1 1 .1-1 .5-5.1 .1-5.1 .1-87-.2-10.1zM1368.7 776l-.4 1-.9 3.1-.4 4.2-.7 39.2 4.9 0-.7-39.2-.4-4.2-.9-3.1zM1372 766.9l-.2 1-1.6 5.2-.5 5.1-.7 15.5-.6 29.8 7.2 0-.5-29.8-.7-15.5-.6-5.1-1.5-5.2zM1375.3 678.8l0 1 .5 78.9 0 1 0-1-.4-78.9z" fill="#004cff"/>
<path d="M847.5 615.1l.2 44 0 1 0-1 .2-44zM1040.3 702.6l0 1 .3 26.3 0 1 0-1-.3-26.3zM1183.4 615.1l-.2 208.4 1.3 0-.2-208.4zM1329.7 615.1l.1 12.4 0 1 0-1 .1-12.4zM1338.6 671.2l0 1-.1 8 .8 76.6 .5 20.2 0 1 0-1 .1-19.2-1-77.6-.3-8zM1349.5 615.1l-.6 44.4-1 28.2-.2 37.3 1.5 62.6 1 15.1 .4 3.1 .8 3 0 1 0-1 .7-4 .1-6.1-2-58.5-.8-17.2-.3-31.3 .1-8 1-25.3 .4-43.3zM1355.5 615.1l-.2 94.6 .5 46.3 0 1 .1-1 .5-46.3-.2-94.6zM1360.2 705.3l-.1 1 .3 52.2 0 1 0-1-.2-52.2zM1366 615.1l-.1 20.2 .3 64.7 .7 58.7 .5 9.1 .1 1 .1-1 .5-9.1-.1-31.4-.6-75.8-.3-17.2-.2-19.2zM1372 667.7l0 1-.6 41.5-.3 50.5 0 5.1 .3 4 .1 1 .1-1 .3-4 .1-5.1 .1-92zM1368.7 778.1l-.3 1-.6 3.1-.2 3.1-.6 38.2 3.5 0-.6-38.2-.2-3.1-.6-3.1zM1372 769l-.2 1-1.2 4.1-.6 6.2-.5 13.4-.6 29.8 6.2 0-.5-29.8-.6-13.4-.5-6.2-1.2-4.1z" fill="#0090ff"/>
<path d="M847.6 615.1l.1 29.7 0 1 0-1 .1-29.7zM1183.5 615.1l.1 169.1-.1 39.3 .8 0-.1-39.3 .1-169.1zM1349.6 615.1l-.5 44.4-.9 28.2-.2 37.3 1.5 61.6 .9 15.1 .4 3.1 .5 2 0 1 .1-1 .5-4.1-.1-9-1.8-53.5-.9-17.2-.2-29.2 .1-10.1 1-25.3 .4-43.3zM1355.5 615.1l0 93.6 .3 22.2 0 1 .1-1 .3-22.2-.1-93.6zM1366.1 615.1l-.1 20.2 .3 63.7 .7 58.7 .4 8.1 .1 1 0-1 .4-8.1-.1-35.4-.5-70.8-.3-17.2-.2-19.2zM1372 682.8l-.1 1-.6 75.9 .2 8.1 0 1 .1-1 .2-7.1 .2-76.9zM1368.7 781.2l-.1 1-.3 4.1-.6 37.2 2.1 0-.6-37.2-.3-4.1zM1372 771l-.2 1-.6 2.1-.4 3.1-.7 11.3-.6 35 5.1 0-.7-35-.6-11.3-.5-3.1-.5-2.1z" fill="#00d4ff"/>
<path d="M1183.5 615.1l0 56.3 .2 25.2 .1 87.6 .1 1 0-1 .1-87.6 .3-25.2-.1-56.3zM1183.9 788.3l-.1 1-.1 34.2 .3 0-.1-34.2zM1349.8 615.1l-.5 44.4-.9 28.2-.2 37.3 1.5 60.6 .7 12.1 .6 6.1 .2 1 .2-1 .2-5.1-.3-13.1-1.6-46.4-.8-15.2-.1-7-.1-30.3 1-27.2 .6-44.4zM1355.6 615.1l0 92.6 .2 14.1 0 1 .1-1 .2-14.1 0-92.6zM1366.2 615.1l-.1 20.2 .3 63.7 .7 55.7 .3 8.1 .1 1 0-1 .2-9.1 0-42.5-.4-59.7-.4-17.2-.1-19.2zM1371.6 756.7l-.1 1 0 3 .1 1 0-1 0-3zM1372 774.1l-.2 1-.6 4.1-.7 12.4-.5 31.9 4 0-.5-31.9-.7-12.4-.5-4.1z" fill="#19ffe6"/>
<path d="M1183.6 615.1l0 56.3 .2 20.2 .1 1 0-1 .2-20.2 0-56.3zM1350 615.1l-.2 17.1 0 1 .1-1 .2-17.1zM1348.6 725.1l0 1 .1 12.1 1.2 45.4 .4 7 .7 9.1 .1 1 0-1-.2-19.2-1.4-41.3-.8-13.1zM1355.7 615.1l.1 97.6 0 1 .1-1 0-97.6zM1366.3 615.1l-.1 20.2 .3 62.7 .9 59.7 .1 1 0-1 0-56.7-.3-49.5-.4-17.2-.1-19.2zM1372 779.3l-.1 1-.8 13.4-.5 29.8 2.8 0-.4-29.8-.8-13.4z" fill="#5dffa2"/>
<path d="M1183.7 615.1l.1 66.4 .1 1 0-1 .1-66.4zM1349.1 737.2l-.1 1 1.2 44.4 .5 8 0 1 0-1-.1-8-1.5-44.4zM1366.4 615.1l-.2 20.2 .3 61.7 .8 45.5 .1 1 0-1 0-33.4-.3-53.6-.5-40.4zM1372 788.5l0 1-.3 6.2-.4 27.8 1.4 0-.3-27.8-.3-6.2z" fill="#a2ff5e"/>
<path d="M1183.8 615.1l0 24.1 .1 1 0-1 0-24.1zM1366.5 620.1l-.1 1-.1 15.2 .3 59.7 .6 30.3 0 1 .1-1-.3-73.8-.5-31.4z" fill="#e5ff1a"/>
<path d="M1366.5 634.3l0 1 .3 60.7 .3 17.2 0 1 .1-1-.3-61.7-.4-16.2z" fill="#ffd500"/>
<path d="M1366.6 643.4l0 1 .4 56.6 0 1 0-1-.3-56.6z" fill="#ff9000"/>
</g>
</g>
<text x="836.1" y="835.7" text-anchor="middle" font-size="12.4">00:00</text>
<text x="911.5" y="835.7" text-anchor="middle" font-size="12.4">03:00</text>
<text x="986.9" y="835.7" text-anchor="middle" font-size="12.4">06:00</text>
<text x="1062.2" y="835.7" text-anchor="middle" font-size="12.4">09:00</text>
<text x="1137.6" y="835.7" text-anchor="middle" font-size="12.4">12:00</text>
<text x="1213.0" y="835.7" text-anchor="middle" font-size="12.4">15:00</text>
<text x="1288.3" y="835.7" text-anchor="middle" font-size="12.4">18:00</text>
<text x="1363.7" y="835.7" text-anchor="middle" font-size="12.4">21:00</text>
<text x="1439.1" y="835.7" text-anchor="middle" font-size="12.4">00:00</text>
<text x="832.5" y="822.8" text-anchor="end" font-size="12.4">7</text>
<text x="832.5" y="799.5" text-anchor="end" font-size="12.4">8</text>
<text x="832.5" y="778.9" text-anchor="end" font-size="12.4">9</text>
<text x="832.5" y="760.5" text-anchor="end" font-size="12.4">10</text>
<text x="832.5" y="728.7" text-anchor="end" font-size="12.4">12</text>
<text x="832.5" y="701.8" text-anchor="end" font-size="12.4">14</text>
<text x="832.5" y="678.5" text-anchor="end" font-size="12.4">16</text>
<text x="832.5" y="657.9" text-anchor="end" font-size="12.4">18</text>
<text x="832.5" y="639.5" text-anchor="end" font-size="12.4">20</text>
<text x="832.5" y="622.9" text-anchor="end" font-size="12.4">22</text>
<path d="M911.9 821.5v-5M911.9 616.5v5M987.2 821.5v-5M987.2 616.5v5M1062.6 821.5v-5M1062.6 616.5v5M1138.0 821.5v-5M1138.0 616.5v5M1213.4 821.5v-5M1213.4 616.5v5M1288.8 821.5v-5M1288.8 616.5v5M1364.1 821.5v-5M1364.1 616.5v5M836.0 817.8h5M1439.8 817.8h-5M836.0 794.5h5M1439.8 794.5h-5M836.0 773.9h5M1439.8 773.9h-5M836.0 755.5h5M1439.8 755.5h-5M836.0 723.7h5M1439.8 723.7h-5M836.0 696.8h5M1439.8 696.8h-5M836.0 673.5h5M1439.8 673.5h-5M836.0 652.9h5M1439.8 652.9h-5M836.0 634.5h5M1439.8 634.5h-5M836.0 617.9h5M1439.8 617.9h-5" stroke="#000" stroke-opacity="0.35" stroke-width="1" fill="none"/>
<text x="809.5" y="719.0" text-anchor="middle" font-size="12.35" font-weight="bold" transform="rotate(-90 809.5 719.0)">freq (mHz)</text>
<rect x="1458.5" y="616.5" width="25.0" height="205.0" fill="url(#jet)"/>
<text x="1486.5" y="621.0" text-anchor="start" font-size="12.4">4</text>
<text x="1486.5" y="655.2" text-anchor="start" font-size="12.4">3</text>
<text x="1486.5" y="689.3" text-anchor="start" font-size="12.4">2</text>
<text x="1486.5" y="723.5" text-anchor="start" font-size="12.4">1</text>
<text x="1486.5" y="757.7" text-anchor="start" font-size="12.4">0</text>
<text x="1486.5" y="791.8" text-anchor="start" font-size="12.4">-1</text>
<text x="1486.5" y="826.0" text-anchor="start" font-size="12.4">-2</text>
<path d="M1458.5 650.7h3M1483.5 650.7h-3M1458.5 684.8h3M1483.5 684.8h-3M1458.5 719.0h3M1483.5 719.0h-3M1458.5 753.2h3M1483.5 753.2h-3M1458.5 787.3h3M1483.5 787.3h-3" stroke="#000" stroke-opacity="0.45" stroke-width="1" fill="none"/>
<text x="1518.6" y="719.0" text-anchor="middle" font-size="12.35" font-weight="bold" transform="rotate(-90 1518.6 719.0)">log<tspan dy="3" font-size="9">2</tspan><tspan dy="-3">(nT</tspan><tspan dy="-5" font-size="9">2</tspan><tspan dy="5">/Hz)</tspan></text>
<text x="344.0" y="851.0" text-anchor="middle" font-size="12.35" font-weight="bold">UT (hours)</text>
<text x="1138.0" y="851.0" text-anchor="middle" font-size="12.35" font-weight="bold">UT (hours)</text>
</svg>
</body></html>
